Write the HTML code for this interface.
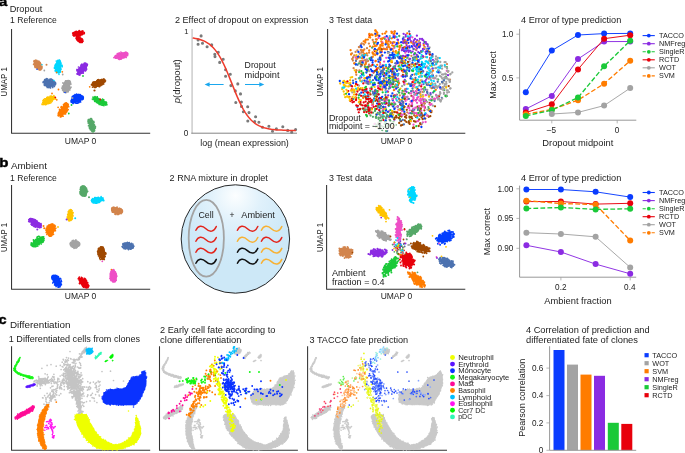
<!DOCTYPE html><html><head><meta charset="utf-8"><title>fig</title><style>html,body{margin:0;padding:0;background:#fff}svg{display:block;will-change:transform}</style></head><body><svg width="685" height="453" viewBox="0 0 685 453" font-family='"Liberation Sans", sans-serif' fill="#222">
<rect width="685" height="453" fill="#fff"/>
<text x="-0.9" y="6.2" font-size="12.4" font-weight="bold" fill="#000" stroke="#000" stroke-width="0.4" transform="scale(1.2 1)">a</text>
<text x="9.7" y="11.5" font-size="8.8" textLength="32.6" lengthAdjust="spacingAndGlyphs">Dropout</text>
<text x="10.1" y="22.9" font-size="8.8" textLength="46.8" lengthAdjust="spacingAndGlyphs">1 Reference</text>
<path d="M11.55 29.0V133.2H150.2" stroke="#333" stroke-width="1.05" fill="none" stroke-linejoin="round"/>
<text x="7.3" y="81.8" font-size="8.7" text-anchor="middle" textLength="29.2" lengthAdjust="spacingAndGlyphs" transform="rotate(-90 7.3 81.8)">UMAP 1</text>
<text x="80.6" y="143.7" font-size="8.7" text-anchor="middle" textLength="31.5" lengthAdjust="spacingAndGlyphs">UMAP 0</text>
<ellipse cx="78.5" cy="33.5" rx="4.9" ry="2.3" transform="rotate(-8 78.5 33.5)" fill="#e8000b"/>
<g fill="#e8000b"><circle cx="74.3" cy="33.6" r="1.8"/><circle cx="76.1" cy="33.9" r="1.8"/><circle cx="78.0" cy="33.6" r="1.8"/><circle cx="80.3" cy="32.6" r="1.7"/><circle cx="82.5" cy="33.4" r="1.5"/></g>
<path d="M79.8 35.9h0M83.4 32.0h0M73.8 36.0h0M84.3 33.5h0M77.7 35.6h0M82.1 34.5h0M80.0 31.4h0M73.6 32.9h0M75.1 35.8h0M82.3 33.7h0M80.4 35.8h0M74.5 35.1h0M74.1 32.9h0M77.1 36.3h0M76.8 31.7h0M73.7 33.1h0M82.2 31.1h0M77.4 36.5h0M82.3 34.6h0M78.4 31.5h0M74.6 34.2h0M75.4 31.5h0M73.0 33.0h0M76.7 36.2h0M73.9 32.7h0M72.9 35.0h0M83.1 32.0h0M76.2 32.2h0M76.5 31.3h0M84.3 32.6h0M77.8 35.9h0M76.4 32.2h0M74.4 34.6h0M81.7 34.4h0M78.7 31.5h0M78.9 35.8h0M81.1 31.7h0M73.7 35.0h0M82.6 31.0h0M81.3 31.5h0M74.6 35.2h0M82.8 30.9h0M81.2 34.8h0M79.3 35.5h0M73.3 34.5h0M78.4 35.4h0M74.5 35.2h0M72.7 33.1h0M76.3 31.5h0M74.2 32.3h0M84.3 33.6h0M79.2 30.6h0M79.6 31.1h0M75.3 35.1h0M75.6 32.5h0" stroke="#e8000b" stroke-width="1.7" stroke-linecap="round" fill="none"/>
<ellipse cx="79.5" cy="39.5" rx="3.2" ry="1.9" transform="rotate(40 79.5 39.5)" fill="#e8000b"/>
<g fill="#e8000b"><circle cx="77.5" cy="37.4" r="1.2"/><circle cx="78.7" cy="38.2" r="1.3"/><circle cx="79.6" cy="39.0" r="1.7"/><circle cx="80.0" cy="40.5" r="1.7"/><circle cx="81.5" cy="40.8" r="1.4"/></g>
<path d="M77.3 39.3h0M82.6 39.5h0M76.8 37.7h0M80.7 41.6h0M77.3 39.6h0M81.5 39.2h0M82.3 42.3h0M77.6 37.5h0M77.9 37.6h0M76.7 36.6h0M82.4 39.8h0M78.1 40.8h0M79.7 42.2h0M77.0 36.8h0M77.5 39.8h0M82.1 38.8h0M82.4 39.6h0M82.0 39.0h0M78.6 41.3h0M77.5 39.4h0M81.5 41.6h0M78.0 41.0h0M82.2 41.1h0M83.0 41.2h0M82.1 41.0h0M78.8 41.1h0M79.2 41.3h0M78.4 36.4h0M81.9 39.4h0M79.0 36.7h0M81.2 42.3h0M82.7 40.6h0M80.8 38.0h0M79.5 42.1h0M76.8 39.8h0M82.1 41.2h0M76.1 38.5h0M80.2 38.0h0M80.2 41.6h0M82.7 40.5h0M80.1 42.4h0M82.4 41.6h0M76.9 39.5h0M80.1 41.5h0M82.4 41.5h0M76.7 36.7h0M76.2 37.9h0M81.5 39.2h0M78.3 40.8h0M78.3 41.2h0M78.1 40.8h0M80.4 42.5h0M77.0 39.4h0M77.6 36.4h0M76.1 38.1h0" stroke="#e8000b" stroke-width="1.7" stroke-linecap="round" fill="none"/>
<ellipse cx="121.2" cy="55.7" rx="5.9" ry="2.9" transform="rotate(-12 121.2 55.7)" fill="#ee4fc6"/>
<g fill="#ee4fc6"><circle cx="116.5" cy="56.8" r="2.2"/><circle cx="118.2" cy="56.2" r="2.1"/><circle cx="120.7" cy="56.3" r="2.4"/><circle cx="123.6" cy="55.6" r="2.5"/><circle cx="125.7" cy="54.8" r="2.2"/></g>
<path d="M121.7 53.1h0M116.1 55.8h0M120.8 59.2h0M115.0 56.9h0M120.9 52.1h0M115.5 58.1h0M115.1 56.9h0M118.5 53.4h0M115.2 56.3h0M127.1 53.2h0M125.8 52.1h0M121.5 58.8h0M127.5 53.1h0M124.8 56.9h0M116.9 57.5h0M122.0 58.0h0M117.3 53.5h0M124.9 53.3h0M119.2 52.9h0M126.2 57.5h0M126.2 54.1h0M126.5 53.7h0M113.9 57.6h0M123.2 53.0h0M115.9 58.1h0M118.9 58.4h0M119.1 59.3h0M127.4 54.8h0M117.1 57.5h0M118.7 59.1h0M116.4 56.5h0M127.9 53.9h0M125.9 54.2h0M121.2 58.1h0M121.6 52.9h0M125.6 56.9h0M126.7 52.7h0M121.5 58.2h0M126.3 53.1h0M119.2 53.7h0M127.6 55.5h0M117.1 57.7h0M126.9 53.2h0M122.3 53.1h0M123.8 53.2h0M124.6 52.7h0M118.5 59.0h0M125.8 53.5h0M125.9 57.0h0M122.1 58.0h0M124.1 57.1h0M123.4 57.9h0M119.6 59.3h0M120.3 58.9h0M124.2 57.7h0" stroke="#ee4fc6" stroke-width="1.7" stroke-linecap="round" fill="none"/>
<ellipse cx="37.8" cy="65.0" rx="4.8" ry="2.7" transform="rotate(50 37.8 65.0)" fill="#d2844c"/>
<g fill="#d2844c"><circle cx="35.3" cy="61.4" r="1.6"/><circle cx="36.6" cy="63.7" r="2.1"/><circle cx="37.2" cy="65.4" r="2.2"/><circle cx="39.3" cy="66.7" r="2.3"/><circle cx="40.7" cy="68.1" r="2.0"/></g>
<path d="M38.8 61.1h0M33.6 64.4h0M39.1 62.0h0M34.2 63.0h0M39.7 68.5h0M40.0 69.7h0M35.9 66.4h0M39.7 69.9h0M41.9 66.4h0M35.3 65.9h0M34.9 65.8h0M37.7 68.6h0M34.8 66.8h0M41.4 68.5h0M35.3 67.4h0M34.8 65.3h0M40.8 68.6h0M34.3 61.5h0M36.7 67.9h0M40.6 68.4h0M39.3 69.0h0M39.7 68.2h0M35.0 65.4h0M36.2 60.7h0M40.2 63.0h0M39.5 61.9h0M34.2 63.4h0M40.6 68.0h0M39.6 62.4h0M40.7 69.8h0M41.9 66.9h0M39.9 62.5h0M38.2 68.9h0M34.2 60.5h0M41.4 64.5h0M35.9 60.0h0M38.6 61.5h0M36.4 66.8h0M38.3 68.7h0M39.2 69.8h0M35.5 60.5h0M37.1 60.7h0M35.3 62.2h0M41.2 64.3h0M34.6 61.1h0M37.9 62.1h0M39.5 63.1h0M39.5 68.8h0M39.3 63.0h0M40.2 62.5h0M34.7 61.5h0M34.0 61.2h0M40.5 63.5h0M37.6 61.9h0M37.9 68.3h0" stroke="#d2844c" stroke-width="1.7" stroke-linecap="round" fill="none"/>
<ellipse cx="58.3" cy="66.5" rx="5.3" ry="3.0" transform="rotate(95 58.3 66.5)" fill="#00d7ff"/>
<g fill="#00d7ff"><circle cx="59.0" cy="62.5" r="2.4"/><circle cx="59.3" cy="63.9" r="2.3"/><circle cx="57.9" cy="66.7" r="3.1"/><circle cx="58.1" cy="68.4" r="2.6"/><circle cx="58.6" cy="70.8" r="2.6"/></g>
<path d="M54.5 68.3h0M58.9 70.5h0M57.9 60.3h0M58.5 71.8h0M55.6 65.7h0M58.8 71.1h0M59.9 62.6h0M59.5 60.0h0M55.2 70.5h0M59.1 60.0h0M61.1 65.3h0M59.8 71.1h0M57.6 70.6h0M58.6 61.1h0M55.9 64.8h0M56.1 63.5h0M60.1 68.9h0M62.0 66.8h0M55.3 71.1h0M62.1 65.3h0M55.5 65.0h0M56.3 61.0h0M60.3 62.3h0M57.4 62.0h0M57.2 70.7h0M60.5 69.2h0M59.0 71.1h0M55.2 65.7h0M55.4 68.2h0M58.8 72.8h0M61.2 69.0h0M59.8 72.3h0M59.9 60.8h0M56.7 72.2h0M57.7 60.5h0M60.8 63.6h0M56.6 72.7h0M55.7 70.1h0M56.2 63.5h0M62.2 66.4h0M54.9 65.8h0M55.4 64.5h0M57.0 62.7h0M55.8 68.8h0M59.7 71.2h0M54.5 67.4h0M57.9 71.9h0M56.0 69.3h0M56.3 70.7h0M56.4 70.4h0M55.1 65.9h0M60.2 71.4h0M57.1 61.8h0M59.2 61.4h0M56.4 64.0h0" stroke="#00d7ff" stroke-width="1.7" stroke-linecap="round" fill="none"/>
<ellipse cx="82.0" cy="69.0" rx="6.2" ry="3.0" transform="rotate(-48 82.0 69.0)" fill="#8b2be2"/>
<g fill="#8b2be2"><circle cx="79.0" cy="73.6" r="1.9"/><circle cx="80.5" cy="71.0" r="2.9"/><circle cx="81.4" cy="69.0" r="2.6"/><circle cx="83.5" cy="67.1" r="3.0"/><circle cx="86.2" cy="65.3" r="1.8"/></g>
<path d="M87.2 64.3h0M84.0 63.9h0M78.2 71.3h0M79.8 75.1h0M81.9 64.2h0M85.4 64.5h0M86.1 67.0h0M77.0 73.8h0M85.5 63.2h0M77.0 70.3h0M78.4 74.3h0M87.4 64.3h0M85.4 70.9h0M77.9 70.1h0M86.2 67.4h0M76.9 70.7h0M85.8 67.2h0M77.2 73.6h0M80.5 73.4h0M78.3 71.0h0M82.8 72.5h0M85.8 63.4h0M83.6 64.0h0M84.4 70.5h0M86.0 63.3h0M82.5 71.8h0M77.3 74.2h0M79.6 73.7h0M77.0 69.6h0M84.3 70.1h0M81.7 73.2h0M78.6 69.0h0M80.9 65.2h0M78.2 73.1h0M85.5 64.3h0M81.7 65.5h0M85.5 70.4h0M83.3 73.1h0M78.4 73.2h0M84.9 70.2h0M76.9 69.7h0M86.3 67.8h0M86.0 70.2h0M85.6 67.9h0M86.7 65.5h0M84.4 63.0h0M78.5 67.0h0M84.7 64.2h0M86.7 69.1h0M80.1 67.4h0M78.0 69.6h0M80.7 73.5h0M85.2 68.6h0M83.4 71.8h0M84.9 64.7h0" stroke="#8b2be2" stroke-width="1.7" stroke-linecap="round" fill="none"/>
<ellipse cx="49.3" cy="83.3" rx="5.0" ry="3.6" transform="rotate(15 49.3 83.3)" fill="#4c72b0"/>
<g fill="#4c72b0"><circle cx="46.0" cy="81.7" r="2.6"/><circle cx="47.5" cy="83.5" r="3.1"/><circle cx="48.9" cy="83.1" r="3.2"/><circle cx="51.9" cy="83.3" r="2.8"/><circle cx="53.9" cy="83.5" r="2.5"/></g>
<path d="M52.5 80.1h0M52.9 85.0h0M54.4 86.5h0M48.0 87.3h0M53.6 82.3h0M47.3 87.5h0M46.6 80.2h0M49.2 79.8h0M47.9 85.9h0M50.7 79.0h0M46.1 78.9h0M53.5 85.0h0M43.1 82.4h0M54.1 83.5h0M48.3 86.8h0M43.2 81.9h0M50.6 87.7h0M50.0 79.0h0M51.1 79.7h0M46.3 85.7h0M44.8 85.5h0M52.7 85.8h0M50.2 80.1h0M52.6 85.4h0M45.2 81.0h0M55.3 84.3h0M53.8 84.2h0M52.4 85.7h0M43.8 81.9h0M44.9 83.2h0M44.2 84.0h0M47.7 79.0h0M53.3 80.9h0M52.7 87.4h0M46.9 86.6h0M44.6 85.2h0M49.9 86.7h0M48.6 86.4h0M53.9 81.8h0M46.3 85.8h0M54.4 84.5h0M48.9 87.6h0M46.8 78.7h0M52.7 86.5h0M52.8 80.1h0M53.1 82.7h0M47.4 85.9h0M50.5 88.0h0M44.7 79.7h0M44.4 85.3h0M44.8 83.2h0M51.5 79.2h0M52.8 86.8h0M46.7 80.3h0M45.9 84.8h0" stroke="#4c72b0" stroke-width="1.7" stroke-linecap="round" fill="none"/>
<ellipse cx="66.3" cy="86.5" rx="5.0" ry="3.7" transform="rotate(110 66.3 86.5)" fill="#a3a3a3"/>
<g fill="#a3a3a3"><circle cx="68.3" cy="82.6" r="2.9"/><circle cx="67.6" cy="85.0" r="2.6"/><circle cx="66.0" cy="86.2" r="3.1"/><circle cx="66.3" cy="88.5" r="3.6"/><circle cx="65.8" cy="90.7" r="2.4"/></g>
<path d="M65.4 81.7h0M69.5 84.8h0M61.8 88.0h0M65.9 82.1h0M62.9 82.9h0M63.5 83.3h0M64.6 82.5h0M68.3 91.7h0M64.9 82.9h0M69.7 87.1h0M64.0 92.2h0M66.2 80.8h0M65.6 80.8h0M67.0 82.2h0M64.1 91.4h0M71.0 84.0h0M62.6 90.1h0M64.8 82.1h0M62.7 88.2h0M69.0 80.9h0M62.6 89.4h0M69.8 90.0h0M62.9 86.8h0M65.8 92.7h0M67.4 82.5h0M66.4 91.2h0M67.0 91.6h0M68.4 89.4h0M69.1 88.6h0M65.6 80.9h0M68.3 89.5h0M62.5 86.2h0M68.4 82.0h0M62.9 88.8h0M71.0 87.2h0M63.5 91.0h0M69.1 87.7h0M68.1 89.6h0M70.0 83.2h0M69.8 84.3h0M66.1 81.4h0M66.2 81.1h0M66.8 81.6h0M63.9 91.4h0M67.6 82.1h0M70.3 88.5h0M66.9 82.2h0M67.2 82.4h0M62.5 88.8h0M62.9 89.8h0M67.9 82.7h0M69.5 84.7h0M70.7 87.4h0M67.9 82.7h0M68.1 81.9h0" stroke="#a3a3a3" stroke-width="1.7" stroke-linecap="round" fill="none"/>
<ellipse cx="98.6" cy="82.8" rx="6.2" ry="3.0" transform="rotate(-25 98.6 82.8)" fill="#9f4800"/>
<g fill="#9f4800"><circle cx="94.2" cy="84.1" r="2.7"/><circle cx="97.1" cy="84.0" r="3.0"/><circle cx="98.6" cy="83.8" r="2.8"/><circle cx="101.8" cy="82.2" r="2.2"/><circle cx="103.9" cy="81.2" r="1.9"/></g>
<path d="M95.9 87.2h0M103.7 83.9h0M99.1 86.6h0M103.3 83.4h0M102.5 79.5h0M99.5 85.9h0M97.6 85.7h0M101.7 84.1h0M103.9 78.8h0M101.8 79.5h0M98.6 80.0h0M92.2 85.1h0M95.4 87.4h0M92.4 84.5h0M101.4 79.6h0M104.8 79.8h0M94.3 87.3h0M99.6 86.6h0M93.2 83.8h0M97.8 79.8h0M102.8 84.3h0M105.5 80.8h0M99.9 85.9h0M104.5 79.7h0M94.8 81.8h0M103.2 80.7h0M103.4 83.5h0M93.8 86.5h0M101.8 79.6h0M100.9 85.4h0M103.2 81.0h0M96.5 86.0h0M96.3 86.2h0M92.6 83.8h0M101.7 84.9h0M94.0 85.4h0M102.9 79.6h0M102.3 83.4h0M93.0 82.3h0M98.5 79.6h0M99.2 85.2h0M93.8 82.2h0M96.1 87.0h0M92.5 87.1h0M96.9 80.5h0M101.8 79.8h0M92.8 84.8h0M100.0 84.9h0M98.4 80.2h0M91.4 84.8h0M102.7 83.3h0M93.2 83.1h0M93.2 82.2h0M102.1 84.0h0M98.2 85.6h0" stroke="#9f4800" stroke-width="1.7" stroke-linecap="round" fill="none"/>
<ellipse cx="48.6" cy="100.3" rx="6.4" ry="2.6" transform="rotate(-28 48.6 100.3)" fill="#ffc400"/>
<g fill="#ffc400"><circle cx="44.7" cy="102.9" r="2.2"/><circle cx="46.0" cy="102.3" r="2.3"/><circle cx="48.7" cy="100.7" r="2.4"/><circle cx="50.3" cy="98.7" r="2.0"/><circle cx="52.5" cy="97.9" r="2.2"/></g>
<path d="M44.9 98.9h0M46.2 98.9h0M42.8 102.4h0M48.8 97.2h0M49.4 103.2h0M53.3 97.2h0M51.2 97.3h0M49.4 102.6h0M46.8 97.5h0M47.3 98.2h0M51.7 96.7h0M50.6 102.9h0M43.2 100.7h0M43.6 99.7h0M42.2 104.4h0M45.0 98.8h0M43.2 104.5h0M43.3 101.9h0M51.4 102.0h0M55.5 98.4h0M52.2 100.3h0M55.0 99.2h0M46.7 103.4h0M53.3 98.2h0M45.1 99.1h0M45.1 98.9h0M54.7 98.3h0M45.3 104.7h0M50.2 96.2h0M55.5 98.1h0M53.9 95.6h0M53.2 99.5h0M52.7 99.7h0M51.3 96.0h0M43.0 100.6h0M44.2 100.6h0M53.0 99.4h0M47.7 98.1h0M47.3 103.7h0M53.9 97.8h0M48.7 103.6h0M45.8 103.9h0M54.0 96.7h0M51.2 96.3h0M54.4 97.8h0M43.1 104.6h0M46.1 104.4h0M43.4 102.4h0M50.9 97.2h0M49.7 97.3h0M53.6 97.6h0M47.6 97.1h0M54.5 97.3h0M42.0 104.0h0M52.1 101.3h0" stroke="#ffc400" stroke-width="1.7" stroke-linecap="round" fill="none"/>
<ellipse cx="76.8" cy="98.8" rx="5.3" ry="3.6" transform="rotate(-20 76.8 98.8)" fill="#023eff"/>
<g fill="#023eff"><circle cx="72.8" cy="101.0" r="2.4"/><circle cx="75.1" cy="98.9" r="2.8"/><circle cx="77.0" cy="98.7" r="2.9"/><circle cx="78.7" cy="97.1" r="3.4"/><circle cx="81.3" cy="97.8" r="2.8"/></g>
<path d="M74.7 102.6h0M72.9 103.1h0M82.8 99.1h0M81.4 97.7h0M77.8 103.2h0M71.9 100.6h0M79.4 95.5h0M72.0 101.5h0M75.5 94.8h0M72.9 97.2h0M75.7 102.2h0M78.7 94.5h0M75.5 95.9h0M71.9 102.3h0M72.5 98.8h0M71.2 102.0h0M78.2 101.7h0M76.3 103.2h0M78.3 95.4h0M80.3 100.5h0M75.5 102.9h0M80.4 100.7h0M80.6 102.0h0M75.2 96.1h0M80.7 96.6h0M73.1 103.4h0M77.0 94.4h0M73.2 101.5h0M73.3 97.6h0M79.3 101.6h0M81.9 97.8h0M76.9 94.5h0M71.3 100.8h0M72.8 101.0h0M72.1 98.2h0M74.9 94.7h0M72.5 102.1h0M75.5 95.4h0M79.0 102.4h0M80.1 94.5h0M73.5 95.5h0M73.2 96.2h0M72.6 101.4h0M73.1 97.8h0M72.4 102.6h0M74.2 95.6h0M78.0 102.2h0M71.9 101.8h0M72.8 102.6h0M80.3 96.1h0M72.3 96.7h0M73.7 102.5h0M80.6 96.9h0M72.3 99.5h0M76.5 94.2h0" stroke="#023eff" stroke-width="1.7" stroke-linecap="round" fill="none"/>
<ellipse cx="99.6" cy="101.0" rx="6.5" ry="2.6" transform="rotate(25 99.6 101.0)" fill="#1ac938"/>
<g fill="#1ac938"><circle cx="95.1" cy="98.2" r="2.0"/><circle cx="97.1" cy="100.2" r="2.2"/><circle cx="99.6" cy="101.6" r="2.5"/><circle cx="101.6" cy="102.7" r="2.0"/><circle cx="104.7" cy="103.2" r="2.1"/></g>
<path d="M104.0 105.6h0M95.9 101.1h0M97.6 102.9h0M105.4 104.0h0M93.1 99.5h0M95.5 101.2h0M99.4 104.2h0M105.8 102.8h0M99.7 104.4h0M94.8 100.4h0M103.4 105.3h0M103.1 99.7h0M93.1 98.6h0M99.3 104.5h0M94.7 101.3h0M103.8 99.8h0M93.9 98.9h0M95.0 98.1h0M103.4 100.4h0M103.7 100.7h0M95.0 100.7h0M94.5 99.8h0M106.4 104.2h0M97.5 102.6h0M96.6 102.4h0M93.2 99.4h0M97.4 97.6h0M106.6 102.8h0M105.8 105.1h0M106.1 102.1h0M103.1 105.3h0M97.1 98.1h0M106.9 104.7h0M97.4 97.8h0M103.1 104.1h0M99.0 104.1h0M95.9 101.3h0M106.1 102.1h0M102.0 105.2h0M95.0 96.7h0M97.2 96.8h0M102.6 99.0h0M100.6 104.6h0M93.1 97.3h0M92.4 99.0h0M94.8 97.8h0M99.2 103.3h0M94.7 98.8h0M94.4 99.1h0M93.4 98.3h0M93.0 97.0h0M106.7 104.4h0M93.1 98.6h0M97.1 96.9h0M94.6 100.7h0" stroke="#1ac938" stroke-width="1.7" stroke-linecap="round" fill="none"/>
<ellipse cx="63.5" cy="110.2" rx="6.5" ry="3.2" transform="rotate(-58 63.5 110.2)" fill="#ff7c00"/>
<g fill="#ff7c00"><circle cx="60.3" cy="113.7" r="2.6"/><circle cx="61.4" cy="111.8" r="2.8"/><circle cx="64.3" cy="110.4" r="2.8"/><circle cx="65.3" cy="107.4" r="2.6"/><circle cx="65.9" cy="104.7" r="2.5"/></g>
<path d="M59.3 112.8h0M63.7 105.4h0M60.4 116.2h0M61.5 108.0h0M61.4 116.0h0M58.5 115.8h0M65.5 113.9h0M62.1 116.0h0M65.8 112.7h0M66.8 103.8h0M61.8 107.2h0M64.5 113.8h0M58.7 114.5h0M61.9 107.9h0M59.5 109.3h0M60.2 114.2h0M64.7 112.9h0M68.2 109.6h0M58.6 113.8h0M61.3 106.5h0M58.7 113.6h0M58.5 113.2h0M58.5 114.3h0M67.4 110.6h0M60.4 117.0h0M67.4 107.2h0M68.2 104.3h0M65.3 103.9h0M63.1 116.2h0M61.5 107.1h0M65.9 112.1h0M61.8 115.6h0M61.3 116.6h0M65.2 105.5h0M60.0 113.7h0M68.7 106.7h0M58.1 115.4h0M61.6 114.8h0M62.6 116.0h0M66.2 102.9h0M60.5 115.9h0M68.4 106.4h0M66.5 110.5h0M66.4 106.0h0M60.2 110.8h0M65.9 105.4h0M63.8 105.9h0M67.8 104.1h0M66.8 111.8h0M66.6 109.7h0M61.0 107.3h0M63.5 104.7h0M68.3 105.9h0M59.9 110.0h0M65.4 104.9h0" stroke="#ff7c00" stroke-width="1.7" stroke-linecap="round" fill="none"/>
<ellipse cx="91.6" cy="125.0" rx="5.6" ry="2.7" transform="rotate(72 91.6 125.0)" fill="#55a868"/>
<g fill="#55a868"><circle cx="90.0" cy="121.3" r="1.7"/><circle cx="90.5" cy="122.3" r="2.5"/><circle cx="91.7" cy="124.4" r="2.8"/><circle cx="91.6" cy="127.0" r="2.4"/><circle cx="93.1" cy="128.8" r="2.2"/></g>
<path d="M88.7 119.8h0M90.4 129.7h0M88.1 121.8h0M92.3 120.7h0M88.0 120.9h0M94.6 130.6h0M91.1 120.1h0M92.4 131.7h0M94.0 122.2h0M88.2 122.9h0M94.1 131.2h0M91.8 120.4h0M88.3 119.6h0M88.1 121.4h0M91.8 119.1h0M94.5 126.0h0M93.2 130.0h0M88.6 120.3h0M95.4 126.7h0M92.8 131.5h0M95.4 126.5h0M91.2 120.2h0M95.3 128.0h0M93.7 121.4h0M89.0 123.0h0M90.7 118.7h0M89.3 127.8h0M94.0 129.1h0M91.9 119.7h0M89.6 120.5h0M88.5 125.8h0M94.7 125.6h0M91.7 130.9h0M94.2 124.9h0M91.3 118.7h0M94.8 128.6h0M89.3 119.4h0M90.0 127.5h0M89.7 128.4h0M88.2 122.0h0M88.5 120.9h0M90.7 128.1h0M93.3 130.2h0M91.3 130.2h0M94.2 125.4h0M91.7 120.3h0M90.5 120.7h0M93.1 131.9h0M94.8 128.0h0M91.1 120.2h0M94.5 125.1h0M94.5 130.6h0M95.5 126.8h0M89.4 125.6h0M89.8 127.2h0" stroke="#55a868" stroke-width="1.7" stroke-linecap="round" fill="none"/>
<path d="M46.5 64.7h0" stroke="#d2844c" stroke-width="2.0" stroke-linecap="round" fill="none"/>
<path d="M44.3 70.5h0M62.7 74.5h0M72.5 98.0h0" stroke="#a3a3a3" stroke-width="1.8" stroke-linecap="round" fill="none"/>
<path d="M62.3 71.8h0M56.6 72.3h0M58.5 89.5h0M52.0 93.5h0M56.8 99.8h0M58.1 107.3h0M89.7 86.8h0" stroke="#ff7c00" stroke-width="1.8" stroke-linecap="round" fill="none"/>
<path d="M42.0 64.8h0M54.0 80.5h0M59.0 74.5h0" stroke="#00d7ff" stroke-width="1.6" stroke-linecap="round" fill="none"/>
<path d="M83.0 76.0h0M71.5 105.0h0M68.8 113.5h0" stroke="#1ac938" stroke-width="1.8" stroke-linecap="round" fill="none"/>
<path d="M55.3 97.3h0M100.2 99.5h0" stroke="#e8000b" stroke-width="1.8" stroke-linecap="round" fill="none"/>
<path d="M94.5 90.5h0" stroke="#9f4800" stroke-width="2.2" stroke-linecap="round" fill="none"/>
<path d="M37.0 69.3h0M65.0 92.5h0" stroke="#023eff" stroke-width="1.6" stroke-linecap="round" fill="none"/>
<text x="174.9" y="22.8" font-size="8.8" textLength="133.5" lengthAdjust="spacingAndGlyphs">2 Effect of dropout on expression</text>
<path d="M192.1 29.0V133.6" stroke="#d2d2d2" stroke-width="1.7" fill="none"/><path d="M191.3 133.2H297" stroke="#858585" stroke-width="1" fill="none"/>
<text x="188.6" y="33.9" font-size="7.6" text-anchor="end">1</text>
<text x="188.4" y="135.8" font-size="8.2" text-anchor="end">0</text>
<text x="180.0" y="81.2" font-size="8.8" text-anchor="middle" textLength="44" lengthAdjust="spacingAndGlyphs" transform="rotate(-90 180.0 81.2)"><tspan font-style="italic">p</tspan>(dropout)</text>
<text x="244.6" y="146.4" font-size="8.8" text-anchor="middle" textLength="88.5" lengthAdjust="spacingAndGlyphs">log (mean expression)</text>
<path d="M201.1 35.9h0M198.1 39.9h0M198.1 44.2h0M202.5 43.2h0M207.1 46.8h0M211.7 44.9h0M218.3 52.2h0M214.8 54.2h0M215.0 56.6h0M223.2 59.3h0M219.7 62.4h0M225.6 69.7h0M230.3 74.3h0M225.6 76.3h0M237.8 83.9h0M230.9 85.6h0M235.3 90.9h0M240.5 93.9h0M235.8 102.5h0M241.4 102.0h0M241.5 106.4h0M247.7 106.8h0M243.4 111.7h0M249.0 112.6h0M255.6 116.8h0M247.8 121.0h0M254.7 121.6h0M258.9 122.3h0M262.5 127.3h0M268.9 126.3h0M272.5 131.3h0M276.4 128.9h0M282.8 126.7h0M287.7 130.4h0M291.7 132.2h0M295.6 129.6h0" stroke="#7a7a7a" stroke-width="3.1" stroke-linecap="round" fill="none"/>
<path d="M193.3 38.1 L195.3 38.4 L197.3 38.8 L199.3 39.3 L201.3 40.0 L203.3 40.7 L205.3 41.7 L207.3 42.8 L209.3 44.2 L211.3 45.9 L213.3 47.8 L215.3 50.1 L217.3 52.8 L219.3 55.9 L221.3 59.4 L223.3 63.3 L225.3 67.6 L227.3 72.2 L229.3 77.1 L231.3 82.1 L233.3 87.1 L235.3 92.1 L237.3 96.9 L239.3 101.4 L241.3 105.5 L243.3 109.3 L245.3 112.6 L247.3 115.5 L249.3 118.1 L251.3 120.2 L253.3 122.0 L255.3 123.6 L257.3 124.9 L259.3 125.9 L261.3 126.8 L263.3 127.5 L265.3 128.1 L267.3 128.6 L269.3 128.9 L271.3 129.3 L273.3 129.5 L275.3 129.7 L277.3 129.9 L279.3 130.0 L281.3 130.1 L283.3 130.2 L285.3 130.3 L287.3 130.4 L289.3 130.4 L291.3 130.4 L293.3 130.5 L295.3 130.5" stroke="#ef3b2c" stroke-width="1.5" fill="none" stroke-linecap="round"/>
<text x="244.6" y="68.2" font-size="8.8" textLength="31" lengthAdjust="spacingAndGlyphs">Dropout</text>
<text x="244.6" y="78.0" font-size="8.8" textLength="35" lengthAdjust="spacingAndGlyphs">midpoint</text>
<path d="M209 84.5H223.6M245 84.5H260" stroke="#1aa7ee" stroke-width="1.2" fill="none"/>
<path d="M204.6 84.5l5 -2.2v4.4zM264.3 84.5l-5 -2.2v4.4z" fill="#1aa7ee"/>
<text x="328.9" y="22.8" font-size="8.8" textLength="43.4" lengthAdjust="spacingAndGlyphs">3 Test data</text>
<path d="M327.6 29.0V133.2H465.3" stroke="#333" stroke-width="1.05" fill="none" stroke-linejoin="round"/>
<text x="323.0" y="81.8" font-size="8.7" text-anchor="middle" textLength="29.2" lengthAdjust="spacingAndGlyphs" transform="rotate(-90 323.0 81.8)">UMAP 1</text>
<text x="396.4" y="143.7" font-size="8.7" text-anchor="middle" textLength="31.5" lengthAdjust="spacingAndGlyphs">UMAP 0</text>
<path d="M414.0 44.3h0M405.3 51.0h0M426.3 43.7h0M408.8 50.4h0M403.3 40.1h0M422.1 38.8h0M414.7 46.0h0M415.2 53.3h0M398.0 40.0h0M430.5 93.2h0M413.7 49.2h0M380.0 84.0h0M413.8 40.3h0M387.0 47.6h0M404.6 39.9h0M423.6 43.7h0M425.6 51.9h0M394.4 119.7h0M408.5 39.7h0M410.9 41.2h0M406.1 51.3h0M418.3 52.2h0M388.2 95.4h0M414.0 54.5h0M404.8 79.8h0M385.4 86.8h0M403.0 56.6h0M406.3 88.8h0M415.0 39.0h0M448.0 75.2h0M410.5 36.8h0M397.5 39.7h0M404.3 47.2h0M378.4 105.8h0M401.9 50.3h0M424.4 41.8h0M402.4 47.9h0M424.5 48.9h0M417.0 48.2h0M380.6 115.7h0M425.4 67.6h0M426.2 79.6h0M395.9 44.6h0M419.8 46.3h0M427.8 49.6h0" stroke="#8b2be2" stroke-width="2.3" stroke-linecap="round" fill="none"/>
<path d="M425.9 100.4h0M402.4 97.9h0M413.8 59.6h0M385.4 73.7h0M393.3 78.3h0M420.5 72.9h0M392.7 98.9h0M403.6 60.9h0M397.0 81.2h0M382.0 70.8h0M399.9 119.0h0M373.0 83.5h0M420.5 109.3h0M414.8 53.5h0M384.2 99.0h0M404.0 81.9h0M389.6 86.5h0M419.8 82.9h0M413.8 43.3h0M405.8 41.8h0M362.7 108.7h0M376.9 96.6h0M399.1 92.7h0M383.7 127.5h0M397.3 46.4h0M393.0 84.0h0M413.0 71.0h0M392.4 86.9h0M402.9 98.7h0M425.0 42.2h0M444.1 89.9h0M397.9 106.5h0M401.7 60.6h0M401.7 65.1h0M367.6 106.1h0M392.1 55.0h0M446.9 96.1h0M389.2 66.7h0M403.5 63.2h0M411.2 52.6h0M384.3 85.8h0M404.7 56.9h0M366.9 116.3h0M361.4 71.2h0M403.9 82.0h0M377.4 91.9h0M402.5 90.8h0M366.1 98.0h0" stroke="#1ac938" stroke-width="2.3" stroke-linecap="round" fill="none"/>
<path d="M393.5 57.3h0M434.6 101.0h0M433.1 92.6h0M403.6 37.5h0M390.0 59.9h0M397.9 87.3h0M428.3 84.8h0M399.0 69.7h0M412.9 57.9h0M441.8 97.8h0M394.1 75.5h0M419.4 71.1h0M398.2 91.3h0M389.7 84.6h0M397.6 106.7h0M390.4 81.1h0M379.9 77.9h0M380.7 51.6h0M427.3 48.7h0M385.4 95.1h0M413.5 48.8h0M412.1 106.1h0M409.2 31.5h0M398.4 57.6h0M364.1 56.0h0M380.5 57.1h0M416.8 68.1h0M412.5 88.4h0M401.1 105.3h0M387.5 82.0h0M390.1 87.8h0M371.5 57.4h0M393.6 74.4h0M394.5 103.1h0M356.0 61.0h0M434.5 87.8h0M422.0 62.9h0M416.1 64.0h0M357.3 106.9h0M363.2 96.1h0M395.0 58.0h0M377.5 100.9h0M368.6 83.8h0M401.0 56.5h0M376.9 70.0h0M387.9 116.5h0M427.7 44.5h0M388.9 76.5h0M415.5 78.0h0M362.9 62.9h0M402.2 104.7h0M378.8 94.5h0M437.7 81.8h0M386.0 78.0h0M397.8 56.5h0M414.2 84.9h0M375.2 93.9h0M382.6 103.8h0M417.9 109.9h0M408.1 64.6h0" stroke="#4c72b0" stroke-width="2.3" stroke-linecap="round" fill="none"/>
<path d="M383.2 72.3h0M353.9 101.8h0M368.4 96.2h0M375.1 91.1h0M362.8 90.4h0M369.8 82.5h0M415.4 64.0h0M365.7 90.0h0M405.9 42.8h0M370.1 108.4h0M348.3 91.1h0M375.3 91.0h0M403.3 103.1h0M357.6 85.0h0M357.9 105.8h0M396.3 79.5h0M426.7 50.8h0M361.1 95.8h0M376.0 106.2h0M430.2 58.1h0M439.1 96.1h0M418.8 66.5h0M366.2 88.9h0M349.5 96.8h0M378.1 101.4h0M404.2 82.4h0M383.4 107.7h0M352.1 98.7h0M351.8 89.4h0M413.5 100.3h0M395.5 77.7h0M423.3 56.8h0M367.8 67.1h0M402.7 62.7h0M380.3 122.8h0M351.3 85.9h0M421.1 124.3h0M366.6 92.1h0M365.8 97.4h0M370.7 101.0h0M356.1 97.9h0M369.2 113.4h0M415.4 83.1h0M350.4 101.1h0M365.9 105.4h0M355.9 100.1h0M366.5 89.0h0M379.4 100.9h0M356.1 100.0h0M394.2 95.5h0M371.9 108.3h0" stroke="#e8000b" stroke-width="2.3" stroke-linecap="round" fill="none"/>
<path d="M401.9 62.5h0M378.5 94.3h0M368.4 66.6h0M358.8 112.4h0M389.1 116.8h0M383.4 120.1h0M408.2 38.5h0M364.9 110.3h0M371.0 109.0h0M416.0 67.1h0M369.0 102.0h0M355.6 97.6h0M386.4 98.1h0M392.3 71.4h0M402.4 109.6h0M381.2 98.0h0M378.2 88.2h0M378.7 98.7h0M394.6 37.6h0M419.2 64.8h0M359.7 109.5h0M409.7 34.1h0M378.7 101.2h0M368.1 98.6h0M389.7 116.4h0M363.7 102.4h0M367.5 96.0h0M356.0 84.0h0M362.3 105.3h0M365.7 106.2h0M369.5 35.1h0M369.8 93.3h0M374.9 51.2h0M352.0 100.3h0M366.6 112.0h0M352.1 86.4h0M363.3 92.6h0M403.5 81.6h0M379.9 104.2h0M376.7 94.1h0M360.3 102.0h0M378.5 100.9h0M401.8 70.5h0M400.9 62.3h0M357.4 91.5h0M365.7 105.6h0M373.8 106.8h0M372.6 104.9h0M405.5 56.6h0M360.6 104.4h0" stroke="#e8000b" stroke-width="2.3" stroke-linecap="round" fill="none"/>
<path d="M409.3 46.1h0M366.6 91.1h0M402.0 42.1h0M406.3 70.2h0M410.8 84.4h0M407.1 50.5h0M406.5 55.4h0M430.2 110.2h0M406.5 45.1h0M392.7 43.0h0M395.2 66.1h0M421.6 51.6h0M409.1 38.0h0M423.8 101.9h0M412.3 47.0h0M406.6 48.8h0M391.9 58.5h0M418.6 68.9h0M384.3 84.3h0M394.5 31.6h0M415.6 42.6h0M388.7 40.2h0M385.2 104.1h0M419.0 60.1h0M409.1 59.0h0M407.4 47.0h0M419.4 47.4h0M416.4 50.1h0M403.6 56.2h0M403.0 56.0h0M415.1 59.4h0M398.8 53.8h0M361.3 77.3h0M393.6 34.9h0M402.3 49.7h0M417.9 43.6h0M411.8 106.2h0M413.3 43.4h0M413.3 41.9h0M365.0 55.0h0M419.2 43.4h0M424.6 46.9h0M395.7 55.3h0M410.0 39.1h0" stroke="#8b2be2" stroke-width="2.3" stroke-linecap="round" fill="none"/>
<path d="M403.4 106.0h0M388.5 111.6h0M382.2 81.5h0M420.0 110.4h0M383.4 82.7h0M410.2 85.2h0M448.7 86.1h0M418.8 108.2h0M407.5 48.0h0M448.0 71.5h0M409.5 116.7h0M413.5 112.4h0M422.8 115.8h0M404.6 106.8h0M406.3 115.5h0M411.5 95.9h0M400.1 104.6h0M421.6 117.4h0M424.2 115.6h0M375.0 70.9h0M403.3 48.1h0M412.1 111.1h0M409.0 122.3h0M403.9 107.5h0M400.6 120.9h0M388.8 72.4h0M400.8 109.5h0M416.0 116.9h0M411.4 105.9h0M364.5 89.8h0M408.4 106.2h0M366.2 82.4h0M394.2 119.2h0M409.7 123.9h0M421.3 71.9h0M395.2 80.8h0M424.6 103.6h0M401.1 121.2h0M414.3 115.3h0M430.9 112.0h0M375.2 100.8h0M429.6 102.8h0M417.5 106.6h0M420.2 123.7h0M389.4 124.6h0M422.7 119.2h0M417.5 89.0h0" stroke="#9f4800" stroke-width="2.3" stroke-linecap="round" fill="none"/>
<path d="M424.3 103.2h0M356.2 70.4h0M356.3 74.8h0M369.6 82.3h0M414.1 64.5h0M447.0 64.1h0M355.6 51.9h0M407.6 69.9h0M372.7 40.0h0M370.3 59.4h0M363.3 57.3h0M363.1 52.3h0M359.7 78.3h0M366.5 59.7h0M363.3 57.7h0M361.2 44.1h0M399.6 62.7h0M403.8 91.4h0M352.0 53.3h0M361.5 52.7h0M358.7 56.6h0M415.9 49.7h0M399.8 95.4h0M389.5 104.8h0M369.1 52.7h0M389.6 82.4h0M351.5 53.6h0M359.2 47.2h0M396.0 63.5h0M369.0 64.6h0M367.3 55.3h0M395.5 84.5h0M360.8 49.9h0M361.8 43.5h0M415.7 94.1h0M396.1 87.2h0M387.5 47.3h0M382.5 88.3h0M386.0 88.5h0" stroke="#d2844c" stroke-width="2.3" stroke-linecap="round" fill="none"/>
<path d="M356.4 70.5h0M366.5 61.3h0M375.9 39.4h0M359.4 70.5h0M365.6 64.3h0M367.0 48.2h0M371.4 57.6h0M361.4 73.3h0M361.8 65.4h0M389.1 82.9h0M352.5 59.0h0M366.4 61.8h0M357.3 58.5h0M363.6 44.1h0M415.3 116.2h0M428.7 78.6h0M357.3 57.1h0M368.0 61.0h0M385.6 100.8h0M417.3 89.8h0M361.6 51.8h0M364.0 44.6h0M359.8 61.3h0M361.7 55.4h0M360.3 46.3h0M397.9 84.9h0M360.7 63.9h0M364.7 111.6h0M367.6 68.3h0M359.6 53.7h0M376.5 53.4h0M414.5 74.5h0M368.9 43.6h0M371.1 66.0h0M361.1 60.8h0M354.5 63.4h0M407.2 112.3h0M363.1 60.6h0" stroke="#d2844c" stroke-width="2.3" stroke-linecap="round" fill="none"/>
<path d="M384.4 73.6h0M417.1 116.6h0M361.7 64.7h0M409.0 121.2h0M402.4 124.9h0M412.2 85.4h0M420.3 123.5h0M390.3 65.8h0M394.7 117.7h0M398.9 118.0h0M411.6 116.9h0M404.8 120.4h0M425.3 118.6h0M384.9 112.8h0M417.6 44.9h0M370.5 94.4h0M429.1 96.4h0M396.7 117.4h0M431.3 112.2h0M424.4 110.3h0M397.5 85.2h0M406.4 121.9h0M420.1 66.6h0M418.7 126.0h0M421.3 114.1h0M392.5 111.5h0M412.1 118.6h0M428.8 116.8h0M389.3 38.4h0M384.4 73.1h0M410.8 117.2h0M409.7 117.7h0M365.3 96.5h0M396.7 117.6h0M399.2 123.0h0M398.7 114.3h0M427.7 115.7h0M419.9 115.7h0M396.2 115.9h0M373.6 72.5h0M402.4 106.2h0M413.6 127.5h0M393.7 96.3h0M399.6 114.1h0M417.2 93.9h0M378.5 123.2h0M360.3 104.2h0" stroke="#9f4800" stroke-width="2.3" stroke-linecap="round" fill="none"/>
<path d="M430.7 60.7h0M412.3 78.7h0M428.8 68.2h0M414.9 60.5h0M417.1 73.8h0M369.9 79.3h0M439.8 58.1h0M394.2 56.6h0M434.0 61.7h0M358.8 78.3h0M420.6 76.0h0M416.9 59.5h0M370.3 109.4h0M424.3 66.1h0M421.6 54.9h0M426.2 75.7h0M367.6 98.2h0M433.8 81.2h0M427.9 62.1h0M374.0 65.4h0M372.3 57.0h0M427.9 67.2h0M380.0 79.6h0M402.7 103.8h0M386.6 131.2h0M444.2 79.6h0M410.5 35.7h0M415.7 59.5h0M419.0 76.9h0M428.8 75.0h0M382.7 114.8h0M425.6 61.4h0M416.7 58.4h0M417.5 68.2h0M427.0 57.1h0M430.9 57.6h0M396.6 36.9h0M386.1 73.0h0M421.8 61.9h0M437.9 61.2h0M431.1 75.9h0M436.0 62.8h0M416.4 74.5h0M416.0 73.7h0M419.2 67.1h0M423.6 67.2h0M407.3 63.6h0M416.7 80.4h0M432.3 57.1h0M389.8 38.2h0M422.3 57.9h0M356.8 64.3h0" stroke="#00d7ff" stroke-width="2.3" stroke-linecap="round" fill="none"/>
<path d="M419.1 106.1h0M388.9 111.4h0M418.8 115.0h0M370.0 88.6h0M434.1 78.4h0M401.4 103.4h0M440.2 88.5h0M375.3 77.4h0M405.3 97.3h0M379.2 100.4h0M433.1 86.5h0M420.4 98.7h0M418.2 121.0h0M405.3 52.7h0M417.0 102.8h0M435.0 99.0h0M417.0 114.0h0M409.7 93.4h0M418.2 96.9h0M420.4 91.7h0M394.7 89.6h0M416.5 121.6h0M427.5 116.1h0M398.7 82.1h0M422.7 98.3h0M384.1 61.6h0M412.5 96.4h0M383.1 86.6h0M417.3 99.2h0M425.6 122.0h0M395.9 98.7h0M384.3 100.6h0M409.8 110.3h0M407.4 96.8h0M412.1 102.6h0M398.2 109.7h0M402.1 111.1h0M419.3 108.4h0M401.6 76.1h0M436.1 94.9h0M421.8 100.1h0M391.8 104.8h0M422.4 106.6h0M420.9 113.4h0M389.5 119.6h0M419.3 100.6h0M405.5 100.9h0M374.1 84.2h0" stroke="#ee4fc6" stroke-width="2.3" stroke-linecap="round" fill="none"/>
<path d="M369.6 58.5h0M365.9 86.8h0M381.4 83.1h0M398.2 80.2h0M367.2 67.2h0M394.7 73.0h0M385.8 92.3h0M382.7 92.3h0M380.5 112.3h0M438.2 79.6h0M375.3 109.0h0M368.1 105.4h0M385.7 97.5h0M375.0 96.2h0M402.1 93.4h0M375.9 126.5h0M390.8 82.6h0M376.7 71.6h0M396.6 69.7h0M372.9 103.1h0M401.3 45.4h0M380.5 105.8h0M411.9 70.5h0M363.3 73.0h0M431.8 63.6h0M374.5 83.0h0M383.3 111.1h0M412.7 90.7h0M410.3 120.0h0M422.4 64.2h0M386.0 109.4h0M365.2 87.7h0M398.1 82.6h0M370.3 90.8h0M419.0 69.8h0M346.0 93.8h0M413.2 70.4h0M388.7 100.5h0M378.6 78.9h0M358.9 95.3h0M373.1 85.6h0M418.2 82.6h0M393.9 79.9h0M382.8 74.4h0M390.6 69.7h0M423.9 91.3h0M383.1 83.3h0" stroke="#1ac938" stroke-width="2.3" stroke-linecap="round" fill="none"/>
<path d="M404.9 89.4h0M360.3 61.9h0M393.7 77.4h0M403.6 76.5h0M378.6 67.9h0M356.4 59.2h0M411.4 55.8h0M353.0 57.3h0M391.6 103.3h0M382.5 71.3h0M357.4 50.4h0M354.2 55.5h0M355.2 63.6h0M363.2 98.0h0M423.6 103.2h0M389.2 116.0h0M373.6 53.6h0M356.0 71.3h0M393.4 42.1h0M416.2 56.8h0M378.2 91.1h0M365.8 62.2h0M356.4 56.3h0M399.6 69.0h0M361.9 50.2h0M411.7 66.6h0M365.4 55.3h0M374.2 50.0h0M353.6 68.2h0M364.3 49.4h0M352.9 60.6h0M450.0 79.6h0M365.1 60.2h0M358.9 47.1h0M363.4 54.6h0M352.2 59.1h0M355.6 79.1h0M369.5 93.3h0" stroke="#d2844c" stroke-width="2.3" stroke-linecap="round" fill="none"/>
<path d="M433.7 99.6h0M379.9 122.4h0M393.9 105.1h0M408.7 55.2h0M388.3 44.9h0M380.2 128.5h0M381.9 116.6h0M376.3 75.4h0M404.3 84.7h0M388.2 125.8h0M385.8 117.7h0M446.0 76.6h0M425.9 82.8h0M396.9 94.7h0M381.3 99.1h0M420.2 92.3h0M375.8 117.1h0M389.3 116.2h0M406.5 72.4h0M375.0 111.0h0M377.8 105.9h0M380.2 117.8h0M376.1 116.9h0M437.4 61.9h0M381.4 126.0h0M382.7 110.9h0M379.4 101.7h0M392.5 122.9h0M417.6 55.6h0M386.3 78.5h0M367.4 109.5h0M383.9 116.3h0M423.7 99.8h0M399.7 109.3h0M385.7 113.2h0M390.0 120.2h0M381.7 103.1h0M403.4 109.8h0M372.8 101.9h0M375.3 124.0h0M399.2 36.0h0M354.4 92.0h0M390.3 121.0h0M380.9 108.3h0" stroke="#55a868" stroke-width="2.3" stroke-linecap="round" fill="none"/>
<path d="M404.4 83.7h0M416.2 107.6h0M424.8 99.4h0M427.1 91.3h0M360.4 76.3h0M405.4 75.1h0M365.5 82.4h0M413.0 91.5h0M381.9 52.0h0M412.4 37.3h0M387.4 100.0h0M408.9 113.3h0M372.7 72.1h0M402.6 114.7h0M416.8 92.3h0M430.4 104.9h0M410.6 101.5h0M394.4 47.8h0M376.5 77.2h0M377.8 86.3h0M420.7 100.9h0M421.0 103.0h0M446.8 70.8h0M363.2 61.6h0M372.4 105.5h0M417.2 98.0h0M412.9 99.9h0M379.5 110.7h0M411.2 93.4h0M380.2 64.1h0M407.3 97.0h0M421.3 110.8h0M395.1 107.7h0M410.8 121.4h0M413.8 85.6h0M410.6 101.3h0M403.0 95.8h0M413.5 97.2h0M414.5 84.1h0M386.3 39.8h0M375.3 61.3h0M422.3 103.8h0M421.7 84.7h0M393.3 68.9h0M426.1 113.8h0M415.3 107.7h0M404.6 96.4h0M425.7 95.1h0M415.0 113.2h0" stroke="#ee4fc6" stroke-width="2.3" stroke-linecap="round" fill="none"/>
<path d="M356.0 72.6h0M387.4 97.4h0M382.5 33.8h0M375.9 42.1h0M419.1 41.2h0M394.5 33.5h0M387.1 49.4h0M365.8 39.7h0M379.3 47.7h0M375.8 98.6h0M394.5 42.3h0M383.5 37.9h0M380.1 51.3h0M385.7 85.3h0M376.5 45.7h0M391.7 32.9h0M428.0 51.0h0M420.0 44.3h0M399.7 68.9h0M371.7 34.3h0M431.6 110.9h0M407.7 66.5h0M416.1 57.3h0M401.6 61.1h0M370.1 83.4h0M389.6 55.4h0M379.9 62.3h0M380.4 58.7h0M367.9 39.6h0M399.3 46.4h0M372.8 53.3h0M398.5 43.3h0M378.2 35.6h0M373.6 42.1h0M386.0 42.8h0M381.9 43.2h0M363.7 41.3h0M389.4 47.4h0M391.9 62.2h0M431.7 88.2h0M391.4 31.6h0M376.8 39.5h0M380.3 45.2h0M382.1 39.0h0M391.8 38.3h0M375.7 36.1h0M376.5 52.3h0M374.9 46.2h0M365.3 42.5h0M377.2 54.3h0M387.1 43.4h0M403.2 71.9h0M380.5 47.0h0M442.8 87.3h0M399.7 47.8h0M394.8 31.5h0M373.0 46.6h0M392.2 45.3h0M394.0 33.8h0M390.5 49.6h0M375.6 30.7h0" stroke="#ff7c00" stroke-width="2.3" stroke-linecap="round" fill="none"/>
<path d="M359.6 102.7h0M404.4 42.6h0M389.1 104.6h0M423.1 88.9h0M405.7 71.9h0M378.4 128.0h0M369.9 112.3h0M377.8 112.8h0M389.1 102.5h0M367.0 115.6h0M406.8 66.7h0M418.2 71.8h0M418.2 108.4h0M381.3 120.6h0M405.7 81.2h0M428.9 108.8h0M370.5 115.5h0M393.8 66.7h0M401.7 108.2h0M386.1 120.9h0M385.1 123.7h0M386.9 115.9h0M383.2 127.0h0M403.2 105.9h0M359.0 63.4h0M390.7 125.0h0M402.5 66.2h0M384.8 99.6h0M378.9 122.8h0M373.0 112.7h0M376.2 114.7h0M394.7 80.9h0M359.4 78.1h0M373.4 125.8h0M424.7 75.6h0M367.7 69.6h0M379.2 129.0h0M413.4 113.4h0M398.7 52.0h0M379.9 120.9h0M388.3 69.2h0M421.4 76.4h0M390.6 113.4h0M353.4 99.0h0" stroke="#55a868" stroke-width="2.3" stroke-linecap="round" fill="none"/>
<path d="M446.2 81.9h0M438.0 99.6h0M443.5 74.4h0M445.3 73.7h0M430.4 69.6h0M450.1 88.5h0M433.8 77.3h0M442.1 74.4h0M444.9 84.2h0M439.9 84.1h0M369.3 71.2h0M429.6 47.5h0M388.5 83.6h0M426.6 84.9h0M397.2 101.1h0M411.3 63.9h0M440.6 65.7h0M437.5 98.5h0M446.7 95.4h0M440.3 62.0h0M372.7 85.0h0M428.2 53.4h0M442.1 68.7h0M429.3 99.8h0M423.9 105.6h0M440.4 93.2h0M444.4 78.3h0M430.8 79.9h0M439.8 94.5h0M427.3 89.8h0M352.3 92.4h0M388.4 72.1h0M444.2 77.9h0M443.5 80.0h0M385.6 90.4h0M439.9 87.0h0M359.0 85.7h0M436.0 56.5h0M435.3 68.2h0M447.2 92.7h0M448.3 79.5h0M446.3 78.4h0M379.7 69.3h0M360.2 80.5h0M432.9 105.7h0M432.6 99.3h0M375.0 94.3h0M446.7 90.4h0M437.4 79.5h0M437.9 57.9h0M438.4 71.1h0M443.9 93.9h0M446.2 96.5h0M417.7 86.8h0M432.4 55.0h0M436.6 63.7h0M427.1 71.8h0M449.8 81.5h0M447.1 68.6h0M401.7 92.7h0M452.3 72.4h0M445.6 62.2h0" stroke="#a3a3a3" stroke-width="2.3" stroke-linecap="round" fill="none"/>
<path d="M342.2 89.2h0M376.3 114.4h0M355.3 97.5h0M378.4 72.1h0M420.6 80.4h0M399.5 109.8h0M400.4 88.6h0M355.1 86.1h0M343.3 81.5h0M418.5 73.8h0M424.3 87.4h0M353.6 89.4h0M344.5 86.8h0M407.3 84.1h0M346.8 83.2h0M346.1 81.8h0M393.3 58.2h0M396.4 53.0h0M360.3 80.8h0M421.7 57.0h0M427.9 74.1h0M428.9 96.3h0M350.1 80.2h0M344.4 94.5h0M401.3 99.8h0M360.7 88.2h0M347.3 92.2h0M367.5 78.5h0M347.5 96.5h0M415.3 87.6h0M377.6 127.6h0M354.2 92.3h0M349.0 97.5h0" stroke="#ffc400" stroke-width="2.3" stroke-linecap="round" fill="none"/>
<path d="M428.1 68.6h0M403.3 66.1h0M424.3 81.7h0M414.9 67.2h0M439.7 72.3h0M432.9 68.3h0M435.0 90.7h0M362.5 55.5h0M360.5 57.5h0M386.4 91.8h0M371.0 75.1h0M405.8 49.3h0M361.7 81.6h0M416.2 73.9h0M364.7 94.4h0M417.2 69.4h0M430.7 100.0h0M392.8 115.0h0M386.1 123.2h0M394.6 46.5h0M393.4 82.2h0M428.2 73.9h0M441.3 66.0h0M380.4 99.3h0M419.1 70.8h0M362.2 63.1h0M416.8 95.0h0M418.8 67.2h0M413.2 69.0h0M425.4 113.2h0M367.2 81.8h0M427.8 76.7h0M429.4 70.7h0M396.0 55.6h0M407.7 88.8h0M397.3 97.2h0M422.4 81.7h0M422.1 69.7h0M435.4 85.2h0M388.9 106.1h0M418.9 62.2h0M390.5 57.4h0M419.0 68.4h0M421.0 57.2h0M412.0 78.9h0M396.6 100.1h0M436.0 64.3h0M431.2 71.7h0M437.9 70.3h0M437.0 71.8h0M432.8 76.3h0M410.1 86.0h0" stroke="#00d7ff" stroke-width="2.3" stroke-linecap="round" fill="none"/>
<path d="M364.6 53.9h0M369.3 34.0h0M414.9 83.1h0M377.4 50.0h0M369.2 37.2h0M418.4 113.3h0M416.4 116.0h0M377.3 32.9h0M422.8 91.9h0M388.1 91.8h0M423.8 45.2h0M362.1 58.3h0M372.6 103.5h0M435.8 89.8h0M417.9 62.6h0M380.3 48.9h0M386.6 41.7h0M404.6 98.3h0M385.1 33.4h0M407.2 33.3h0M399.2 65.5h0M399.6 46.7h0M404.6 40.4h0M393.9 90.2h0M375.0 33.7h0M373.6 54.5h0M378.9 35.6h0M380.8 38.8h0M385.3 81.7h0M369.2 50.5h0M376.3 45.3h0M392.3 32.4h0M375.3 30.5h0M418.5 44.9h0M398.1 42.4h0M405.0 47.2h0M370.2 37.5h0M381.1 45.1h0M382.2 89.8h0M403.5 58.0h0M364.7 64.8h0M385.9 43.6h0M413.5 79.6h0M382.7 45.7h0M413.5 44.5h0M385.3 75.4h0M390.4 41.8h0M359.0 57.5h0M395.9 51.1h0M381.8 54.9h0M383.6 78.8h0M367.3 76.9h0M395.2 112.0h0M381.3 41.4h0M386.0 40.9h0M395.1 36.6h0M378.7 48.9h0M390.8 48.8h0M411.3 42.6h0M370.7 35.0h0M381.9 42.3h0M399.1 49.8h0" stroke="#ff7c00" stroke-width="2.3" stroke-linecap="round" fill="none"/>
<path d="M406.8 97.2h0M443.7 89.4h0M430.4 78.6h0M440.0 100.5h0M409.6 61.4h0M421.5 65.1h0M447.7 71.0h0M441.0 100.2h0M445.7 95.5h0M432.6 56.4h0M384.6 65.4h0M442.2 78.4h0M442.0 65.7h0M434.4 61.1h0M395.3 107.8h0M438.0 71.6h0M444.3 88.9h0M432.0 71.9h0M402.1 86.2h0M444.4 86.2h0M410.2 66.6h0M380.4 85.3h0M434.0 99.6h0M436.2 95.7h0M435.2 83.6h0M440.4 72.3h0M436.2 67.9h0M428.4 94.8h0M448.5 71.1h0M443.2 90.0h0M427.2 101.9h0M423.5 92.0h0M414.2 94.8h0M436.4 76.0h0M431.5 76.5h0M435.1 86.7h0M433.1 78.0h0M438.9 70.3h0M450.2 74.4h0M369.7 83.4h0M440.0 92.1h0M430.0 54.5h0M389.5 52.6h0M446.4 83.8h0M419.0 69.8h0M422.8 94.9h0M397.3 80.1h0M444.6 62.2h0M377.7 73.7h0M437.2 59.9h0M446.2 86.3h0M435.7 59.0h0M438.8 98.7h0M427.0 83.6h0M383.1 83.3h0M444.8 77.4h0M435.1 61.9h0M383.1 72.8h0M449.0 92.1h0M427.0 66.4h0M446.0 74.3h0" stroke="#a3a3a3" stroke-width="2.3" stroke-linecap="round" fill="none"/>
<path d="M401.0 125.5h0M420.9 108.5h0M425.0 107.5h0M392.5 84.2h0M421.6 113.2h0M402.9 74.9h0M413.0 128.0h0M421.7 64.8h0M409.1 67.8h0M413.9 121.1h0M405.0 116.9h0M376.7 99.9h0M404.6 114.0h0M400.5 113.5h0M406.2 117.8h0M408.6 122.7h0M406.8 109.8h0M367.3 70.6h0M421.6 105.2h0M404.8 99.0h0M401.4 58.7h0M392.6 76.9h0M404.8 93.9h0M414.1 127.8h0M415.3 121.7h0M435.0 106.3h0M394.4 112.2h0M381.9 49.2h0M429.5 51.8h0M422.2 115.1h0M427.0 73.7h0M359.7 89.5h0M419.2 119.4h0M388.5 105.3h0M401.5 116.6h0M391.0 104.3h0M403.6 69.6h0M378.5 83.2h0M430.3 116.2h0M421.5 105.4h0M403.8 42.3h0M429.4 110.5h0M392.8 127.2h0M396.8 112.3h0M404.5 113.3h0M399.8 115.9h0M408.0 62.0h0" stroke="#9f4800" stroke-width="2.3" stroke-linecap="round" fill="none"/>
<path d="M380.5 73.6h0M392.0 55.1h0M385.9 110.6h0M428.4 73.2h0M392.8 100.3h0M426.2 53.8h0M428.9 48.6h0M370.9 60.2h0M393.5 56.4h0M421.4 127.0h0M405.1 65.5h0M339.8 81.0h0M408.4 42.8h0M403.0 76.7h0M381.6 83.8h0M422.3 81.5h0M432.5 54.2h0M362.1 74.6h0M405.4 76.5h0M378.4 80.6h0M432.8 75.3h0M403.2 66.0h0M380.4 81.8h0M389.5 58.0h0M412.1 74.8h0M388.1 61.5h0M376.7 114.6h0M375.4 33.8h0M394.1 54.6h0M382.3 55.6h0M381.3 71.7h0M407.3 67.8h0M371.6 57.8h0M382.3 66.5h0M387.9 52.2h0M404.1 51.0h0M343.3 82.6h0M394.4 74.4h0M427.3 84.5h0M400.6 103.6h0M377.4 43.9h0M384.1 49.1h0M379.4 107.6h0M374.7 93.2h0M395.1 68.5h0M353.2 83.1h0M390.8 71.0h0M377.0 74.3h0M384.2 82.0h0M409.2 71.0h0M360.8 45.6h0M361.3 92.6h0M379.4 35.9h0M409.7 47.6h0M377.0 72.3h0M380.7 76.3h0M402.9 38.9h0M377.1 103.6h0M377.2 53.5h0M366.8 81.3h0M402.7 106.1h0" stroke="#023eff" stroke-width="2.3" stroke-linecap="round" fill="none"/>
<path d="M402.8 119.9h0M387.2 130.8h0M414.3 109.7h0M404.3 70.7h0M393.3 82.0h0M420.7 96.2h0M381.1 71.5h0M373.1 93.2h0M411.4 84.2h0M403.9 124.4h0M425.4 89.5h0M388.8 88.7h0M368.1 95.2h0M359.7 94.1h0M427.4 93.0h0M397.8 62.1h0M405.4 90.8h0M367.7 107.4h0M373.6 94.7h0M412.6 110.2h0M372.8 91.6h0M383.8 69.7h0M426.9 77.9h0M389.2 103.3h0M408.8 83.6h0M386.4 102.6h0M419.4 85.4h0M391.4 83.8h0M395.0 75.8h0M377.6 125.6h0M416.9 63.9h0M414.1 92.6h0M444.0 80.6h0M405.5 72.3h0M393.8 72.7h0M379.6 77.5h0M388.4 52.1h0M420.2 115.3h0M369.5 66.3h0M391.7 114.8h0M392.0 72.8h0M381.0 105.8h0M382.5 70.5h0M372.0 75.3h0M386.9 116.3h0M415.9 100.2h0M386.9 85.0h0M360.8 66.4h0M393.8 68.3h0M374.1 98.5h0M388.4 71.6h0M386.1 66.3h0M403.6 95.6h0M385.6 88.5h0M412.7 60.3h0M409.8 68.8h0M432.1 55.6h0M430.5 111.1h0M380.1 58.7h0M397.8 75.5h0" stroke="#4c72b0" stroke-width="2.3" stroke-linecap="round" fill="none"/>
<path d="M415.8 100.7h0M378.6 37.9h0M398.2 79.0h0M378.4 86.1h0M384.9 37.2h0M425.5 101.4h0M421.4 89.4h0M386.2 57.8h0M384.0 48.9h0M431.0 99.5h0M434.3 98.7h0M395.9 95.1h0M412.1 104.2h0M431.5 104.1h0M392.6 99.2h0M382.7 87.0h0M404.0 60.8h0M415.7 91.2h0M407.7 107.6h0M416.6 113.1h0M420.0 93.5h0M401.6 115.0h0M382.5 42.5h0M384.2 75.1h0M409.2 108.0h0M413.2 81.3h0M413.5 124.7h0M413.4 86.5h0M383.2 109.3h0M374.6 123.9h0M425.9 95.2h0M424.7 108.1h0M424.2 106.4h0M355.6 57.6h0M409.4 104.4h0M415.6 94.7h0M418.6 113.9h0M397.6 106.3h0M413.2 108.7h0M387.7 37.7h0M429.5 104.3h0M390.7 86.0h0M413.4 112.7h0M407.2 99.4h0M422.9 122.3h0M394.0 102.5h0M413.6 98.5h0M437.0 97.3h0" stroke="#ee4fc6" stroke-width="2.3" stroke-linecap="round" fill="none"/>
<path d="M377.2 64.8h0M383.5 48.6h0M351.1 54.5h0M432.2 84.3h0M382.8 65.3h0M385.6 49.2h0M429.9 60.4h0M388.5 44.4h0M384.4 99.6h0M399.6 99.8h0M428.0 83.8h0M354.2 63.3h0M393.2 51.3h0M380.4 56.1h0M386.3 31.7h0M365.4 40.7h0M414.1 82.3h0M386.2 67.9h0M406.6 41.6h0M390.8 42.9h0M418.1 46.5h0M395.5 52.1h0M350.6 50.2h0M365.0 67.3h0M376.5 31.8h0M388.1 81.3h0M365.8 63.3h0M366.7 53.4h0M386.6 81.3h0M383.0 68.0h0M412.3 64.1h0M392.6 48.9h0M365.4 78.1h0M432.0 83.8h0M377.1 68.2h0M372.6 52.5h0M363.3 50.7h0M392.3 74.6h0M398.9 53.3h0M363.2 97.4h0M405.3 63.2h0M372.7 56.8h0M415.1 80.0h0M370.0 46.3h0M388.3 41.5h0M416.4 41.7h0M381.7 51.1h0M399.1 83.4h0M382.0 38.6h0M382.8 43.7h0M375.2 55.1h0M372.6 35.1h0M393.8 45.8h0M400.1 45.9h0M433.1 70.7h0M406.7 43.4h0M375.8 61.0h0M377.0 35.0h0M374.1 44.0h0M393.6 46.3h0M388.6 46.5h0" stroke="#ff7c00" stroke-width="2.3" stroke-linecap="round" fill="none"/>
<path d="M408.6 52.1h0M426.5 43.8h0M415.9 46.8h0M405.8 42.5h0M408.0 55.3h0M422.9 56.2h0M419.9 38.9h0M403.5 48.8h0M432.5 68.6h0M416.7 54.9h0M403.2 43.0h0M405.7 35.0h0M391.5 48.9h0M423.0 48.9h0M427.8 46.1h0M394.7 36.4h0M417.1 40.1h0M425.8 42.1h0M396.0 74.5h0M422.3 39.8h0M410.3 50.8h0M403.6 33.8h0M420.0 42.8h0M423.3 40.3h0M416.9 35.7h0M420.1 45.6h0M412.6 51.6h0M396.8 63.4h0M368.2 81.7h0M422.7 50.5h0M421.0 51.2h0M404.0 50.4h0M423.2 71.5h0M429.8 76.9h0M414.1 45.0h0M405.8 36.6h0M406.5 91.8h0M387.6 91.3h0M385.4 107.2h0M398.4 53.1h0M384.8 101.6h0M410.1 58.8h0M403.5 39.5h0M425.2 81.2h0M432.9 59.8h0" stroke="#8b2be2" stroke-width="2.3" stroke-linecap="round" fill="none"/>
<path d="M424.8 87.4h0M393.4 87.3h0M411.7 113.4h0M416.3 126.2h0M408.6 92.8h0M398.5 66.3h0M414.1 65.6h0M446.9 67.2h0M390.4 110.1h0M416.0 80.3h0M433.9 91.4h0M403.2 109.3h0M407.3 57.9h0M371.5 87.4h0M388.9 82.9h0M384.4 102.8h0M390.0 78.5h0M368.4 111.5h0M359.1 72.1h0M386.6 70.8h0M406.7 73.9h0M377.1 90.8h0M445.5 96.0h0M375.8 109.3h0M406.7 73.6h0M384.6 123.9h0M384.1 81.4h0M358.6 97.8h0M368.2 103.0h0M425.3 76.5h0M398.7 114.8h0M431.6 100.4h0M394.2 97.1h0M376.6 76.8h0M380.4 86.5h0M388.7 77.3h0M366.1 114.9h0M383.4 106.9h0M363.2 74.7h0M390.2 114.3h0M418.4 113.1h0M399.4 89.8h0M392.3 103.8h0M389.2 100.7h0M397.9 52.8h0M403.9 94.3h0M401.3 69.0h0M388.1 68.2h0" stroke="#1ac938" stroke-width="2.3" stroke-linecap="round" fill="none"/>
<path d="M345.2 97.2h0M356.3 94.7h0M391.7 61.0h0M352.6 96.9h0M354.0 94.6h0M356.8 89.8h0M346.4 89.8h0M354.8 70.3h0M429.7 109.9h0M360.8 100.2h0M379.8 52.5h0M390.5 61.5h0M420.6 94.5h0M343.8 84.9h0M423.2 96.4h0M410.9 121.2h0M350.3 82.9h0M352.2 77.1h0M392.1 111.1h0M342.6 88.1h0M384.8 108.8h0M359.3 99.6h0M340.2 83.5h0M351.6 90.3h0M364.3 78.3h0M393.1 125.8h0M350.7 77.6h0M362.0 62.5h0M415.2 66.1h0M371.9 109.5h0M345.8 86.2h0M431.6 66.0h0M344.7 85.2h0" stroke="#ffc400" stroke-width="2.3" stroke-linecap="round" fill="none"/>
<path d="M438.8 98.2h0M421.8 80.3h0M420.9 75.3h0M420.8 76.5h0M429.9 72.9h0M438.3 86.6h0M439.3 66.7h0M442.7 83.4h0M394.6 108.1h0M364.9 107.8h0M384.6 78.1h0M434.4 61.8h0M444.9 66.6h0M431.8 83.0h0M427.8 83.4h0M433.0 63.7h0M362.7 80.7h0M432.6 83.8h0M443.2 82.1h0M449.6 80.2h0M419.1 41.6h0M432.3 74.5h0M387.9 53.0h0M444.0 92.7h0M422.0 123.7h0M411.1 75.7h0M430.4 87.3h0M442.2 98.7h0M434.4 65.1h0M438.9 86.1h0M365.5 82.2h0M427.1 50.2h0M389.8 36.2h0M440.7 101.6h0M425.8 56.9h0M449.7 81.9h0M437.5 95.8h0M398.9 102.1h0M445.4 77.8h0M427.4 109.6h0M420.6 58.1h0M450.6 88.3h0M437.2 87.8h0M381.2 115.4h0M377.1 124.9h0M408.3 58.5h0M399.8 57.0h0M446.7 78.0h0M428.7 63.7h0M367.2 59.7h0M447.8 90.3h0M441.2 89.1h0M439.8 75.8h0M436.5 86.2h0M429.2 60.3h0M442.6 87.6h0M435.5 78.2h0M446.8 67.7h0M392.5 106.1h0M441.3 76.9h0M372.4 103.2h0M450.6 73.8h0" stroke="#a3a3a3" stroke-width="2.3" stroke-linecap="round" fill="none"/>
<path d="M391.6 76.8h0M379.8 66.3h0M364.9 91.1h0M442.0 82.0h0M401.8 100.8h0M375.2 76.6h0M375.4 89.9h0M398.4 73.8h0M384.1 68.7h0M415.5 57.2h0M410.9 76.5h0M393.7 71.5h0M386.4 74.8h0M432.9 87.8h0M388.5 82.0h0M375.6 92.1h0M395.2 95.9h0M353.0 80.7h0M367.4 83.5h0M380.0 111.8h0M380.2 59.1h0M401.8 61.3h0M376.1 79.2h0M386.4 98.5h0M395.2 63.3h0M411.1 91.2h0M357.6 64.8h0M400.4 120.4h0M366.0 91.2h0M403.1 102.0h0M421.2 114.9h0M350.2 84.9h0M383.9 85.8h0M427.1 92.0h0M378.2 59.4h0M382.0 99.9h0M391.3 95.6h0M398.9 98.7h0M410.4 113.1h0M429.7 52.6h0M406.9 76.0h0M418.1 81.7h0M378.5 128.6h0M408.9 98.9h0M423.6 84.1h0M416.8 45.0h0M399.9 102.4h0M430.6 94.6h0M371.0 81.6h0M373.0 80.2h0M378.9 74.9h0M422.9 71.1h0M430.8 61.3h0M363.3 56.6h0M402.3 104.7h0M389.0 66.8h0M382.9 72.4h0M393.5 67.3h0M418.6 92.9h0M370.2 77.0h0" stroke="#4c72b0" stroke-width="2.3" stroke-linecap="round" fill="none"/>
<path d="M356.1 88.7h0M416.0 69.5h0M422.8 66.8h0M417.3 117.7h0M365.4 54.9h0M432.4 84.7h0M422.0 67.9h0M422.3 64.9h0M360.6 76.2h0M431.1 85.6h0M429.0 82.3h0M440.1 68.0h0M404.6 62.3h0M423.8 82.5h0M407.9 36.4h0M417.0 71.3h0M397.8 54.9h0M428.3 63.0h0M407.5 69.5h0M416.5 87.2h0M432.7 65.2h0M427.3 72.9h0M344.1 87.5h0M401.7 107.5h0M427.0 57.3h0M422.5 51.3h0M444.8 65.1h0M420.9 68.2h0M386.0 65.0h0M418.7 68.6h0M396.9 84.9h0M438.2 67.5h0M371.2 82.0h0M431.5 80.6h0M420.6 58.8h0M388.5 75.6h0M417.9 79.7h0M426.6 61.5h0M430.9 58.1h0M430.1 65.6h0M431.4 76.4h0M423.3 63.7h0M397.4 74.5h0M429.1 73.1h0M415.1 82.3h0M425.0 64.0h0M363.7 75.6h0M342.6 87.6h0M422.1 76.4h0M400.3 67.4h0M430.9 58.8h0M374.0 100.1h0M422.1 73.3h0" stroke="#00d7ff" stroke-width="2.3" stroke-linecap="round" fill="none"/>
<path d="M379.7 97.8h0M380.9 52.3h0M411.0 85.9h0M379.6 77.3h0M366.4 72.5h0M379.8 57.7h0M364.6 80.6h0M421.4 64.7h0M396.9 43.1h0M381.0 67.2h0M378.0 42.8h0M384.2 80.6h0M427.3 51.5h0M397.0 33.7h0M391.0 115.8h0M364.0 57.5h0M370.8 69.3h0M419.7 53.1h0M376.5 80.2h0M381.1 81.9h0M410.5 78.4h0M374.9 84.6h0M389.6 76.0h0M362.3 62.3h0M358.1 56.7h0M387.8 111.8h0M404.3 111.7h0M375.0 77.9h0M371.8 71.0h0M386.7 73.6h0M402.4 109.2h0M377.5 53.6h0M379.6 82.8h0M380.5 73.8h0M386.9 84.8h0M401.0 42.3h0M380.4 59.9h0M397.0 71.1h0M402.5 97.4h0M418.2 61.6h0M407.6 40.2h0M394.2 74.1h0M400.1 58.0h0M389.2 60.8h0M417.0 67.0h0M392.5 53.0h0M366.9 77.9h0M430.1 85.4h0M418.8 90.0h0M349.0 94.2h0M375.8 66.6h0M393.3 58.0h0M368.7 77.2h0M380.6 83.5h0M385.6 44.4h0M393.4 37.2h0M426.1 74.7h0M430.3 111.2h0M356.2 82.0h0M397.1 43.7h0M424.4 118.4h0" stroke="#023eff" stroke-width="2.3" stroke-linecap="round" fill="none"/>
<path d="M376.8 96.5h0M369.5 110.5h0M429.9 54.6h0M368.4 98.8h0M364.1 112.1h0M360.3 102.2h0M364.4 105.6h0M372.5 64.8h0M371.9 100.1h0M363.3 83.4h0M358.4 89.4h0M356.3 105.5h0M397.4 112.6h0M392.4 68.9h0M385.9 97.5h0M369.9 75.0h0M421.2 86.4h0M368.5 107.3h0M363.4 108.7h0M366.4 99.2h0M383.3 113.0h0M368.5 109.4h0M369.4 109.4h0M365.6 101.6h0M376.7 108.9h0M379.2 110.1h0M367.7 103.5h0M370.2 98.6h0M412.4 82.2h0M378.6 104.2h0M362.3 89.8h0M386.6 103.4h0M357.9 109.4h0M368.4 99.6h0M368.6 111.1h0M356.4 94.4h0M368.0 92.4h0M352.5 102.3h0M409.3 64.9h0M347.5 81.4h0M371.4 112.5h0M404.3 62.0h0M371.6 89.0h0M391.7 113.5h0M376.5 69.6h0M379.2 88.7h0M380.9 98.2h0M360.2 108.8h0M380.3 89.4h0M371.1 102.1h0M367.6 93.0h0" stroke="#e8000b" stroke-width="2.3" stroke-linecap="round" fill="none"/>
<path d="M395.6 124.9h0M414.2 57.3h0M376.5 94.4h0M394.7 86.4h0M367.0 71.3h0M364.9 66.6h0M385.6 126.2h0M379.8 124.3h0M365.6 109.7h0M382.8 118.2h0M379.8 128.2h0M374.5 43.1h0M386.2 118.3h0M372.1 47.7h0M392.7 117.4h0M364.3 110.4h0M378.5 117.7h0M391.4 113.7h0M392.5 80.0h0M386.1 130.8h0M382.2 130.0h0M432.2 96.9h0M419.3 69.1h0M387.2 114.8h0M379.2 114.2h0M393.6 121.8h0M372.9 116.8h0M394.5 67.0h0M378.6 118.9h0M419.9 111.7h0M406.1 73.3h0M387.2 127.0h0M400.7 56.0h0M384.9 122.0h0M384.7 38.8h0M421.4 51.8h0M377.2 125.2h0M403.7 62.1h0M376.1 117.9h0M428.4 107.1h0M378.1 107.2h0M387.8 124.9h0M383.6 127.2h0M395.3 104.2h0" stroke="#55a868" stroke-width="2.3" stroke-linecap="round" fill="none"/>
<path d="M382.2 96.8h0M383.8 76.1h0M418.1 56.8h0M407.9 55.5h0M388.6 57.7h0M396.9 61.1h0M385.0 86.6h0M412.5 62.7h0M406.2 48.2h0M417.0 44.5h0M391.0 49.7h0M358.4 51.9h0M388.9 79.8h0M386.6 82.1h0M393.2 106.6h0M390.1 55.1h0M424.7 114.6h0M389.4 64.7h0M378.5 61.7h0M372.8 71.1h0M399.5 58.4h0M383.0 65.7h0M372.6 60.5h0M406.1 104.0h0M391.3 96.3h0M372.6 62.7h0M417.4 60.1h0M384.9 52.6h0M438.4 72.4h0M383.3 106.8h0M404.6 71.1h0M394.4 109.0h0M392.4 93.3h0M361.6 47.2h0M375.1 78.6h0M395.3 78.2h0M440.3 87.4h0M386.1 83.9h0M432.7 63.4h0M405.5 60.2h0M420.8 69.4h0M390.1 116.3h0M384.3 87.2h0M376.6 50.5h0M355.8 64.5h0M411.8 101.0h0M419.0 47.1h0M381.8 83.5h0M402.4 58.6h0M367.2 78.7h0M374.9 48.9h0M366.9 70.2h0M396.3 88.6h0M386.7 36.2h0M411.7 46.2h0M399.8 57.1h0M365.7 69.1h0M391.9 116.5h0M373.2 84.9h0M385.6 120.3h0M397.8 63.1h0" stroke="#023eff" stroke-width="2.3" stroke-linecap="round" fill="none"/>
<path d="M375.9 50.8h0M403.9 58.1h0M391.3 77.6h0M395.2 79.8h0M396.6 52.4h0M358.9 102.2h0M348.9 86.3h0M404.4 61.2h0M384.9 83.4h0M430.8 84.1h0M350.0 99.4h0M416.6 59.1h0M343.7 91.5h0M358.1 89.2h0M380.7 85.1h0M362.6 88.1h0M348.2 86.4h0M393.2 114.7h0M369.8 80.4h0M354.6 90.1h0M420.6 96.8h0M424.5 47.6h0M446.2 87.5h0M346.9 96.6h0M345.1 82.7h0M356.4 55.2h0M348.9 83.4h0M351.2 90.7h0M349.8 100.4h0M374.6 87.1h0M344.1 80.9h0M358.1 87.9h0M353.2 90.4h0" stroke="#ffc400" stroke-width="2.3" stroke-linecap="round" fill="none"/>
<rect x="328" y="113.6" width="34" height="8" fill="#fff" opacity="0.8"/><rect x="328" y="121.4" width="68" height="8.8" fill="#fff" opacity="0.8"/>
<text x="328.9" y="120.5" font-size="8.8" textLength="31.8" lengthAdjust="spacingAndGlyphs">Dropout</text>
<text x="328.9" y="128.7" font-size="8.8" textLength="65.7" lengthAdjust="spacingAndGlyphs">midpoint = –1.00</text>
<text x="521.0" y="22.8" font-size="8.8" textLength="100.3" lengthAdjust="spacingAndGlyphs">4 Error of type prediction</text>
<path d="M519.6 28.9V120.2H636.3" stroke="#999" stroke-width="1" fill="none"/>
<path d="M525.8 92.2 L551.8 50.6 L578.0 35.0 L604.1 33.6 L630.2 33.4" stroke="#0a3cff" stroke-width="0.95" fill="none"/>
<circle cx="525.8" cy="92.2" r="3" fill="#0a3cff"/>
<circle cx="551.8" cy="50.6" r="3" fill="#0a3cff"/>
<circle cx="578.0" cy="35.0" r="3" fill="#0a3cff"/>
<circle cx="604.1" cy="33.6" r="3" fill="#0a3cff"/>
<circle cx="630.2" cy="33.4" r="3" fill="#0a3cff"/>
<path d="M525.8 109.0 L551.8 95.9 L578.0 59.0 L604.1 41.6 L630.2 41.5" stroke="#8b2be2" stroke-width="0.95" fill="none"/>
<circle cx="525.8" cy="109.0" r="3" fill="#8b2be2"/>
<circle cx="551.8" cy="95.9" r="3" fill="#8b2be2"/>
<circle cx="578.0" cy="59.0" r="3" fill="#8b2be2"/>
<circle cx="604.1" cy="41.6" r="3" fill="#8b2be2"/>
<circle cx="630.2" cy="41.5" r="3" fill="#8b2be2"/>
<path d="M525.8 112.6 L551.8 104.3 L578.0 69.4 L604.1 38.7 L630.2 35.2" stroke="#e8000b" stroke-width="0.95" fill="none"/>
<circle cx="525.8" cy="112.6" r="3" fill="#e8000b"/>
<circle cx="551.8" cy="104.3" r="3" fill="#e8000b"/>
<circle cx="578.0" cy="69.4" r="3" fill="#e8000b"/>
<circle cx="604.1" cy="38.7" r="3" fill="#e8000b"/>
<circle cx="630.2" cy="35.2" r="3" fill="#e8000b"/>
<path d="M525.8 114.3 L551.8 109.5 L578.0 100.2 L604.1 83.7 L630.2 60.7" stroke="#ff7c00" stroke-width="1.35" fill="none" stroke-dasharray="4.8 2.2"/>
<circle cx="525.8" cy="114.3" r="3" fill="#ff7c00"/>
<circle cx="551.8" cy="109.5" r="3" fill="#ff7c00"/>
<circle cx="578.0" cy="100.2" r="3" fill="#ff7c00"/>
<circle cx="604.1" cy="83.7" r="3" fill="#ff7c00"/>
<circle cx="630.2" cy="60.7" r="3" fill="#ff7c00"/>
<path d="M525.8 116.0 L551.8 110.1 L578.0 97.6 L604.1 66.3 L630.2 40.7" stroke="#1ac938" stroke-width="1.35" fill="none" stroke-dasharray="4.8 2.2"/>
<circle cx="525.8" cy="116.0" r="3" fill="#1ac938"/>
<circle cx="551.8" cy="110.1" r="3" fill="#1ac938"/>
<circle cx="578.0" cy="97.6" r="3" fill="#1ac938"/>
<circle cx="604.1" cy="66.3" r="3" fill="#1ac938"/>
<circle cx="630.2" cy="40.7" r="3" fill="#1ac938"/>
<path d="M551.8 114.0 L578.0 112.4 L604.1 105.6 L630.2 88.1" stroke="#a3a3a3" stroke-width="0.95" fill="none"/>
<circle cx="551.8" cy="114.0" r="3" fill="#a3a3a3"/>
<circle cx="578.0" cy="112.4" r="3" fill="#a3a3a3"/>
<circle cx="604.1" cy="105.6" r="3" fill="#a3a3a3"/>
<circle cx="630.2" cy="88.1" r="3" fill="#a3a3a3"/>
<path d="M516.4 34.2h3.2M516.4 77.9h3.2M551.8 120.2v3.2M617.2 120.2v3.2" stroke="#999" stroke-width="0.7"/>
<text x="513.4" y="36.8" font-size="8.2" text-anchor="end">1.0</text>
<text x="513.4" y="80.6" font-size="8.2" text-anchor="end">0.5</text>
<text x="551.4" y="132.5" font-size="8.2" text-anchor="middle">–5</text>
<text x="617.0" y="132.5" font-size="8.2" text-anchor="middle">0</text>
<text x="495.6" y="75.0" font-size="8.8" text-anchor="middle" textLength="47.4" lengthAdjust="spacingAndGlyphs" transform="rotate(-90 495.6 75.0)">Max correct</text>
<text x="577.8" y="146.4" font-size="8.8" text-anchor="middle" textLength="71" lengthAdjust="spacingAndGlyphs">Dropout midpoint</text>
<path d="M642.6 35.6h12.2" stroke="#0a3cff" stroke-width="1.1"/>
<circle cx="648.8000000000001" cy="35.6" r="1.9" fill="#0a3cff"/>
<text x="659.1" y="38.1" font-size="7.25">TACCO</text>
<path d="M642.6 43.7h12.2" stroke="#8b2be2" stroke-width="1.1"/>
<circle cx="648.8000000000001" cy="43.7" r="1.9" fill="#8b2be2"/>
<text x="659.1" y="46.2" font-size="7.25">NMFreg</text>
<path d="M642.6 51.8h3.2M651.6 51.8h3.2" stroke="#1ac938" stroke-width="1.1"/>
<circle cx="648.8000000000001" cy="51.8" r="1.9" fill="#1ac938"/>
<text x="659.1" y="54.3" font-size="7.25">SingleR</text>
<path d="M642.6 59.8h12.2" stroke="#e8000b" stroke-width="1.1"/>
<circle cx="648.8000000000001" cy="59.8" r="1.9" fill="#e8000b"/>
<text x="659.1" y="62.3" font-size="7.25">RCTD</text>
<path d="M642.6 67.8h12.2" stroke="#a3a3a3" stroke-width="1.1"/>
<circle cx="648.8000000000001" cy="67.8" r="1.9" fill="#a3a3a3"/>
<text x="659.1" y="70.3" font-size="7.25">WOT</text>
<path d="M642.6 75.9h3.2M651.6 75.9h3.2" stroke="#ff7c00" stroke-width="1.1"/>
<circle cx="648.8000000000001" cy="75.9" r="1.9" fill="#ff7c00"/>
<text x="659.1" y="78.4" font-size="7.25">SVM</text>
<text x="-0.6" y="166.6" font-size="12.8" font-weight="bold" fill="#000" stroke="#000" stroke-width="0.4" transform="scale(1.18 1)">b</text>
<text x="10.9" y="169.4" font-size="8.8" textLength="36.0" lengthAdjust="spacingAndGlyphs">Ambient</text>
<text x="10.1" y="180.7" font-size="8.8" textLength="46.8" lengthAdjust="spacingAndGlyphs">1 Reference</text>
<path d="M11.55 184.9V289.2H150.2" stroke="#333" stroke-width="1.05" fill="none" stroke-linejoin="round"/>
<text x="7.3" y="237.5" font-size="8.7" text-anchor="middle" textLength="29.2" lengthAdjust="spacingAndGlyphs" transform="rotate(-90 7.3 237.5)">UMAP 1</text>
<text x="80.6" y="299.4" font-size="8.7" text-anchor="middle" textLength="31.5" lengthAdjust="spacingAndGlyphs">UMAP 0</text>
<ellipse cx="83.7" cy="191.2" rx="4.1" ry="3.3" transform="rotate(90 83.7 191.2)" fill="#55a868"/>
<g fill="#55a868"><circle cx="83.0" cy="188.2" r="3.0"/><circle cx="83.4" cy="189.6" r="2.7"/><circle cx="83.5" cy="191.4" r="2.6"/><circle cx="82.8" cy="192.8" r="3.3"/><circle cx="84.4" cy="194.5" r="2.5"/></g>
<path d="M84.3 187.9h0M85.3 187.4h0M80.3 193.7h0M81.5 188.7h0M80.7 190.2h0M87.7 191.3h0M82.5 195.8h0M83.6 195.4h0M86.5 193.1h0M86.8 189.9h0M82.8 186.1h0M86.8 189.4h0M81.2 187.1h0M83.7 186.7h0M86.3 191.7h0M82.5 194.6h0M80.6 187.7h0M80.3 193.2h0M82.3 195.1h0M80.2 189.6h0M86.4 188.1h0M86.9 192.2h0M86.4 192.5h0M83.8 187.1h0M84.9 194.4h0M80.5 189.2h0M81.4 194.7h0M82.7 194.5h0M84.2 187.6h0M81.1 190.1h0M82.3 194.6h0M84.8 195.7h0M80.0 191.8h0M85.6 195.1h0M80.5 188.3h0M86.8 192.1h0M82.8 194.8h0M81.4 187.5h0M86.7 191.4h0M81.0 189.0h0M85.7 187.6h0M81.7 195.4h0M86.6 189.1h0M80.6 188.8h0M83.5 186.3h0M84.4 186.3h0M84.9 186.7h0M81.3 188.3h0M80.8 192.7h0M85.1 187.7h0" stroke="#55a868" stroke-width="1.7" stroke-linecap="round" fill="none"/>
<ellipse cx="97.8" cy="200.0" rx="5.4" ry="2.6" transform="rotate(-8 97.8 200.0)" fill="#00d7ff"/>
<g fill="#00d7ff"><circle cx="93.0" cy="200.4" r="2.2"/><circle cx="95.7" cy="199.9" r="2.6"/><circle cx="97.6" cy="199.3" r="2.1"/><circle cx="99.9" cy="199.5" r="1.9"/><circle cx="101.8" cy="199.5" r="1.8"/></g>
<path d="M103.1 198.1h0M98.4 197.3h0M103.8 200.4h0M92.8 198.7h0M94.7 197.7h0M92.1 201.7h0M103.5 200.7h0M101.1 196.7h0M101.9 200.2h0M102.1 197.8h0M93.1 199.8h0M101.5 198.5h0M93.1 202.6h0M96.3 203.0h0M94.3 201.8h0M99.9 201.8h0M100.7 198.1h0M102.7 200.1h0M93.7 202.9h0M102.7 200.3h0M99.0 202.4h0M92.8 198.9h0M95.6 202.7h0M93.1 199.8h0M98.0 202.2h0M101.1 197.3h0M95.9 203.2h0M93.1 201.7h0M97.2 197.5h0M102.8 199.6h0M92.1 199.6h0M95.0 203.0h0M98.1 202.6h0M103.7 200.3h0M93.0 202.7h0M93.0 202.1h0M93.9 201.5h0M102.1 198.8h0M91.6 200.5h0M102.5 200.2h0M101.8 198.6h0M101.7 198.6h0M95.5 197.5h0M92.5 201.8h0M92.7 199.1h0M99.4 202.3h0M96.1 202.7h0M93.4 199.5h0M96.3 202.4h0M96.9 203.1h0" stroke="#00d7ff" stroke-width="1.7" stroke-linecap="round" fill="none"/>
<ellipse cx="117.0" cy="210.8" rx="4.4" ry="3.0" transform="rotate(15 117.0 210.8)" fill="#d2844c"/>
<g fill="#d2844c"><circle cx="113.4" cy="209.0" r="2.5"/><circle cx="115.1" cy="210.1" r="2.4"/><circle cx="117.3" cy="210.4" r="2.4"/><circle cx="118.3" cy="211.1" r="3.1"/><circle cx="120.5" cy="211.3" r="2.7"/></g>
<path d="M111.8 210.2h0M121.1 213.6h0M119.2 208.2h0M111.8 208.7h0M114.6 212.3h0M115.0 212.5h0M118.7 213.8h0M121.6 211.5h0M112.1 211.7h0M114.7 208.6h0M120.2 213.1h0M114.0 212.5h0M117.3 208.2h0M116.2 208.1h0M114.1 212.0h0M114.9 214.1h0M122.3 210.6h0M113.5 211.8h0M121.2 211.6h0M112.4 208.0h0M117.0 207.9h0M112.7 209.1h0M117.7 214.5h0M119.2 213.3h0M115.8 213.0h0M116.9 213.5h0M111.8 209.5h0M122.2 210.8h0M113.9 207.3h0M115.9 214.4h0M121.3 213.1h0M118.0 214.5h0M120.6 210.6h0M120.3 210.0h0M119.5 213.4h0M121.6 209.8h0M112.4 211.5h0M112.9 211.8h0M120.7 208.6h0M118.6 214.3h0M112.7 212.2h0M119.2 213.8h0M117.1 207.0h0M121.5 210.8h0M116.6 207.3h0M115.4 208.2h0M120.2 209.8h0M115.5 208.0h0M120.3 213.3h0M121.5 209.5h0" stroke="#d2844c" stroke-width="1.7" stroke-linecap="round" fill="none"/>
<ellipse cx="70.3" cy="215.5" rx="4.7" ry="2.4" transform="rotate(95 70.3 215.5)" fill="#ffc400"/>
<g fill="#ffc400"><circle cx="70.7" cy="211.5" r="1.6"/><circle cx="70.7" cy="213.6" r="2.3"/><circle cx="70.2" cy="215.4" r="2.6"/><circle cx="70.1" cy="217.1" r="2.4"/><circle cx="70.0" cy="219.3" r="1.8"/></g>
<path d="M68.5 220.1h0M70.5 209.5h0M71.4 218.8h0M68.8 213.0h0M70.7 219.8h0M71.7 211.9h0M69.1 221.0h0M72.4 218.3h0M67.3 216.9h0M70.6 220.4h0M71.3 218.6h0M69.1 210.4h0M72.0 218.6h0M67.8 215.0h0M68.7 211.5h0M72.2 213.3h0M72.1 219.3h0M71.4 210.0h0M70.5 219.2h0M67.7 214.4h0M71.3 209.9h0M71.6 212.3h0M72.0 217.3h0M72.5 214.4h0M70.7 219.6h0M70.2 219.4h0M69.1 220.2h0M69.0 210.8h0M73.1 215.8h0M70.2 210.1h0M70.0 211.9h0M69.1 211.2h0M68.5 212.7h0M68.7 218.2h0M67.8 219.3h0M68.3 211.7h0M71.8 212.1h0M68.9 211.2h0M67.9 214.1h0M68.8 219.5h0M72.1 210.5h0M71.5 218.5h0M72.9 212.9h0M69.0 219.7h0M67.3 217.9h0M69.5 212.2h0M71.0 220.2h0M69.8 210.1h0M70.1 210.4h0M73.1 212.7h0" stroke="#ffc400" stroke-width="1.7" stroke-linecap="round" fill="none"/>
<ellipse cx="35.2" cy="223.0" rx="5.9" ry="2.8" transform="rotate(28 35.2 223.0)" fill="#8b2be2"/>
<g fill="#8b2be2"><circle cx="31.0" cy="220.2" r="2.4"/><circle cx="33.6" cy="221.4" r="2.9"/><circle cx="35.7" cy="223.3" r="2.4"/><circle cx="36.8" cy="224.4" r="2.6"/><circle cx="38.9" cy="225.0" r="2.6"/></g>
<path d="M38.9 222.8h0M36.6 226.0h0M32.1 224.3h0M33.6 226.1h0M31.4 218.8h0M30.3 219.9h0M30.9 218.9h0M30.4 219.1h0M34.2 226.6h0M32.2 219.3h0M34.9 220.1h0M36.6 226.4h0M35.7 220.7h0M34.3 226.3h0M40.7 227.4h0M32.8 225.4h0M33.0 224.3h0M38.4 227.2h0M40.8 225.9h0M33.1 219.7h0M34.7 220.3h0M41.0 223.7h0M28.8 219.5h0M30.7 219.3h0M41.2 227.1h0M31.3 218.8h0M39.5 227.7h0M38.5 226.7h0M35.6 227.1h0M29.7 220.9h0M37.2 221.1h0M31.6 223.5h0M32.7 219.2h0M28.7 221.3h0M41.2 225.2h0M32.9 219.9h0M30.4 218.6h0M35.2 225.6h0M33.2 219.4h0M37.0 226.8h0M29.5 219.1h0M36.9 226.3h0M29.3 221.8h0M31.6 223.9h0M38.9 225.7h0M31.1 224.2h0M30.9 220.8h0M31.9 225.2h0M35.8 220.3h0M32.1 219.1h0" stroke="#8b2be2" stroke-width="1.7" stroke-linecap="round" fill="none"/>
<ellipse cx="50.8" cy="230.0" rx="5.0" ry="3.9" transform="rotate(110 50.8 230.0)" fill="#ff7c00"/>
<g fill="#ff7c00"><circle cx="51.6" cy="226.3" r="2.8"/><circle cx="50.4" cy="227.6" r="3.2"/><circle cx="50.4" cy="230.0" r="3.3"/><circle cx="50.0" cy="231.4" r="3.5"/><circle cx="50.3" cy="234.2" r="2.6"/></g>
<path d="M50.5 234.3h0M55.8 228.2h0M49.4 234.0h0M54.3 226.4h0M54.5 228.2h0M46.2 232.4h0M55.3 230.7h0M54.5 225.1h0M52.7 233.6h0M52.0 234.4h0M49.3 225.2h0M47.7 228.9h0M51.6 234.4h0M47.3 233.0h0M52.1 233.9h0M48.8 226.7h0M48.8 234.2h0M47.3 227.8h0M47.1 227.1h0M46.4 228.2h0M49.5 225.5h0M47.3 226.2h0M46.1 229.1h0M50.7 236.1h0M46.9 234.3h0M47.0 231.0h0M46.6 228.5h0M52.9 224.0h0M46.0 230.3h0M51.4 226.1h0M53.7 227.6h0M49.1 226.3h0M47.3 230.1h0M53.5 234.3h0M47.4 229.7h0M54.0 230.7h0M52.4 224.0h0M49.0 226.2h0M51.4 224.3h0M49.7 236.1h0M55.3 226.1h0M48.7 225.0h0M55.0 230.1h0M54.4 227.4h0M55.4 230.7h0M55.1 228.9h0M54.8 229.5h0M53.0 232.7h0M46.9 234.5h0M50.3 226.3h0" stroke="#ff7c00" stroke-width="1.7" stroke-linecap="round" fill="none"/>
<ellipse cx="37.7" cy="241.5" rx="6.1" ry="3.4" transform="rotate(-32 37.7 241.5)" fill="#1ac938"/>
<g fill="#1ac938"><circle cx="33.7" cy="245.2" r="2.3"/><circle cx="36.1" cy="242.6" r="2.8"/><circle cx="37.5" cy="241.5" r="3.0"/><circle cx="40.7" cy="240.5" r="3.1"/><circle cx="41.5" cy="238.8" r="2.4"/></g>
<path d="M36.5 246.1h0M37.6 244.6h0M43.3 240.3h0M43.7 236.9h0M42.9 236.9h0M44.1 238.5h0M35.2 246.1h0M42.7 240.0h0M43.1 241.9h0M41.5 237.7h0M31.3 242.9h0M35.1 245.9h0M34.2 245.5h0M35.2 246.7h0M43.2 241.2h0M33.4 239.9h0M38.4 236.4h0M43.5 240.2h0M39.1 244.6h0M32.4 245.7h0M35.9 246.6h0M39.1 236.6h0M37.0 237.4h0M43.9 240.2h0M37.3 236.9h0M42.9 239.5h0M33.7 240.6h0M32.8 244.3h0M34.3 245.7h0M43.9 240.4h0M33.3 245.6h0M37.8 246.1h0M41.4 238.1h0M33.0 243.6h0M34.7 245.8h0M42.8 238.2h0M34.5 245.8h0M42.0 237.1h0M43.4 238.0h0M33.3 243.0h0M38.9 236.5h0M31.9 245.6h0M39.7 236.7h0M31.1 245.1h0M41.4 238.3h0M34.2 245.0h0M31.1 244.2h0M42.1 239.4h0M41.2 244.0h0M32.0 243.6h0" stroke="#1ac938" stroke-width="1.7" stroke-linecap="round" fill="none"/>
<ellipse cx="74.8" cy="244.0" rx="3.6" ry="3.4" transform="rotate(0 74.8 244.0)" fill="#a3a3a3"/>
<g fill="#a3a3a3"><circle cx="72.1" cy="243.9" r="2.6"/><circle cx="73.2" cy="244.1" r="2.4"/><circle cx="75.1" cy="244.6" r="3.7"/><circle cx="76.4" cy="244.1" r="2.8"/><circle cx="77.6" cy="244.1" r="2.9"/></g>
<path d="M74.3 241.3h0M70.5 243.7h0M77.3 246.7h0M71.6 242.5h0M76.7 247.4h0M73.4 241.0h0M72.0 245.3h0M78.4 242.9h0M77.9 246.0h0M73.6 240.4h0M76.6 241.5h0M77.8 246.2h0M70.9 242.8h0M75.9 239.9h0M79.1 244.6h0M77.4 241.3h0M71.5 244.6h0M72.9 247.2h0M74.0 248.3h0M71.5 242.9h0M71.5 242.4h0M76.6 247.2h0M76.3 241.6h0M76.0 247.8h0M71.4 246.4h0M78.6 244.9h0M71.9 246.6h0M77.6 245.7h0M74.7 247.4h0M72.8 241.6h0M74.4 246.8h0M77.1 246.5h0M70.8 243.5h0M75.1 248.0h0M70.5 243.3h0M75.9 247.0h0M74.3 246.8h0M72.1 245.1h0M75.2 247.3h0M75.8 247.5h0M72.0 245.9h0M78.2 244.1h0M76.3 247.9h0M74.0 241.3h0M75.3 240.9h0M72.5 246.9h0M78.5 244.1h0M72.3 240.5h0M78.1 242.0h0M73.9 241.4h0" stroke="#a3a3a3" stroke-width="1.7" stroke-linecap="round" fill="none"/>
<ellipse cx="128.0" cy="246.0" rx="4.9" ry="3.0" transform="rotate(8 128.0 246.0)" fill="#4c72b0"/>
<g fill="#4c72b0"><circle cx="124.0" cy="244.7" r="1.9"/><circle cx="125.8" cy="245.3" r="2.1"/><circle cx="128.2" cy="245.2" r="2.9"/><circle cx="130.3" cy="246.1" r="2.6"/><circle cx="131.6" cy="246.8" r="2.5"/></g>
<path d="M133.2 247.5h0M124.5 243.6h0M133.8 246.2h0M133.0 244.3h0M122.7 247.4h0M132.1 246.3h0M124.4 247.3h0M130.8 248.5h0M131.9 246.6h0M131.6 243.4h0M128.6 243.5h0M132.0 245.7h0M123.9 245.0h0M126.9 243.5h0M130.9 248.4h0M124.3 247.4h0M126.2 248.5h0M124.8 243.4h0M128.5 249.6h0M125.9 242.9h0M129.6 243.9h0M123.1 243.7h0M125.2 248.1h0M133.6 246.1h0M123.4 244.0h0M125.7 243.6h0M128.0 249.0h0M124.3 243.3h0M130.3 248.5h0M125.6 248.3h0M132.9 244.1h0M127.9 243.2h0M128.4 248.7h0M130.1 249.1h0M130.9 249.2h0M123.8 243.9h0M132.4 245.9h0M132.2 246.5h0M129.4 242.6h0M125.6 249.0h0M122.1 246.5h0M123.8 244.4h0M123.9 248.4h0M125.3 243.1h0M124.4 248.7h0M127.6 242.7h0M124.6 243.4h0M125.3 248.1h0M122.7 246.7h0M127.4 242.4h0" stroke="#4c72b0" stroke-width="1.7" stroke-linecap="round" fill="none"/>
<ellipse cx="101.8" cy="253.3" rx="5.6" ry="3.2" transform="rotate(82 101.8 253.3)" fill="#9f4800"/>
<g fill="#9f4800"><circle cx="101.9" cy="248.2" r="2.3"/><circle cx="101.7" cy="251.1" r="3.1"/><circle cx="101.4" cy="252.8" r="2.5"/><circle cx="102.1" cy="255.2" r="3.0"/><circle cx="102.7" cy="258.1" r="2.2"/></g>
<path d="M102.8 249.3h0M100.4 259.5h0M97.6 251.4h0M98.2 250.0h0M105.2 253.2h0M103.7 257.7h0M99.0 254.9h0M105.2 256.6h0M100.4 249.2h0M104.9 256.0h0M97.9 252.7h0M98.9 251.7h0M106.0 253.8h0M99.6 257.3h0M101.1 247.1h0M101.2 247.4h0M98.8 252.2h0M104.6 252.2h0M98.6 256.0h0M98.0 253.8h0M100.9 246.8h0M104.3 259.5h0M100.1 248.8h0M100.3 248.7h0M99.6 257.4h0M99.3 251.2h0M103.2 258.4h0M103.5 248.3h0M99.2 248.0h0M99.1 255.1h0M105.7 252.9h0M99.2 255.1h0M100.1 248.5h0M98.6 252.9h0M103.5 257.6h0M98.4 248.7h0M104.4 252.0h0M99.3 249.8h0M103.3 259.1h0M102.7 247.7h0M98.0 250.8h0M102.7 247.5h0M99.8 258.5h0M100.5 247.1h0M98.0 254.4h0M104.1 250.0h0M105.1 254.3h0M104.2 256.8h0M102.8 248.5h0M103.7 249.2h0" stroke="#9f4800" stroke-width="1.7" stroke-linecap="round" fill="none"/>
<ellipse cx="113.2" cy="276.0" rx="5.1" ry="2.9" transform="rotate(85 113.2 276.0)" fill="#ee4fc6"/>
<g fill="#ee4fc6"><circle cx="113.0" cy="271.3" r="2.1"/><circle cx="113.7" cy="273.4" r="2.8"/><circle cx="114.0" cy="276.1" r="3.0"/><circle cx="114.0" cy="278.2" r="2.8"/><circle cx="114.2" cy="280.4" r="2.3"/></g>
<path d="M116.8 276.3h0M110.2 274.0h0M114.4 280.8h0M116.1 275.0h0M113.5 270.6h0M109.9 278.5h0M111.6 278.9h0M114.6 272.4h0M116.2 280.2h0M115.7 277.2h0M110.3 275.4h0M116.6 275.5h0M110.9 272.1h0M112.2 271.7h0M112.9 281.0h0M110.5 274.4h0M114.9 279.1h0M115.5 275.3h0M111.4 272.1h0M111.0 271.5h0M113.1 270.1h0M110.3 276.2h0M116.2 273.9h0M110.5 278.7h0M112.7 281.7h0M116.2 277.3h0M114.9 272.4h0M111.3 279.6h0M110.4 274.0h0M113.8 280.2h0M111.3 280.7h0M113.2 280.6h0M116.3 274.6h0M112.5 279.8h0M113.7 269.7h0M112.8 270.2h0M116.3 277.1h0M110.7 279.9h0M116.0 274.8h0M110.9 276.9h0M110.8 279.5h0M115.7 275.2h0M110.3 277.4h0M110.5 273.1h0M113.6 281.7h0M110.3 273.7h0M111.3 270.1h0M110.2 276.9h0M116.1 276.2h0M115.9 280.2h0" stroke="#ee4fc6" stroke-width="1.7" stroke-linecap="round" fill="none"/>
<ellipse cx="56.8" cy="281.0" rx="5.3" ry="3.5" transform="rotate(65 56.8 281.0)" fill="#023eff"/>
<g fill="#023eff"><circle cx="53.9" cy="277.3" r="2.9"/><circle cx="56.2" cy="279.4" r="3.1"/><circle cx="57.4" cy="280.8" r="2.8"/><circle cx="57.4" cy="283.0" r="3.1"/><circle cx="59.1" cy="284.8" r="2.2"/></g>
<path d="M61.5 281.5h0M58.7 285.9h0M58.1 285.6h0M59.3 278.4h0M59.3 284.6h0M61.1 283.8h0M57.7 277.1h0M55.5 275.4h0M60.1 278.4h0M55.1 276.9h0M56.2 285.0h0M53.2 278.5h0M59.8 286.9h0M57.1 276.9h0M55.6 276.0h0M54.7 276.7h0M60.9 279.1h0M58.4 287.2h0M58.7 285.1h0M61.4 284.7h0M55.5 285.2h0M60.3 284.2h0M58.0 287.1h0M58.4 276.5h0M52.9 278.6h0M52.4 279.1h0M60.1 285.4h0M57.6 277.4h0M53.6 281.8h0M59.6 285.1h0M56.9 285.5h0M60.7 282.6h0M52.8 283.0h0M54.6 284.9h0M54.5 276.0h0M53.3 277.9h0M54.4 277.2h0M56.1 286.4h0M55.4 284.5h0M60.8 281.8h0M53.1 278.5h0M53.1 282.3h0M61.2 280.5h0M53.5 282.1h0M53.2 280.6h0M53.7 280.7h0M56.9 275.7h0M57.9 285.2h0M60.4 285.7h0M58.8 278.2h0" stroke="#023eff" stroke-width="1.7" stroke-linecap="round" fill="none"/>
<ellipse cx="83.5" cy="282.5" rx="5.4" ry="3.0" transform="rotate(48 83.5 282.5)" fill="#e8000b"/>
<g fill="#e8000b"><circle cx="80.8" cy="279.7" r="2.0"/><circle cx="82.1" cy="280.7" r="2.1"/><circle cx="83.0" cy="282.2" r="3.0"/><circle cx="85.0" cy="284.3" r="2.4"/><circle cx="86.2" cy="286.3" r="1.8"/></g>
<path d="M87.7 282.6h0M86.7 286.2h0M86.7 286.9h0M88.2 285.0h0M87.4 285.3h0M85.7 286.7h0M88.3 285.1h0M85.0 286.4h0M88.1 287.4h0M78.3 278.7h0M79.7 283.7h0M85.3 287.6h0M85.6 286.7h0M83.4 287.1h0M87.7 284.4h0M79.1 277.6h0M85.5 279.2h0M82.6 286.1h0M83.6 287.2h0M88.5 286.3h0M86.6 280.9h0M86.0 286.3h0M87.3 284.1h0M88.9 285.8h0M79.4 277.1h0M88.6 285.7h0M79.2 279.9h0M82.9 285.9h0M79.9 282.2h0M88.1 284.8h0M85.5 279.4h0M81.4 277.3h0M88.4 285.8h0M85.5 280.3h0M79.2 277.4h0M86.4 281.8h0M86.1 280.0h0M84.0 279.4h0M82.6 278.0h0M79.3 278.5h0M87.8 284.2h0M84.6 278.3h0M79.4 283.3h0M82.0 285.0h0M80.2 283.0h0M84.4 279.0h0M87.6 285.1h0M83.9 286.0h0M86.8 287.9h0M79.4 280.6h0" stroke="#e8000b" stroke-width="1.7" stroke-linecap="round" fill="none"/>
<path d="M89.0 197.3h0" stroke="#55a868" stroke-width="2.0" stroke-linecap="round" fill="none"/>
<path d="M75.2 218.2h0" stroke="#00d7ff" stroke-width="2.0" stroke-linecap="round" fill="none"/>
<path d="M66.6 219.6h0M37.3 229.5h0" stroke="#8b2be2" stroke-width="2.0" stroke-linecap="round" fill="none"/>
<path d="M43.5 226.0h0M44.2 228.3h0" stroke="#ff7c00" stroke-width="2.0" stroke-linecap="round" fill="none"/>
<path d="M58.0 227.0h0" stroke="#ffc400" stroke-width="1.8" stroke-linecap="round" fill="none"/>
<path d="M102.3 261.3h0" stroke="#ee4fc6" stroke-width="1.8" stroke-linecap="round" fill="none"/>
<path d="M111.5 269.5h0" stroke="#ff7c00" stroke-width="1.6" stroke-linecap="round" fill="none"/>
<text x="169.6" y="180.7" font-size="8.8" textLength="98.3" lengthAdjust="spacingAndGlyphs">2 RNA mixture in droplet</text>
<defs><radialGradient id="dg" cx="0.5" cy="0.13" r="0.62" fx="0.5" fy="0.1"><stop offset="0" stop-color="#fcfeff"/><stop offset="0.38" stop-color="#e0f1fb"/><stop offset="0.8" stop-color="#cfe9f8"/><stop offset="1" stop-color="#cde8f7"/></radialGradient></defs>
<circle cx="235.4" cy="239.0" r="54.2" fill="url(#dg)" stroke="#111" stroke-width="0.9"/>
<ellipse cx="206.3" cy="238.2" rx="17.6" ry="38.4" fill="none" stroke="#a3a3a3" stroke-width="1.8"/>
<text x="198.4" y="218.4" font-size="8.8" textLength="15.2" lengthAdjust="spacingAndGlyphs">Cell</text>
<text x="229.4" y="218.2" font-size="8.5">+</text>
<text x="241.3" y="218.4" font-size="8.8" textLength="33.6" lengthAdjust="spacingAndGlyphs">Ambient</text>
<path d="M195.9 230.3c2.2 -4.6 6 -5.4 10 -1.6s8 3.4 10.4 -2.2" stroke="#e3241b" stroke-width="1.5" fill="none" stroke-linecap="round"/>
<path d="M195.9 241.3c2.2 -4.6 6 -5.4 10 -1.6s8 3.4 10.4 -2.2" stroke="#e3241b" stroke-width="1.5" fill="none" stroke-linecap="round"/>
<path d="M195.9 252.20000000000002c2.2 -4.6 6 -5.4 10 -1.6s8 3.4 10.4 -2.2" stroke="#e3241b" stroke-width="1.5" fill="none" stroke-linecap="round"/>
<path d="M195.9 263.2c2.2 -4.6 6 -5.4 10 -1.6s8 3.4 10.4 -2.2" stroke="#111" stroke-width="1.5" fill="none" stroke-linecap="round"/>
<path d="M237.4 230.3c2.2 -4.6 6 -5.4 10 -1.6s8 3.4 10.4 -2.2" stroke="#e3241b" stroke-width="1.5" fill="none" stroke-linecap="round"/>
<path d="M237.4 241.3c2.2 -4.6 6 -5.4 10 -1.6s8 3.4 10.4 -2.2" stroke="#f8b133" stroke-width="1.5" fill="none" stroke-linecap="round"/>
<path d="M237.4 252.20000000000002c2.2 -4.6 6 -5.4 10 -1.6s8 3.4 10.4 -2.2" stroke="#111" stroke-width="1.5" fill="none" stroke-linecap="round"/>
<path d="M237.4 263.2c2.2 -4.6 6 -5.4 10 -1.6s8 3.4 10.4 -2.2" stroke="#111" stroke-width="1.5" fill="none" stroke-linecap="round"/>
<path d="M261.4 230.3c2.2 -4.6 6 -5.4 10 -1.6s8 3.4 10.4 -2.2" stroke="#f8b133" stroke-width="1.5" fill="none" stroke-linecap="round"/>
<path d="M261.4 241.3c2.2 -4.6 6 -5.4 10 -1.6s8 3.4 10.4 -2.2" stroke="#e3241b" stroke-width="1.5" fill="none" stroke-linecap="round"/>
<path d="M261.4 252.20000000000002c2.2 -4.6 6 -5.4 10 -1.6s8 3.4 10.4 -2.2" stroke="#f8b133" stroke-width="1.5" fill="none" stroke-linecap="round"/>
<path d="M261.4 263.2c2.2 -4.6 6 -5.4 10 -1.6s8 3.4 10.4 -2.2" stroke="#f8b133" stroke-width="1.5" fill="none" stroke-linecap="round"/>
<text x="328.9" y="180.7" font-size="8.8" textLength="43.4" lengthAdjust="spacingAndGlyphs">3 Test data</text>
<path d="M326.6 184.9V289.2H465.3" stroke="#333" stroke-width="1.05" fill="none" stroke-linejoin="round"/>
<text x="323.0" y="237.5" font-size="8.7" text-anchor="middle" textLength="29.2" lengthAdjust="spacingAndGlyphs" transform="rotate(-90 323.0 237.5)">UMAP 1</text>
<text x="396.4" y="299.4" font-size="8.7" text-anchor="middle" textLength="31.5" lengthAdjust="spacingAndGlyphs">UMAP 0</text>
<ellipse cx="412.3" cy="194.5" rx="3.3" ry="5.9" transform="rotate(-5 412.3 194.5)" fill="#00d7ff"/>
<path d="M412.3 195.0h0M410.9 197.1h0M409.4 189.3h0M411.2 192.0h0M412.1 188.9h0M408.5 193.3h0M408.7 194.3h0M413.5 203.0h0M414.9 196.8h0M410.8 189.5h0M408.1 191.8h0M413.7 188.2h0M408.9 194.3h0M412.9 189.2h0M412.9 189.5h0M413.1 194.1h0M414.3 187.7h0M409.6 192.5h0M410.1 195.2h0M415.2 195.8h0M409.6 195.5h0M411.4 200.3h0M410.6 192.9h0M412.5 192.5h0M411.0 192.8h0M414.8 197.5h0M411.2 191.5h0M411.4 198.0h0M414.6 192.8h0M414.0 196.3h0M410.7 188.9h0M410.5 193.4h0M411.3 195.6h0M413.5 193.5h0M411.5 200.4h0M411.9 198.5h0M412.3 188.1h0M407.9 194.7h0M415.2 194.2h0M411.0 201.9h0M410.9 191.9h0M414.9 190.1h0M413.7 193.8h0M410.9 190.9h0M413.2 196.4h0M412.6 191.9h0M410.9 189.3h0M408.1 190.9h0M409.1 197.1h0M411.2 196.8h0M412.4 199.4h0M411.8 202.2h0M413.4 199.4h0M412.0 194.2h0M414.0 193.3h0M415.3 198.8h0M410.7 192.5h0M411.3 193.1h0M412.0 192.2h0M413.3 197.9h0M412.4 197.3h0M409.4 197.0h0M413.5 191.9h0M410.4 201.2h0M409.1 197.0h0M414.1 191.8h0M410.4 199.9h0M414.6 196.4h0M410.5 192.1h0M411.7 195.6h0M410.2 194.1h0M412.6 189.1h0M415.2 197.7h0M410.5 187.9h0M416.7 195.5h0M411.9 193.5h0M414.7 194.0h0M411.6 191.5h0M412.6 199.6h0M411.0 197.0h0M408.7 191.6h0M409.7 200.4h0M414.3 190.3h0M411.1 198.4h0M408.5 189.5h0M412.4 194.5h0M411.6 193.1h0M409.6 194.7h0M411.8 196.0h0M410.6 191.8h0M413.6 192.6h0M412.4 193.2h0M409.4 188.7h0M410.7 189.9h0M412.5 198.5h0M416.5 196.3h0M411.9 186.9h0M410.0 199.5h0M411.2 198.9h0M411.0 193.8h0M411.5 194.9h0M415.2 196.3h0M410.6 193.4h0M414.8 199.9h0M414.0 198.2h0M413.1 194.3h0M410.4 195.0h0M414.7 192.9h0M413.6 197.8h0M413.2 187.1h0" stroke="#00d7ff" stroke-width="2.0" stroke-linecap="round" fill="none"/>
<ellipse cx="382.5" cy="212.5" rx="6.3" ry="2.5" transform="rotate(48 382.5 212.5)" fill="#ffc400"/>
<path d="M383.6 216.3h0M386.6 215.4h0M385.6 214.9h0M381.4 212.5h0M380.9 208.0h0M380.6 212.4h0M380.9 210.6h0M386.1 213.2h0M381.7 210.7h0M385.1 217.6h0M380.5 211.4h0M380.3 215.2h0M386.7 216.0h0M380.6 215.1h0M380.2 210.1h0M382.8 211.4h0M377.9 207.7h0M382.6 209.9h0M382.5 215.3h0M380.9 209.3h0M381.9 213.3h0M384.6 212.6h0M384.5 214.4h0M386.0 219.1h0M387.3 217.4h0M381.2 215.1h0M380.7 211.8h0M382.4 213.0h0M383.9 212.5h0M384.8 212.2h0M380.8 208.8h0M378.4 212.5h0M381.7 213.0h0M381.9 208.1h0M379.0 210.1h0M385.2 218.2h0M383.3 212.8h0M383.4 214.2h0M382.5 211.2h0M382.5 215.2h0M380.7 206.8h0M376.8 208.6h0M379.2 210.8h0M385.5 213.1h0M378.8 208.3h0M378.2 211.9h0M384.8 215.6h0M384.7 212.8h0M382.6 215.0h0M380.8 210.3h0M384.6 214.3h0M383.8 213.7h0M382.6 212.5h0M383.5 209.5h0M383.2 215.9h0M380.0 208.3h0M381.8 213.3h0M380.0 208.7h0M384.8 215.5h0M385.6 214.8h0M380.4 210.1h0M379.4 208.2h0M382.6 210.3h0M383.4 210.1h0M381.1 208.9h0M381.9 211.7h0M380.9 209.9h0M388.4 218.3h0M383.7 214.3h0M381.0 211.7h0M380.7 208.8h0M383.3 212.4h0M378.6 209.8h0M380.8 211.4h0M378.0 210.6h0M376.5 207.7h0M378.8 205.8h0M379.8 212.6h0M382.9 210.4h0M385.5 213.4h0M381.7 211.5h0M379.4 208.2h0M380.9 210.2h0M385.5 215.0h0M382.9 210.3h0M378.4 207.6h0M380.1 209.6h0M384.2 214.5h0M383.5 213.2h0M385.7 218.3h0M382.0 214.6h0M384.7 213.9h0M380.7 213.2h0M383.8 210.7h0M385.8 218.1h0M382.8 212.3h0M377.0 210.5h0M388.6 218.5h0M383.7 214.2h0M382.4 216.0h0M376.4 209.2h0M379.5 206.9h0M380.4 206.3h0M378.0 209.1h0M383.2 213.0h0M384.6 213.1h0M379.7 210.8h0M381.6 208.8h0M380.4 213.7h0M382.2 212.3h0" stroke="#ffc400" stroke-width="2.0" stroke-linecap="round" fill="none"/>
<ellipse cx="414.5" cy="230.2" rx="7.0" ry="2.6" transform="rotate(-38 414.5 230.2)" fill="#55a868"/>
<path d="M412.5 230.5h0M410.4 233.3h0M417.0 231.8h0M410.3 231.8h0M412.2 228.1h0M421.5 226.5h0M414.7 230.2h0M420.6 224.4h0M411.6 231.8h0M418.0 230.7h0M410.4 233.2h0M421.0 227.7h0M414.1 231.9h0M409.3 230.7h0M420.6 225.9h0M410.7 235.5h0M419.5 228.4h0M413.6 228.9h0M413.9 226.8h0M415.6 231.4h0M413.9 231.3h0M416.0 228.4h0M420.5 228.0h0M418.3 226.6h0M421.2 228.7h0M413.0 230.9h0M418.0 224.6h0M414.0 233.4h0M410.5 232.5h0M411.8 228.3h0M419.3 227.4h0M410.5 232.1h0M411.2 230.2h0M417.1 227.3h0M409.6 229.7h0M408.0 231.8h0M417.0 228.3h0M416.6 230.2h0M413.1 232.5h0M416.8 228.6h0M413.8 232.6h0M411.4 229.5h0M416.3 230.9h0M412.9 230.2h0M415.2 234.0h0M413.1 231.7h0M421.0 225.8h0M416.3 230.0h0M412.6 231.8h0M417.5 226.0h0M418.1 226.1h0M412.7 233.8h0M415.9 229.5h0M418.6 228.1h0M410.8 231.1h0M407.2 234.6h0M418.2 229.9h0M415.3 232.1h0M416.1 230.1h0M417.4 227.8h0M415.4 230.4h0M409.9 233.1h0M412.6 230.7h0M413.7 229.4h0M416.6 231.9h0M417.7 230.0h0M419.5 225.0h0M413.1 230.5h0M408.3 234.4h0M420.5 225.3h0M410.9 235.9h0M410.7 231.7h0M415.9 225.8h0M418.8 224.3h0M410.8 234.8h0M411.8 235.0h0M420.5 227.7h0M411.9 231.4h0M415.1 232.7h0M411.1 229.8h0M410.5 229.9h0M413.7 233.5h0M418.2 227.4h0M415.1 226.2h0M412.6 227.5h0M419.5 226.8h0M413.5 230.5h0M418.0 230.2h0M418.6 229.6h0M411.7 233.1h0M410.0 231.8h0M412.4 234.0h0M412.2 227.2h0M417.8 224.7h0M412.7 229.8h0M415.2 226.9h0M409.7 236.3h0M414.1 233.6h0M408.4 232.0h0M410.7 230.5h0M409.6 233.8h0M417.8 229.0h0M420.1 227.3h0M412.6 228.8h0M409.7 234.0h0M419.8 226.2h0M407.5 233.3h0M415.3 231.4h0M417.5 231.3h0M411.0 232.8h0M413.2 232.7h0M419.3 224.7h0M418.8 225.2h0M417.5 228.2h0M412.3 231.1h0M415.4 229.9h0M407.4 236.1h0M414.1 229.3h0M414.8 227.4h0M418.4 225.0h0" stroke="#55a868" stroke-width="2.0" stroke-linecap="round" fill="none"/>
<ellipse cx="383.2" cy="236.0" rx="7.0" ry="2.7" transform="rotate(28 383.2 236.0)" fill="#a3a3a3"/>
<path d="M385.8 239.8h0M383.7 238.5h0M379.0 232.7h0M383.9 236.1h0M382.6 231.6h0M384.0 237.6h0M385.0 240.3h0M378.7 231.1h0M385.3 234.1h0M379.9 233.3h0M381.1 233.8h0M379.2 235.1h0M386.8 235.6h0M381.5 232.6h0M379.2 234.5h0M383.6 234.2h0M386.5 235.0h0M387.8 237.2h0M385.4 237.0h0M381.9 236.8h0M378.9 234.2h0M385.8 236.0h0M380.3 232.7h0M383.9 236.4h0M377.7 235.0h0M380.4 235.6h0M387.5 238.8h0M384.5 236.1h0M385.4 232.9h0M384.1 235.6h0M389.4 239.8h0M383.8 237.4h0M381.4 237.5h0M380.2 237.5h0M390.7 239.7h0M388.7 235.6h0M378.3 231.7h0M378.2 236.5h0M388.8 238.4h0M385.1 235.5h0M383.1 233.4h0M384.7 233.8h0M378.2 234.5h0M379.4 237.9h0M383.6 237.6h0M380.8 236.4h0M385.6 235.5h0M389.3 235.9h0M385.8 237.2h0M381.3 231.3h0M386.2 237.7h0M389.7 236.2h0M382.4 236.3h0M387.5 236.8h0M389.4 238.1h0M383.7 236.8h0M389.1 239.6h0M382.2 236.6h0M384.0 235.6h0M382.4 238.3h0M381.5 232.6h0M387.4 237.0h0M386.6 236.4h0M386.2 236.3h0M378.9 233.9h0M388.1 237.9h0M376.1 231.6h0M380.0 234.1h0M382.4 238.9h0M384.3 235.7h0M387.4 237.0h0M390.9 239.6h0M390.8 239.7h0M384.4 239.5h0M383.9 233.2h0M379.5 232.2h0M377.9 230.5h0M381.8 234.9h0M383.1 238.3h0M383.6 237.8h0M385.8 235.6h0M385.5 238.8h0M376.3 232.0h0M389.6 239.0h0M377.7 232.8h0M382.3 234.2h0M377.3 235.6h0M383.5 239.9h0M384.2 234.1h0M385.2 236.3h0M378.9 231.8h0M385.5 233.8h0M389.6 236.5h0M384.0 235.9h0M375.9 231.0h0M377.6 231.1h0M384.4 237.4h0M382.0 235.6h0M383.9 237.7h0M384.0 236.9h0M382.5 235.8h0M386.0 238.1h0M385.1 235.2h0M383.9 232.9h0M382.3 232.4h0M377.8 232.8h0M390.4 240.1h0M384.3 237.7h0M386.1 240.8h0M387.4 236.3h0M375.9 231.3h0M384.0 232.7h0M384.2 234.0h0M386.3 237.5h0M379.1 235.4h0M384.5 235.6h0M389.3 237.2h0M381.3 234.2h0M384.4 238.0h0M378.7 236.4h0" stroke="#a3a3a3" stroke-width="2.0" stroke-linecap="round" fill="none"/>
<ellipse cx="445.0" cy="237.6" rx="7.4" ry="4.1" transform="rotate(-28 445.0 237.6)" fill="#023eff"/>
<path d="M448.2 235.6h0M444.6 240.0h0M445.7 236.4h0M440.8 237.8h0M440.5 239.1h0M445.7 239.3h0M447.1 240.4h0M446.6 239.9h0M447.4 238.7h0M446.1 232.4h0M439.1 241.4h0M447.2 235.8h0M449.0 232.9h0M445.2 235.7h0M445.0 243.2h0M450.4 233.2h0M446.4 236.2h0M443.7 237.4h0M443.8 238.4h0M447.2 238.3h0M449.5 234.8h0M448.8 239.4h0M435.8 238.7h0M438.4 237.8h0M444.6 236.9h0M448.4 238.7h0M445.1 239.7h0M449.4 234.1h0M441.8 236.0h0M449.6 234.3h0M445.4 240.1h0M440.7 237.1h0M449.5 240.7h0M449.1 236.6h0M441.5 240.0h0M444.3 232.5h0M446.2 237.4h0M441.7 237.6h0M439.9 238.9h0M444.0 233.9h0M448.2 230.8h0M441.8 237.9h0M449.8 232.7h0M450.0 235.2h0M449.7 237.3h0M446.1 233.6h0M437.9 243.8h0M444.0 237.2h0M444.6 237.6h0M448.7 236.7h0M439.5 239.9h0M443.8 232.9h0M446.7 234.4h0M446.2 238.9h0M450.4 235.5h0M454.1 233.9h0M447.2 234.8h0M438.8 238.6h0M438.6 241.7h0M440.0 234.5h0M447.8 240.2h0M440.7 236.3h0M438.9 235.7h0M446.0 235.4h0M439.7 234.7h0M438.3 240.5h0M440.3 236.3h0M446.6 233.6h0M450.6 236.4h0M444.9 234.8h0M443.5 233.0h0M451.0 234.2h0M445.7 240.8h0M450.2 232.3h0M446.4 236.3h0M443.6 235.4h0M451.8 238.3h0M437.2 240.5h0M440.4 237.7h0M452.8 235.0h0M442.4 241.3h0M453.7 237.1h0M441.1 239.1h0M440.1 244.7h0M446.1 237.7h0M444.5 240.6h0M450.8 240.2h0M439.1 239.9h0M444.8 231.5h0M445.6 236.7h0M443.4 241.4h0M453.4 233.6h0M439.2 235.0h0M444.8 238.4h0M441.6 235.2h0M444.5 234.4h0M442.3 241.0h0M453.1 235.9h0M441.5 240.6h0M445.5 238.7h0M446.4 239.5h0M440.7 235.8h0M441.1 237.1h0M436.5 238.0h0M443.6 236.9h0M449.2 239.8h0M452.9 232.0h0M445.0 239.3h0M451.4 232.0h0M445.8 241.1h0M453.6 236.3h0M444.5 241.0h0M445.9 238.6h0M442.9 234.6h0M441.9 243.1h0M451.0 234.0h0M445.7 236.2h0M446.8 239.7h0M443.1 239.5h0M445.4 238.8h0M441.5 238.7h0M443.5 237.5h0M448.7 233.4h0M447.2 241.4h0M441.5 239.0h0M452.9 236.8h0M443.2 240.5h0M447.5 239.6h0M453.2 236.6h0M437.8 239.2h0M447.4 234.9h0M445.6 235.2h0M445.3 240.3h0M447.8 233.1h0M443.1 242.4h0M443.9 239.7h0M449.6 230.9h0M449.4 230.6h0M439.6 241.0h0M444.7 244.1h0M445.1 239.8h0M453.0 234.6h0M450.8 238.6h0M445.0 240.5h0M446.5 235.4h0M438.8 236.5h0M441.9 241.4h0M442.3 233.6h0M447.7 240.0h0M447.9 236.0h0" stroke="#023eff" stroke-width="2.0" stroke-linecap="round" fill="none"/>
<ellipse cx="420.0" cy="247.3" rx="8.2" ry="3.2" transform="rotate(22 420.0 247.3)" fill="#9f4800"/>
<path d="M426.1 251.6h0M417.3 243.9h0M426.5 248.3h0M421.8 249.5h0M422.1 248.4h0M423.5 246.9h0M416.3 247.7h0M420.4 246.9h0M420.2 246.1h0M415.9 249.8h0M422.1 249.3h0M416.8 243.3h0M418.8 249.4h0M416.3 244.7h0M419.1 252.1h0M418.0 250.0h0M419.4 243.4h0M416.9 241.6h0M421.7 249.7h0M427.1 249.2h0M418.7 243.9h0M419.9 243.8h0M417.2 246.7h0M421.1 249.9h0M427.5 247.4h0M425.8 251.9h0M422.6 250.1h0M418.2 243.1h0M419.5 248.0h0M420.3 243.1h0M419.5 246.4h0M419.8 247.7h0M426.0 247.4h0M424.0 248.6h0M423.9 245.2h0M427.2 251.3h0M416.0 248.2h0M418.9 245.7h0M424.5 251.7h0M424.0 245.4h0M424.4 245.9h0M420.6 247.0h0M413.7 248.5h0M418.4 246.9h0M415.4 244.7h0M424.4 253.0h0M429.6 248.4h0M414.6 246.0h0M413.4 246.2h0M423.6 248.6h0M423.1 247.3h0M421.3 250.6h0M421.7 250.8h0M420.1 246.1h0M425.1 250.4h0M421.8 246.5h0M415.1 245.9h0M422.2 248.2h0M419.1 244.9h0M415.2 244.8h0M417.6 248.3h0M429.8 251.2h0M427.6 248.6h0M419.5 248.1h0M412.1 247.8h0M413.1 248.4h0M424.9 250.1h0M413.9 246.8h0M413.8 243.9h0M428.6 249.6h0M427.2 251.2h0M427.1 247.6h0M416.1 242.8h0M418.1 242.2h0M416.9 247.3h0M416.1 245.6h0M420.5 247.4h0M423.6 249.6h0M419.0 246.9h0M420.3 247.4h0M423.4 248.0h0M422.4 248.0h0M416.7 246.3h0M414.2 246.4h0M421.4 248.3h0M422.3 247.9h0M428.8 251.2h0M413.6 247.1h0M421.2 250.3h0M424.9 250.4h0M414.6 249.1h0M418.5 246.8h0M419.3 247.2h0M418.4 246.8h0M429.5 248.2h0M423.7 249.4h0M423.9 249.1h0M417.3 251.4h0M415.7 248.4h0M420.3 248.9h0M422.1 248.3h0M414.1 244.6h0M416.1 244.6h0M420.7 247.9h0M411.6 246.2h0M423.3 244.8h0M427.2 247.8h0M419.5 247.3h0M413.3 245.8h0M424.5 251.7h0M418.6 247.8h0M417.4 245.8h0M420.9 251.9h0M417.2 246.5h0M416.7 249.4h0M421.6 247.6h0M422.2 247.1h0M422.4 252.7h0M420.5 249.2h0M418.9 251.1h0M417.8 248.2h0M412.5 247.2h0M418.8 245.3h0M419.3 251.3h0M420.9 248.9h0M420.0 248.8h0M426.2 247.1h0M413.2 243.5h0M421.3 250.2h0M428.5 248.7h0M424.5 248.7h0M418.3 242.6h0M414.1 248.0h0M410.9 243.5h0M419.3 245.2h0M414.2 244.7h0M419.0 245.3h0M414.6 246.7h0M413.9 242.8h0M424.3 247.1h0M415.9 247.4h0M418.9 248.8h0M416.1 244.6h0M417.9 248.6h0M417.4 245.7h0M424.6 249.0h0M413.5 246.3h0M417.8 245.8h0M426.5 253.2h0M426.4 249.5h0" stroke="#9f4800" stroke-width="2.0" stroke-linecap="round" fill="none"/>
<ellipse cx="346.0" cy="252.0" rx="5.9" ry="4.1" transform="rotate(5 346.0 252.0)" fill="#d2844c"/>
<path d="M349.3 257.2h0M342.5 249.0h0M348.4 249.4h0M351.2 253.6h0M341.1 250.5h0M352.4 251.6h0M347.7 255.2h0M343.6 250.0h0M348.0 247.7h0M349.5 252.1h0M347.5 246.9h0M346.8 256.2h0M350.6 252.5h0M347.2 253.0h0M342.6 253.3h0M346.3 249.7h0M343.4 247.2h0M343.7 250.5h0M346.5 249.9h0M348.1 251.4h0M346.8 251.8h0M343.3 252.7h0M342.4 253.4h0M342.5 251.1h0M349.3 254.9h0M344.9 248.1h0M348.5 257.8h0M340.2 254.9h0M343.9 252.0h0M349.3 254.3h0M350.4 252.0h0M341.1 250.6h0M351.5 250.3h0M349.9 256.9h0M349.8 249.7h0M345.0 251.8h0M340.7 254.1h0M343.0 248.6h0M349.2 252.7h0M345.7 249.7h0M346.5 254.0h0M349.7 249.6h0M348.5 250.0h0M348.1 249.0h0M347.7 256.1h0M344.6 257.9h0M348.4 254.7h0M345.9 249.6h0M347.5 254.3h0M340.4 249.0h0M347.2 250.8h0M340.9 251.7h0M351.2 252.4h0M345.5 247.9h0M343.5 249.1h0M348.4 253.9h0M344.0 247.8h0M344.4 249.3h0M343.7 248.9h0M349.0 253.9h0M351.8 253.1h0M343.5 249.5h0M341.6 253.3h0M339.6 251.2h0M346.9 248.9h0M344.6 251.6h0M351.8 253.9h0M351.9 250.5h0M341.3 248.8h0M348.2 252.3h0M351.2 251.6h0M339.5 253.5h0M344.2 252.8h0M349.3 252.1h0M347.2 249.9h0M346.4 251.6h0M351.2 249.6h0M342.2 252.4h0M349.8 250.7h0M344.9 247.0h0M340.2 254.5h0M350.8 256.8h0M349.5 250.3h0M344.4 249.8h0M340.1 253.6h0M348.2 251.2h0M340.4 253.3h0M339.4 248.5h0M346.1 255.9h0M343.6 248.5h0M340.9 255.6h0M341.1 251.8h0M345.1 252.1h0M346.4 249.6h0M340.7 252.5h0M349.7 256.4h0M348.1 250.0h0M348.9 252.2h0M347.0 254.4h0M349.0 254.1h0M342.0 254.6h0M344.0 254.6h0M347.6 248.6h0M347.6 251.2h0M346.5 256.7h0M348.0 256.4h0M352.5 250.0h0M347.2 252.9h0M345.6 252.5h0M350.5 253.4h0M344.2 251.7h0M343.5 248.4h0M345.0 252.9h0M347.8 255.5h0M346.8 255.9h0M343.7 249.6h0M349.9 255.5h0M346.7 257.4h0M342.9 256.0h0M346.8 249.9h0M345.5 256.7h0M339.5 250.6h0M341.9 250.4h0M349.3 253.1h0M344.2 249.4h0M345.0 252.6h0M343.1 250.0h0M349.7 255.4h0M343.7 251.6h0M348.1 251.1h0" stroke="#d2844c" stroke-width="2.0" stroke-linecap="round" fill="none"/>
<ellipse cx="378.2" cy="253.0" rx="7.0" ry="3.1" transform="rotate(-5 378.2 253.0)" fill="#8b2be2"/>
<path d="M386.2 250.2h0M380.6 252.5h0M379.7 251.7h0M375.0 249.4h0M378.0 254.5h0M374.0 253.7h0M380.7 251.4h0M381.6 254.4h0M375.2 253.9h0M372.8 253.8h0M371.7 250.9h0M380.4 254.4h0M385.7 250.7h0M374.5 254.4h0M383.3 254.7h0M381.6 250.2h0M383.2 252.5h0M380.4 251.8h0M376.0 255.2h0M377.4 248.8h0M380.6 255.3h0M381.5 255.3h0M381.2 253.4h0M378.4 249.9h0M381.9 255.7h0M370.6 254.6h0M378.9 251.1h0M382.2 253.0h0M379.5 249.8h0M378.6 252.5h0M375.7 254.2h0M370.7 252.8h0M376.8 254.2h0M373.1 250.0h0M379.1 254.3h0M384.8 254.2h0M377.1 252.3h0M376.7 251.2h0M375.5 251.9h0M375.0 254.5h0M370.9 251.2h0M377.5 255.4h0M384.7 253.6h0M369.8 254.5h0M378.2 255.2h0M383.1 252.1h0M374.2 255.8h0M379.2 254.7h0M379.7 255.3h0M377.5 255.3h0M375.7 252.2h0M372.1 253.0h0M377.2 255.9h0M377.8 249.7h0M380.0 249.7h0M380.2 252.0h0M380.1 249.6h0M378.4 252.3h0M378.1 253.7h0M375.9 253.0h0M378.3 256.6h0M377.0 251.4h0M375.9 251.0h0M378.9 249.4h0M379.4 251.3h0M373.8 253.6h0M377.1 252.7h0M373.9 249.2h0M381.5 253.5h0M376.4 253.4h0M375.4 250.7h0M381.5 253.6h0M379.5 255.0h0M381.6 252.8h0M377.3 252.3h0M382.7 250.2h0M377.4 255.7h0M381.3 254.9h0M378.7 251.9h0M379.5 251.2h0M378.0 253.4h0M380.2 254.1h0M378.7 250.9h0M386.7 250.5h0M373.2 251.4h0M371.1 250.6h0M384.9 249.5h0M376.6 254.2h0M381.7 252.5h0M377.2 253.6h0M372.8 253.0h0M386.8 252.2h0M373.4 254.2h0M370.9 252.0h0M382.1 256.8h0M374.3 252.9h0M382.1 255.8h0M385.3 252.9h0M381.4 250.4h0M383.1 252.5h0M376.3 253.9h0M382.6 254.1h0M373.7 249.2h0M374.9 256.1h0M368.4 253.9h0M377.8 254.7h0M377.7 253.2h0M379.3 255.7h0M376.6 255.0h0M381.5 256.6h0M374.4 254.5h0M377.2 252.1h0M386.4 252.7h0M375.1 250.7h0M385.9 252.3h0M374.6 252.7h0M381.0 255.2h0M376.0 250.6h0M385.5 253.6h0M376.7 252.9h0M386.0 252.8h0M380.9 255.2h0M381.2 252.2h0M381.8 251.8h0M382.6 256.3h0M375.1 250.4h0M373.4 256.2h0M379.7 254.7h0M381.5 252.2h0M373.8 253.1h0" stroke="#8b2be2" stroke-width="2.0" stroke-linecap="round" fill="none"/>
<ellipse cx="407.3" cy="260.2" rx="6.2" ry="4.7" transform="rotate(55 407.3 260.2)" fill="#e8000b"/>
<path d="M413.4 259.7h0M412.0 262.3h0M404.8 257.0h0M405.8 256.4h0M404.6 256.4h0M407.9 256.0h0M411.0 261.6h0M406.9 256.5h0M405.4 264.2h0M404.3 257.5h0M412.9 260.5h0M404.6 255.4h0M404.5 260.0h0M408.1 257.3h0M407.2 263.1h0M408.1 253.9h0M409.8 253.6h0M410.2 263.3h0M409.4 264.3h0M411.0 265.8h0M405.3 264.6h0M401.5 255.0h0M405.0 258.9h0M404.7 257.6h0M407.4 257.2h0M401.9 257.4h0M411.7 261.8h0M413.4 262.3h0M407.3 259.7h0M409.3 265.0h0M405.2 258.8h0M411.2 260.7h0M409.6 260.0h0M406.7 261.3h0M407.5 260.2h0M405.6 257.1h0M405.7 256.6h0M406.0 259.7h0M412.8 262.3h0M408.3 256.2h0M414.1 264.4h0M408.0 255.1h0M404.5 264.2h0M409.9 267.2h0M411.6 264.8h0M408.5 258.9h0M408.0 257.1h0M412.7 264.1h0M405.8 264.6h0M409.5 263.4h0M413.5 262.3h0M403.5 255.9h0M406.1 260.9h0M413.2 261.3h0M409.0 264.5h0M410.5 254.6h0M409.2 260.8h0M410.3 258.5h0M406.6 260.4h0M403.2 263.0h0M410.4 264.7h0M409.7 260.1h0M403.1 263.0h0M404.1 261.8h0M409.1 258.2h0M405.2 256.6h0M403.1 264.9h0M411.0 264.1h0M406.1 261.5h0M404.0 256.7h0M402.4 255.2h0M403.0 257.8h0M408.7 260.5h0M408.7 266.3h0M406.3 267.6h0M408.2 265.1h0M404.0 263.1h0M404.8 259.5h0M412.7 263.6h0M411.6 261.6h0M400.5 262.4h0M409.1 259.9h0M406.3 260.0h0M412.0 262.5h0M412.4 262.6h0M410.1 262.2h0M405.4 262.8h0M402.3 257.5h0M409.5 260.3h0M406.3 252.5h0M405.6 259.7h0M406.2 257.2h0M403.1 258.8h0M406.3 263.5h0M414.8 260.4h0M406.4 264.7h0M409.9 254.3h0M407.6 259.3h0M406.1 256.6h0M403.0 253.1h0M408.0 264.1h0M409.7 263.2h0M405.4 266.6h0M403.2 263.0h0M410.4 255.5h0M402.6 256.6h0M409.0 260.8h0M414.2 261.2h0M409.8 260.0h0M404.9 262.1h0M410.5 258.3h0M408.2 262.5h0M406.2 259.6h0M407.3 259.8h0M400.7 255.9h0M411.1 255.0h0M411.8 263.4h0M409.1 257.5h0M400.6 257.2h0M406.1 254.4h0M409.0 257.6h0M408.8 254.9h0M408.8 257.9h0M408.2 255.4h0M411.4 263.0h0M409.3 261.7h0M406.8 253.8h0M404.8 258.9h0M407.5 263.0h0M405.9 266.4h0M408.4 264.6h0M404.2 257.9h0M411.1 259.2h0M411.0 262.3h0M411.8 265.5h0M411.7 261.7h0M405.8 259.8h0M402.9 259.8h0M403.4 266.0h0M412.0 257.6h0M410.0 255.1h0M405.5 265.1h0M409.5 262.9h0M406.1 265.6h0M403.6 255.6h0M408.6 258.1h0M399.8 259.5h0M411.2 267.7h0M411.9 256.3h0M409.4 256.4h0M410.3 257.1h0M407.7 254.6h0M405.4 255.4h0M407.8 263.4h0M409.8 257.8h0M412.6 259.4h0M410.0 260.9h0M408.4 254.8h0M402.1 260.9h0M407.6 258.3h0M404.4 262.2h0M404.1 257.2h0M410.6 257.5h0M407.8 256.6h0M411.1 265.8h0M409.5 268.4h0M400.6 256.2h0M406.8 257.0h0M412.1 260.3h0M404.6 262.3h0" stroke="#e8000b" stroke-width="2.0" stroke-linecap="round" fill="none"/>
<ellipse cx="390.0" cy="266.8" rx="8.7" ry="3.3" transform="rotate(-52 390.0 266.8)" fill="#1ac938"/>
<path d="M385.8 270.8h0M391.5 265.4h0M393.2 261.5h0M391.7 266.2h0M388.9 263.8h0M384.9 270.7h0M383.2 269.3h0M389.8 265.2h0M395.0 262.4h0M393.6 260.3h0M385.6 271.9h0M389.4 261.6h0M389.8 268.8h0M395.4 262.0h0M394.3 264.9h0M394.9 265.0h0M389.6 266.1h0M393.4 265.8h0M384.4 271.3h0M383.9 267.4h0M398.0 258.5h0M391.6 260.0h0M387.5 268.7h0M395.6 257.0h0M392.3 266.2h0M390.7 264.5h0M388.1 263.9h0M395.6 260.7h0M388.2 273.7h0M393.9 264.7h0M387.1 272.0h0M395.3 262.6h0M383.5 269.2h0M394.6 257.4h0M390.1 265.0h0M383.6 276.7h0M394.5 262.8h0M388.7 266.7h0M393.2 264.2h0M393.2 262.2h0M393.6 261.5h0M392.0 261.5h0M390.1 265.7h0M396.3 257.7h0M385.9 267.9h0M389.4 264.2h0M384.1 269.1h0M394.9 260.1h0M396.5 265.7h0M382.6 273.5h0M397.3 262.1h0M394.9 261.4h0M386.0 272.7h0M392.0 261.5h0M389.1 268.1h0M388.2 270.2h0M393.7 267.5h0M390.9 266.7h0M388.0 268.2h0M383.9 274.8h0M387.4 269.9h0M386.5 272.5h0M387.4 265.7h0M384.0 276.0h0M394.7 267.5h0M389.3 269.1h0M394.0 258.4h0M395.7 265.7h0M395.8 257.9h0M384.3 268.0h0M387.8 270.7h0M394.5 265.5h0M386.5 271.9h0M390.5 269.3h0M394.7 267.4h0M385.7 266.8h0M393.4 259.9h0M388.4 270.8h0M383.1 269.8h0M390.3 264.4h0M397.1 258.5h0M385.2 266.8h0M390.5 265.9h0M389.0 271.2h0M387.3 272.2h0M390.4 266.2h0M384.6 266.3h0M386.7 272.3h0M388.3 272.6h0M392.6 268.2h0M386.0 267.8h0M392.3 264.9h0M391.7 259.3h0M393.5 266.3h0M383.7 272.2h0M389.4 268.0h0M384.5 270.1h0M390.5 269.1h0M386.2 263.9h0M391.4 272.4h0M393.8 266.2h0M386.8 270.7h0M395.0 258.2h0M391.2 268.1h0M394.1 263.3h0M393.0 265.8h0M385.3 275.1h0M389.6 269.8h0M394.1 263.1h0M389.2 269.2h0M385.9 276.2h0M389.8 264.2h0M390.4 270.6h0M392.0 266.2h0M388.0 272.0h0M395.5 265.1h0M392.4 262.6h0M392.1 263.5h0M394.2 261.4h0M388.9 264.3h0M391.4 264.9h0M390.8 260.7h0M392.3 262.5h0M398.4 260.7h0M392.6 264.8h0M392.2 266.9h0M392.7 260.4h0M389.1 270.3h0M395.6 263.6h0M390.5 268.3h0M388.4 274.9h0M385.0 265.5h0M391.1 270.5h0M393.7 265.5h0M394.9 267.4h0M383.8 275.1h0M391.5 264.0h0M393.8 261.5h0M390.2 263.4h0M382.5 272.9h0M390.6 268.0h0M384.4 271.1h0M383.5 276.1h0M388.1 269.6h0M391.7 264.3h0M384.0 272.1h0M395.0 264.3h0M386.1 263.9h0M396.9 263.3h0M388.6 267.3h0M395.3 266.5h0M385.9 270.5h0M388.4 271.2h0M393.5 262.0h0M385.7 271.0h0M387.2 267.2h0M391.7 267.4h0M385.3 266.5h0M395.6 259.6h0M390.8 266.9h0" stroke="#1ac938" stroke-width="2.0" stroke-linecap="round" fill="none"/>
<ellipse cx="446.0" cy="262.3" rx="6.6" ry="3.0" transform="rotate(20 446.0 262.3)" fill="#4c72b0"/>
<path d="M450.9 262.3h0M444.2 265.7h0M448.5 263.6h0M445.3 262.5h0M443.4 261.5h0M451.5 265.3h0M446.9 267.0h0M448.2 262.6h0M448.9 264.8h0M447.6 259.2h0M444.5 261.7h0M443.2 261.2h0M446.2 263.9h0M449.7 262.1h0M445.4 266.1h0M441.7 263.0h0M449.9 264.9h0M446.0 265.0h0M440.1 258.8h0M445.4 264.1h0M440.2 261.1h0M447.4 262.3h0M444.5 258.0h0M442.2 259.5h0M444.1 264.3h0M447.0 261.2h0M444.6 260.1h0M450.0 263.0h0M442.7 260.6h0M450.9 266.6h0M451.5 260.9h0M450.2 263.6h0M452.6 264.7h0M444.5 259.9h0M450.1 265.9h0M444.8 260.5h0M443.5 262.2h0M442.2 258.4h0M443.7 262.0h0M447.5 261.6h0M446.2 264.0h0M444.2 259.4h0M442.8 262.0h0M446.0 264.6h0M448.3 259.4h0M442.6 263.0h0M446.8 260.4h0M446.2 258.8h0M442.2 260.8h0M452.8 265.2h0M444.4 263.1h0M446.0 263.1h0M443.5 261.9h0M452.1 262.6h0M445.4 262.0h0M452.8 264.8h0M442.2 258.1h0M444.5 261.1h0M452.9 261.3h0M453.0 263.0h0M441.4 263.2h0M444.6 260.7h0M447.5 262.2h0M445.2 261.3h0M442.9 257.7h0M440.9 259.8h0M446.8 262.7h0M452.3 265.7h0M448.4 265.9h0M450.0 263.1h0M450.6 264.7h0M447.8 262.4h0M446.6 261.3h0M444.9 266.5h0M451.3 264.7h0M453.0 263.9h0M442.6 261.9h0M447.6 263.9h0M445.9 261.1h0M446.4 261.9h0M452.3 264.0h0M451.4 262.2h0M449.5 260.5h0M439.9 259.0h0M445.8 266.5h0M443.2 265.3h0M447.3 265.5h0M452.0 262.6h0M439.2 259.4h0M442.2 259.8h0M440.2 257.8h0M442.4 262.3h0M454.4 264.8h0M443.8 265.6h0M450.7 266.6h0M447.3 258.5h0M445.1 258.3h0M439.5 261.0h0M442.3 260.2h0M444.1 257.7h0M446.1 262.5h0M444.7 261.6h0M452.3 261.6h0M446.5 262.6h0M439.9 263.0h0M448.7 262.5h0M453.2 266.1h0M440.9 263.7h0M446.9 259.0h0M444.9 261.5h0M442.5 258.0h0M443.5 259.4h0M451.7 267.4h0M448.8 265.2h0M448.4 262.6h0M447.5 264.5h0M445.6 261.9h0M443.1 258.7h0M439.0 259.3h0M450.7 267.1h0" stroke="#4c72b0" stroke-width="2.0" stroke-linecap="round" fill="none"/>
<ellipse cx="416.5" cy="279.5" rx="8.1" ry="3.1" transform="rotate(42 416.5 279.5)" fill="#ff7c00"/>
<path d="M416.7 275.5h0M414.2 283.6h0M418.1 284.2h0M415.2 276.4h0M416.8 278.9h0M415.3 276.4h0M415.2 276.9h0M425.0 285.6h0M417.6 277.0h0M411.3 275.8h0M420.1 277.2h0M416.4 279.2h0M415.8 282.6h0M416.7 284.7h0M410.8 276.7h0M413.8 274.7h0M418.9 282.4h0M421.6 280.2h0M409.4 276.9h0M416.8 283.1h0M420.8 284.0h0M421.3 283.0h0M416.5 277.1h0M420.9 281.7h0M421.2 278.0h0M413.8 281.7h0M416.2 278.8h0M420.8 285.1h0M418.2 280.9h0M414.1 280.6h0M410.2 275.9h0M415.1 278.1h0M417.5 279.8h0M421.2 282.0h0M416.3 283.5h0M424.0 286.1h0M415.2 278.0h0M417.1 279.3h0M422.0 287.2h0M418.2 284.5h0M415.3 278.4h0M412.9 274.1h0M412.8 272.8h0M409.9 274.4h0M410.7 274.3h0M412.8 274.7h0M413.8 279.6h0M413.9 274.4h0M412.8 276.9h0M414.7 284.0h0M415.4 278.9h0M421.3 284.2h0M420.4 283.7h0M413.2 276.0h0M418.5 280.9h0M418.3 280.9h0M422.1 285.1h0M419.9 280.3h0M417.8 279.1h0M420.9 279.7h0M412.8 279.8h0M423.3 282.2h0M419.4 280.4h0M409.7 272.7h0M414.9 272.7h0M414.5 275.0h0M418.2 283.2h0M413.1 280.3h0M415.2 279.5h0M417.8 279.2h0M415.6 279.5h0M412.4 272.3h0M412.7 272.7h0M420.1 281.4h0M420.1 280.9h0M412.7 275.4h0M414.0 280.2h0M414.9 279.4h0M415.9 277.3h0M412.4 276.8h0M418.9 280.6h0M415.1 277.2h0M415.7 279.0h0M414.2 278.6h0M422.5 284.7h0M416.1 278.8h0M424.5 286.8h0M423.0 282.4h0M413.3 278.9h0M421.9 286.5h0M421.2 281.5h0M422.2 281.8h0M423.9 283.6h0M417.8 283.7h0M414.0 275.6h0M424.8 285.1h0M418.4 276.2h0M414.1 277.9h0M415.4 275.5h0M414.4 276.6h0M412.7 273.0h0M414.9 279.9h0M412.2 278.8h0M415.9 278.2h0M419.8 279.3h0M419.7 281.9h0M419.3 279.1h0M424.3 282.2h0M420.9 284.1h0M418.0 281.6h0M418.9 281.9h0M423.0 280.8h0M415.6 280.0h0M418.9 278.7h0M420.4 276.8h0M416.6 282.4h0M416.6 283.5h0M420.9 280.8h0M416.5 282.7h0M417.0 282.5h0M408.6 273.8h0M412.0 276.8h0M414.4 273.3h0M417.8 278.9h0M417.0 282.0h0M416.5 279.3h0M414.6 275.3h0M415.2 275.4h0M415.4 274.1h0M418.9 283.3h0M413.1 280.6h0M413.8 278.3h0M420.1 286.8h0M417.4 279.4h0M414.8 276.7h0M408.3 273.8h0M419.3 277.8h0M419.8 280.4h0M419.9 284.5h0M420.4 284.2h0M407.9 272.3h0M418.1 283.1h0M420.0 285.3h0M416.5 276.0h0M423.5 284.1h0M415.9 280.2h0M414.5 277.4h0M418.5 283.9h0M419.9 279.0h0M419.9 282.7h0" stroke="#ff7c00" stroke-width="2.0" stroke-linecap="round" fill="none"/>
<ellipse cx="398.7" cy="228.6" rx="2.4" ry="8.7" transform="rotate(2 398.7 228.6)" fill="#ee4fc6"/>
<path d="M396.9 224.0h0M396.7 230.3h0M398.5 231.3h0M399.3 237.8h0M398.6 232.0h0M395.6 235.0h0M397.6 229.2h0M396.6 223.4h0M398.4 228.1h0M400.9 227.7h0M397.5 227.5h0M397.6 217.1h0M400.6 238.0h0M398.7 218.2h0M398.1 237.5h0M398.2 221.6h0M399.5 229.1h0M397.9 226.7h0M399.1 237.8h0M400.5 233.4h0M400.1 233.1h0M399.4 220.5h0M399.2 239.5h0M401.0 235.9h0M397.6 219.7h0M401.3 225.0h0M396.9 230.3h0M397.4 223.4h0M397.9 233.9h0M401.4 222.7h0M397.2 225.9h0M397.4 235.4h0M399.2 218.4h0M399.4 238.6h0M401.9 230.0h0M398.8 223.3h0M398.3 231.3h0M399.4 225.8h0M398.6 224.6h0M399.1 223.2h0M399.7 230.0h0M397.3 232.2h0M400.3 221.6h0M399.6 227.4h0M398.5 232.7h0M398.1 232.9h0M397.0 240.5h0M400.9 222.1h0M398.2 230.0h0M398.0 230.1h0M398.0 227.9h0M401.3 227.9h0M398.4 228.0h0M397.2 234.9h0M399.1 233.3h0M399.2 224.0h0M398.6 222.7h0M401.1 234.8h0M396.1 224.4h0M398.2 238.6h0M401.1 221.0h0M400.1 235.7h0M397.9 229.6h0M399.4 229.2h0M396.4 224.5h0M401.8 226.5h0M396.3 235.6h0M397.4 227.1h0M397.4 227.9h0M400.2 234.8h0M398.4 235.1h0M399.9 235.4h0M398.5 230.0h0M399.3 218.9h0M399.9 223.7h0M401.0 226.8h0M398.2 229.1h0M400.7 235.0h0M396.9 234.6h0M398.6 221.1h0M398.7 228.1h0M399.9 224.9h0M395.7 229.1h0M401.0 222.2h0M398.2 222.4h0M399.6 224.0h0M399.6 228.0h0M399.5 225.9h0M398.9 228.0h0M397.8 235.0h0M398.1 229.5h0M397.0 228.7h0M398.8 231.1h0M398.5 230.6h0M400.5 223.6h0M398.8 224.3h0M397.7 240.2h0M399.5 220.6h0M397.4 226.6h0M398.1 229.0h0M396.5 231.3h0M396.4 235.4h0M401.3 226.1h0M397.3 219.2h0M402.0 224.8h0M397.9 228.1h0M396.5 229.1h0M398.5 229.0h0M397.9 237.2h0M398.3 229.8h0M398.4 224.0h0M398.8 228.6h0M400.6 228.0h0M396.2 237.1h0M396.1 232.4h0M398.2 234.1h0M399.6 220.8h0M399.1 221.9h0M396.5 232.4h0M398.8 227.6h0" stroke="#ee4fc6" stroke-width="2.0" stroke-linecap="round" fill="none"/>
<path d="M395.9 247.8h0M404.0 250.3h0M402.4 250.9h0M400.1 247.7h0M404.3 243.3h0M399.5 247.5h0M397.4 248.3h0" stroke="#e8000b" stroke-width="1.8" stroke-linecap="round" fill="none"/>
<path d="M397.6 253.8h0M397.9 246.6h0M394.7 242.5h0M399.0 254.6h0M401.8 246.2h0M398.9 245.3h0M402.5 249.4h0" stroke="#1ac938" stroke-width="1.8" stroke-linecap="round" fill="none"/>
<path d="M401.2 254.7h0M398.5 243.2h0M394.3 242.4h0M396.0 245.5h0M400.5 250.0h0M397.6 247.3h0M399.7 254.4h0" stroke="#ff7c00" stroke-width="1.8" stroke-linecap="round" fill="none"/>
<path d="M403.5 239.5h0M405.3 254.2h0M397.3 251.6h0M399.8 243.7h0M401.3 245.7h0M398.2 249.6h0M398.4 253.7h0" stroke="#9f4800" stroke-width="1.8" stroke-linecap="round" fill="none"/>
<path d="M396.7 250.6h0M400.4 239.7h0M394.3 244.0h0M406.5 239.1h0M393.4 244.4h0M400.0 244.5h0M398.3 240.7h0" stroke="#ee4fc6" stroke-width="1.8" stroke-linecap="round" fill="none"/>
<path d="M403.2 252.9h0M408.2 245.0h0M401.9 250.2h0M395.7 248.6h0M399.9 244.4h0M399.5 249.5h0M409.6 244.8h0" stroke="#a3a3a3" stroke-width="1.8" stroke-linecap="round" fill="none"/>
<path d="M400.2 248.3h0M394.3 251.8h0M396.6 246.0h0M397.3 251.0h0M396.9 252.8h0M392.6 244.6h0M406.8 239.4h0" stroke="#55a868" stroke-width="1.8" stroke-linecap="round" fill="none"/>
<path d="M400.3 241.2h0M400.7 243.8h0M400.2 246.8h0M396.7 250.3h0M405.6 243.5h0M398.8 242.5h0M400.5 245.7h0" stroke="#8b2be2" stroke-width="1.8" stroke-linecap="round" fill="none"/>
<path d="M398.5 244.6h0M395.7 250.3h0M403.6 247.5h0M397.9 245.6h0M394.0 248.6h0M401.2 251.9h0M398.6 245.7h0" stroke="#ffc400" stroke-width="1.8" stroke-linecap="round" fill="none"/>
<path d="M397.5 238.0h0M395.9 240.1h0M401.1 244.9h0M397.4 243.9h0M403.2 250.8h0M401.3 250.5h0M395.7 245.0h0" stroke="#00d7ff" stroke-width="1.8" stroke-linecap="round" fill="none"/>
<path d="M402.8 247.5h0M394.5 246.5h0M399.8 245.8h0M400.0 243.2h0M403.8 244.0h0M401.1 252.7h0M404.7 246.4h0" stroke="#4c72b0" stroke-width="1.8" stroke-linecap="round" fill="none"/>
<path d="M432.5 235.8h0M441.5 256.3h0M446.0 246.8h0" stroke="#ffc400" stroke-width="1.8" stroke-linecap="round" fill="none"/>
<path d="M439.0 243.3h0M436.5 257.0h0" stroke="#ee4fc6" stroke-width="1.8" stroke-linecap="round" fill="none"/>
<path d="M390.5 236.5h0M404.5 229.0h0" stroke="#9f4800" stroke-width="1.8" stroke-linecap="round" fill="none"/>
<path d="M352.5 252.6h0M423.3 256.5h0M429.0 251.0h0" stroke="#9f4800" stroke-width="1.8" stroke-linecap="round" fill="none"/>
<path d="M389.5 209.8h0M386.0 221.6h0" stroke="#ffc400" stroke-width="1.8" stroke-linecap="round" fill="none"/>
<path d="M381.2 217.6h0M437.0 258.0h0M392.5 250.0h0" stroke="#8b2be2" stroke-width="1.8" stroke-linecap="round" fill="none"/>
<path d="M401.0 265.5h0M404.5 229.6h0" stroke="#e8000b" stroke-width="1.8" stroke-linecap="round" fill="none"/>
<path d="M417.5 272.3h0M407.0 231.5h0" stroke="#55a868" stroke-width="1.8" stroke-linecap="round" fill="none"/>
<path d="M409.5 189.5h0M410.0 197.5h0" stroke="#ffc400" stroke-width="1.6" stroke-linecap="round" fill="none"/>
<text x="332.0" y="276.0" font-size="8.8" textLength="33.6" lengthAdjust="spacingAndGlyphs">Ambient</text>
<text x="332.0" y="284.6" font-size="8.8" textLength="52.5" lengthAdjust="spacingAndGlyphs">fraction = 0.4</text>
<text x="521.0" y="180.8" font-size="8.8" textLength="100.3" lengthAdjust="spacingAndGlyphs">4 Error of type prediction</text>
<path d="M519.6 185.6V277.2H636.2" stroke="#999" stroke-width="1" fill="none"/>
<path d="M526.4 189.5 L560.9 189.5 L595.6 191.8 L630.2 197.1" stroke="#0a3cff" stroke-width="0.95" fill="none"/>
<circle cx="526.4" cy="189.5" r="3" fill="#0a3cff"/>
<circle cx="560.9" cy="189.5" r="3" fill="#0a3cff"/>
<circle cx="595.6" cy="191.8" r="3" fill="#0a3cff"/>
<circle cx="630.2" cy="197.1" r="3" fill="#0a3cff"/>
<path d="M526.4 245.3 L560.9 252.0 L595.6 264.1 L630.2 273.8" stroke="#8b2be2" stroke-width="0.95" fill="none"/>
<circle cx="526.4" cy="245.3" r="3" fill="#8b2be2"/>
<circle cx="560.9" cy="252.0" r="3" fill="#8b2be2"/>
<circle cx="595.6" cy="264.1" r="3" fill="#8b2be2"/>
<circle cx="630.2" cy="273.8" r="3" fill="#8b2be2"/>
<path d="M526.4 201.6 L560.9 201.5 L595.6 204.1 L630.2 203.3" stroke="#e8000b" stroke-width="0.95" fill="none"/>
<circle cx="526.4" cy="201.6" r="3" fill="#e8000b"/>
<circle cx="560.9" cy="201.5" r="3" fill="#e8000b"/>
<circle cx="595.6" cy="204.1" r="3" fill="#e8000b"/>
<circle cx="630.2" cy="203.3" r="3" fill="#e8000b"/>
<path d="M526.4 200.7 L560.9 203.5 L595.6 204.5 L630.2 240.4" stroke="#ff7c00" stroke-width="1.35" fill="none" stroke-dasharray="4.8 2.2"/>
<circle cx="526.4" cy="200.7" r="3" fill="#ff7c00"/>
<circle cx="560.9" cy="203.5" r="3" fill="#ff7c00"/>
<circle cx="595.6" cy="204.5" r="3" fill="#ff7c00"/>
<circle cx="630.2" cy="240.4" r="3" fill="#ff7c00"/>
<path d="M526.4 208.6 L560.9 207.5 L595.6 209.4 L630.2 208.8" stroke="#1ac938" stroke-width="1.35" fill="none" stroke-dasharray="4.8 2.2"/>
<circle cx="526.4" cy="208.6" r="3" fill="#1ac938"/>
<circle cx="560.9" cy="207.5" r="3" fill="#1ac938"/>
<circle cx="595.6" cy="209.4" r="3" fill="#1ac938"/>
<circle cx="630.2" cy="208.8" r="3" fill="#1ac938"/>
<path d="M526.4 232.7 L560.9 234.0 L595.6 236.8 L630.2 267.4" stroke="#a3a3a3" stroke-width="0.95" fill="none"/>
<circle cx="526.4" cy="232.7" r="3" fill="#a3a3a3"/>
<circle cx="560.9" cy="234.0" r="3" fill="#a3a3a3"/>
<circle cx="595.6" cy="236.8" r="3" fill="#a3a3a3"/>
<circle cx="630.2" cy="267.4" r="3" fill="#a3a3a3"/>
<path d="M516.4 188.8h3.2M516.4 218.4h3.2M516.4 248.3h3.2M560.9 277.2v3.2M630.2 277.2v3.2" stroke="#999" stroke-width="0.7"/>
<text x="513.4" y="191.5" font-size="8.2" text-anchor="end">1.00</text>
<text x="513.4" y="221.1" font-size="8.2" text-anchor="end">0.95</text>
<text x="513.4" y="251.0" font-size="8.2" text-anchor="end">0.90</text>
<text x="560.8" y="290.0" font-size="8.2" text-anchor="middle">0.2</text>
<text x="629.8" y="290.0" font-size="8.2" text-anchor="middle">0.4</text>
<text x="489.8" y="231.6" font-size="8.8" text-anchor="middle" textLength="47.4" lengthAdjust="spacingAndGlyphs" transform="rotate(-90 489.8 231.6)">Max correct</text>
<text x="578.0" y="303.5" font-size="8.8" text-anchor="middle" textLength="67.3" lengthAdjust="spacingAndGlyphs">Ambient fraction</text>
<path d="M642.6 192.5h12.2" stroke="#0a3cff" stroke-width="1.1"/>
<circle cx="648.8000000000001" cy="192.5" r="1.9" fill="#0a3cff"/>
<text x="659.1" y="195.0" font-size="7.25">TACCO</text>
<path d="M642.6 200.6h12.2" stroke="#8b2be2" stroke-width="1.1"/>
<circle cx="648.8000000000001" cy="200.6" r="1.9" fill="#8b2be2"/>
<text x="659.1" y="203.1" font-size="7.25">NMFreg</text>
<path d="M642.6 208.7h3.2M651.6 208.7h3.2" stroke="#1ac938" stroke-width="1.1"/>
<circle cx="648.8000000000001" cy="208.7" r="1.9" fill="#1ac938"/>
<text x="659.1" y="211.2" font-size="7.25">SingleR</text>
<path d="M642.6 216.7h12.2" stroke="#e8000b" stroke-width="1.1"/>
<circle cx="648.8000000000001" cy="216.7" r="1.9" fill="#e8000b"/>
<text x="659.1" y="219.2" font-size="7.25">RCTD</text>
<path d="M642.6 224.7h12.2" stroke="#a3a3a3" stroke-width="1.1"/>
<circle cx="648.8000000000001" cy="224.7" r="1.9" fill="#a3a3a3"/>
<text x="659.1" y="227.2" font-size="7.25">WOT</text>
<path d="M642.6 232.8h3.2M651.6 232.8h3.2" stroke="#ff7c00" stroke-width="1.1"/>
<circle cx="648.8000000000001" cy="232.8" r="1.9" fill="#ff7c00"/>
<text x="659.1" y="235.3" font-size="7.25">SVM</text>
<text x="-1.2" y="323.8" font-size="12.0" font-weight="bold" fill="#000" stroke="#000" stroke-width="0.4" transform="scale(1.22 1)">c</text>
<text x="9.9" y="327.6" font-size="8.8" textLength="60.6" lengthAdjust="spacingAndGlyphs">Differentiation</text>
<text x="8.8" y="342.2" font-size="8.8" textLength="131.3" lengthAdjust="spacingAndGlyphs">1 Differentiated cells from clones</text>
<text x="160.1" y="332.8" font-size="8.8" textLength="115.3" lengthAdjust="spacingAndGlyphs">2 Early cell fate according to</text>
<text x="160.1" y="342.5" font-size="8.8" textLength="81.4" lengthAdjust="spacingAndGlyphs">clone differentiation</text>
<text x="309.5" y="342.5" font-size="8.8" textLength="98.7" lengthAdjust="spacingAndGlyphs">3 TACCO fate prediction</text>
<path d="M11.55 346.2V450.3H150.2" stroke="#333" stroke-width="1.05" fill="none" stroke-linejoin="round"/>
<path d="M86.8 350.6h0M81.4 354.5h0M79.5 353.8h0M83.2 350.8h0M82.0 356.9h0M84.9 349.9h0M79.5 357.0h0M82.4 351.5h0M81.2 355.1h0M79.9 356.7h0M82.5 353.4h0M80.2 357.3h0M87.2 349.7h0M81.1 354.1h0M81.9 353.9h0M79.4 358.9h0M84.6 352.6h0M84.8 352.6h0M84.1 351.0h0M81.7 353.0h0M86.5 347.4h0M84.5 350.7h0M80.6 356.9h0M79.7 357.8h0M86.3 348.1h0M85.4 351.3h0M86.1 348.7h0M83.5 352.6h0M85.2 348.2h0M81.9 353.7h0M85.3 350.5h0M85.6 349.1h0M85.9 349.9h0M84.7 350.1h0M81.5 353.5h0M84.2 349.4h0M83.4 351.8h0M85.8 350.8h0M80.8 355.6h0M81.4 357.1h0M66.1 361.2h0M66.2 368.2h0M77.4 367.0h0M78.5 358.1h0M63.0 367.0h0M76.8 359.7h0M74.8 359.7h0M67.2 361.9h0M79.9 368.2h0M79.3 359.3h0M75.3 366.0h0M80.7 367.8h0M77.9 360.0h0M72.3 362.6h0M71.1 359.0h0M63.2 359.4h0M69.0 367.9h0M72.9 362.7h0M67.1 364.7h0M78.9 368.1h0M68.8 367.5h0M64.9 361.8h0M70.7 358.7h0M75.9 363.3h0M79.1 359.6h0M74.0 362.6h0M74.8 367.7h0M73.2 366.6h0M73.9 360.6h0M67.8 359.8h0M80.4 363.8h0M73.1 359.5h0M66.5 360.7h0M78.4 359.1h0M68.5 358.1h0M75.2 361.0h0M68.4 360.3h0M79.6 362.5h0M74.0 359.4h0M80.8 365.4h0M65.1 362.4h0M66.5 357.6h0M71.0 367.2h0M65.8 359.9h0M76.4 359.6h0M77.9 393.8h0M71.2 372.0h0M73.2 377.3h0M73.5 370.7h0M74.4 383.5h0M79.3 377.9h0M67.1 372.4h0M73.7 384.2h0M70.3 387.5h0M63.9 376.7h0M71.9 379.9h0M72.3 371.8h0M68.3 369.5h0M79.1 387.9h0M69.7 371.2h0M70.4 384.4h0M75.5 384.1h0M70.7 372.1h0M78.8 391.5h0M67.7 384.1h0M69.0 378.6h0M75.5 381.2h0M68.7 378.8h0M69.8 379.4h0M72.5 380.6h0M76.5 382.1h0M77.3 386.8h0M70.5 382.1h0M73.2 382.3h0M74.3 379.6h0M73.8 381.4h0M73.2 388.6h0M74.6 373.5h0M70.9 373.3h0M69.1 371.5h0M73.3 378.7h0M68.1 376.9h0M73.1 378.9h0M71.0 381.7h0M69.9 375.1h0M80.1 385.8h0M79.7 396.3h0M69.8 382.3h0M68.5 379.0h0M74.1 374.2h0M75.6 380.7h0M77.5 384.5h0M68.9 376.2h0M78.8 390.7h0M74.2 372.5h0M70.3 378.7h0M71.3 378.3h0M72.1 383.5h0M76.4 397.1h0M76.1 379.4h0M71.0 373.8h0M77.1 373.3h0M79.5 390.2h0M77.3 382.8h0M78.1 387.2h0M67.7 373.8h0M80.5 388.3h0M69.0 379.9h0M75.3 382.9h0M78.2 386.3h0M70.6 380.1h0M70.3 375.8h0M70.1 371.1h0M69.6 384.1h0M70.6 385.1h0M78.5 377.3h0M70.6 377.0h0M76.3 380.1h0M79.8 390.3h0M75.7 382.9h0M69.2 376.5h0M72.0 377.5h0M67.9 387.7h0M78.1 395.3h0M78.4 393.6h0M69.9 373.2h0M75.5 370.7h0M70.4 378.6h0M70.7 369.7h0M74.7 381.9h0M69.8 365.5h0M76.0 372.6h0M77.2 381.6h0M79.8 381.4h0M70.1 385.3h0M69.9 377.9h0M75.5 391.5h0M71.5 386.2h0M69.7 384.2h0M72.0 393.3h0M68.2 376.8h0M73.7 385.8h0M72.9 382.4h0M69.6 384.0h0M69.7 372.9h0M70.4 376.2h0M71.7 376.3h0M72.8 378.0h0M69.2 384.3h0M66.3 370.0h0M75.0 395.2h0M71.2 374.9h0M72.9 383.5h0M72.5 378.7h0M68.8 379.3h0M70.1 377.3h0M73.2 380.5h0M68.6 383.5h0M78.8 383.1h0M68.7 386.4h0M74.3 383.9h0M76.4 394.2h0M69.3 384.8h0M76.1 383.5h0M69.9 373.6h0M65.9 370.4h0M78.4 380.1h0M68.7 380.2h0M69.4 388.2h0M70.4 372.2h0M75.2 392.4h0M70.9 371.6h0M73.6 393.7h0M75.8 382.2h0M70.9 371.2h0M77.8 378.3h0M68.1 379.4h0M67.2 382.0h0M72.5 371.9h0M74.2 382.9h0M76.5 384.2h0M70.9 389.7h0M70.6 382.2h0M73.6 381.9h0M75.9 379.0h0M73.3 366.0h0M72.0 384.5h0M73.6 381.6h0M69.6 374.6h0M65.7 368.0h0M68.5 364.9h0M70.0 374.1h0M76.7 388.6h0M67.6 375.2h0M77.1 374.2h0M73.8 378.3h0M75.4 377.5h0M71.5 391.7h0M74.6 386.3h0M65.1 371.2h0M68.4 378.9h0M75.3 383.1h0M73.6 393.7h0M71.1 373.6h0M69.5 372.7h0M73.2 377.6h0M71.5 381.2h0M73.4 378.0h0M73.6 374.1h0M75.7 381.1h0M77.3 381.6h0M73.3 384.8h0M79.5 382.2h0M79.5 376.8h0M72.3 373.6h0M64.3 380.4h0M68.9 388.3h0M66.0 368.7h0M77.2 382.3h0M75.8 383.3h0M67.6 383.0h0M75.3 385.1h0M69.9 374.8h0M76.4 395.0h0M67.6 385.8h0M73.4 392.1h0M68.3 368.5h0M74.2 378.1h0M73.8 377.4h0M65.6 375.3h0M69.1 382.4h0M71.6 382.0h0M74.9 371.2h0M70.6 370.9h0M70.5 383.9h0M75.3 376.8h0M80.2 387.8h0M66.7 370.7h0M72.0 381.0h0M71.1 384.8h0M72.6 381.1h0M79.3 394.1h0M71.7 378.9h0M70.9 385.6h0M76.2 389.0h0M68.5 370.4h0M74.3 375.4h0M71.3 377.8h0M68.0 385.4h0M67.2 379.6h0M75.1 382.5h0M70.8 392.4h0M76.2 380.6h0M70.5 381.8h0M80.1 379.9h0M77.5 395.3h0M68.1 378.3h0M78.8 396.3h0M75.0 377.5h0M68.6 369.8h0M77.0 383.3h0M72.1 381.9h0M76.3 383.0h0M69.5 378.6h0M68.2 370.9h0M80.2 377.0h0M77.7 387.1h0M71.0 380.6h0M76.0 384.9h0M66.8 377.8h0M72.9 381.2h0M76.5 382.9h0M69.8 372.1h0M72.7 391.8h0M81.5 394.7h0M74.6 372.1h0M68.3 382.1h0M68.6 369.8h0M77.9 391.4h0M81.6 395.3h0M68.4 369.8h0M69.9 371.2h0M76.2 381.6h0M73.8 390.8h0M72.9 380.9h0M72.6 377.9h0M71.5 378.3h0M75.4 393.8h0M78.2 381.4h0M76.0 382.5h0M70.2 369.6h0M78.1 392.9h0M71.5 368.3h0M67.3 382.1h0M74.4 382.7h0M72.2 367.8h0M72.9 373.6h0M67.7 376.1h0M71.4 387.7h0M71.2 382.9h0M72.0 389.2h0M74.2 373.4h0M77.6 378.7h0M74.7 390.8h0M74.4 381.1h0M78.4 376.1h0M67.8 389.1h0M75.0 384.0h0M65.0 364.5h0M71.2 377.6h0M69.4 375.3h0M74.2 381.6h0M66.0 371.8h0M70.5 375.1h0M70.9 386.8h0M71.0 375.2h0M70.7 370.6h0M78.5 380.4h0M75.0 380.8h0M81.0 386.9h0M68.6 376.5h0M71.7 388.0h0M67.6 373.7h0M74.9 385.7h0M81.6 382.3h0M71.5 370.3h0M66.7 370.4h0M63.6 374.1h0M72.2 374.8h0M69.0 380.9h0M72.6 382.7h0M73.6 385.4h0M69.5 378.6h0M76.7 389.3h0M73.7 386.4h0M75.6 384.8h0M71.4 376.1h0M75.5 394.8h0M78.8 390.1h0M74.8 381.2h0M70.8 374.1h0M66.4 379.9h0M71.1 383.3h0M64.9 373.4h0M73.2 381.2h0M71.8 373.1h0M72.0 381.0h0M71.9 387.4h0M77.5 385.1h0M79.4 391.2h0M72.8 379.4h0M68.3 386.1h0M70.9 381.2h0M76.7 372.7h0M68.4 375.8h0M72.9 379.4h0M78.6 388.0h0M74.9 381.9h0M71.8 380.2h0M73.7 368.9h0M67.0 372.0h0M72.5 378.7h0M75.9 392.3h0M73.0 368.5h0M65.6 381.7h0M69.3 369.9h0M73.9 379.0h0M72.9 379.4h0M81.4 380.9h0M70.2 390.7h0M80.4 390.2h0M69.9 382.6h0M74.2 389.1h0M75.9 380.8h0M74.6 377.6h0M68.3 386.3h0M76.1 383.2h0M76.1 377.6h0M71.3 384.5h0M77.3 373.8h0M71.5 380.9h0M70.0 378.7h0M74.8 385.3h0M75.9 386.2h0M71.2 387.4h0M67.9 364.1h0M67.9 374.2h0M75.4 378.4h0M75.5 395.3h0M73.2 379.2h0M67.4 369.8h0M73.1 387.7h0M72.5 367.3h0M71.0 373.8h0M71.0 376.8h0M75.8 385.3h0M69.6 381.8h0M74.6 388.3h0M78.9 384.1h0M82.3 390.8h0M79.3 396.7h0M65.9 373.5h0M70.0 383.0h0M77.6 374.1h0M73.2 372.8h0M75.4 388.3h0M69.3 380.2h0M74.7 376.4h0M68.3 369.2h0M75.7 376.0h0M79.5 392.1h0M74.3 382.8h0M63.4 375.5h0M81.7 390.1h0M71.8 371.0h0M67.6 370.8h0M74.4 382.9h0M72.5 376.4h0M78.5 387.8h0M70.7 384.4h0M65.3 369.8h0M77.5 390.7h0M79.4 385.9h0M69.7 378.5h0M73.3 380.7h0M75.5 387.1h0M69.1 380.1h0M68.3 371.3h0M72.3 380.2h0M79.5 389.0h0M70.6 383.4h0M71.4 379.1h0M67.7 383.5h0M69.7 379.0h0M70.9 385.7h0M67.2 382.2h0M70.7 368.4h0M69.5 387.4h0M73.7 375.4h0M77.2 379.8h0M77.7 385.2h0M76.8 387.8h0M78.7 390.9h0M77.4 385.5h0M68.6 372.1h0M73.6 391.3h0M72.1 381.6h0M67.9 368.4h0M74.5 382.6h0M79.1 390.3h0M70.7 372.9h0M69.2 384.3h0M73.1 371.2h0M74.2 378.7h0M78.6 386.7h0M64.2 373.8h0M76.9 388.3h0M73.3 378.2h0M75.5 381.8h0M76.1 380.2h0M67.3 384.2h0M76.8 375.1h0M66.3 383.3h0M78.5 390.3h0M76.3 396.8h0M75.9 379.2h0M67.4 370.6h0M66.6 375.9h0M73.1 391.0h0M78.6 384.3h0M63.5 375.4h0M70.7 378.5h0M67.0 386.6h0M73.9 389.1h0M69.8 373.3h0M75.4 373.2h0M67.4 378.2h0M72.6 372.7h0M79.4 390.5h0M76.4 382.8h0M77.1 393.7h0M72.3 377.8h0M70.3 369.7h0M73.2 383.4h0M68.6 382.1h0M77.0 380.8h0M70.7 374.6h0M66.2 364.6h0M73.2 381.1h0M68.8 381.5h0M71.2 384.8h0M68.5 378.5h0M74.6 382.7h0M64.6 369.1h0M69.1 371.8h0M73.9 382.5h0M76.5 380.1h0M75.3 384.9h0M68.1 375.1h0M75.1 379.4h0M78.2 396.0h0M66.3 369.4h0M72.5 375.1h0M71.1 385.1h0M77.0 389.4h0M67.6 376.1h0M73.1 378.9h0M74.4 384.0h0M72.4 383.6h0M69.4 377.6h0M80.4 380.6h0M70.7 373.4h0M69.9 366.3h0M65.9 378.3h0M71.9 374.8h0M70.6 379.6h0M75.8 380.5h0M74.8 387.3h0M74.7 386.5h0M74.9 380.0h0M74.0 384.3h0M78.8 388.6h0M77.6 391.2h0M76.1 389.5h0M75.3 382.7h0M71.0 379.5h0M75.4 386.9h0M71.9 385.6h0M71.3 380.3h0M66.4 367.1h0M68.1 368.3h0M80.9 386.0h0M76.2 378.5h0M66.8 369.6h0M69.4 383.7h0M69.2 387.5h0M78.3 382.7h0M77.9 387.9h0M73.8 373.3h0M72.5 387.6h0M75.5 376.3h0M74.1 385.7h0M68.9 378.6h0M71.8 387.8h0M70.6 383.7h0M73.8 369.5h0M73.0 381.3h0M74.7 376.2h0M74.6 369.3h0M74.2 371.6h0M71.5 368.1h0M70.7 371.6h0M70.7 372.3h0M72.7 374.6h0M72.2 372.3h0M76.6 391.2h0M74.2 378.2h0M72.4 386.4h0M76.6 380.0h0M70.2 364.7h0M75.1 381.4h0M69.8 373.4h0M72.9 379.9h0M69.4 374.0h0M71.1 374.0h0M75.2 365.1h0M63.8 363.8h0M71.9 377.9h0M65.4 368.6h0M81.8 375.1h0M79.1 380.6h0M76.8 384.9h0M77.1 382.7h0M69.5 366.4h0M81.1 372.8h0M63.4 373.4h0M68.6 378.8h0M75.1 366.8h0M66.6 381.3h0M75.4 376.9h0M71.7 372.4h0M71.3 382.0h0M69.1 383.7h0M74.2 387.1h0M72.0 396.7h0M69.3 365.6h0M70.0 378.7h0M66.2 361.6h0M78.7 367.5h0M78.8 380.7h0M73.9 361.0h0M63.7 375.7h0M72.4 366.8h0M62.0 375.1h0M75.7 387.9h0M62.3 380.4h0M72.4 378.4h0M77.8 396.0h0M68.3 373.7h0M68.4 377.7h0M76.7 376.1h0M77.1 390.5h0M78.3 382.2h0M77.7 390.0h0M82.7 378.7h0M70.6 377.5h0M78.2 393.5h0M70.0 367.7h0M70.9 387.8h0M66.8 371.4h0M78.8 377.6h0M68.4 367.1h0M74.6 378.8h0M80.0 374.6h0M74.9 388.6h0M81.0 387.3h0M73.0 378.9h0M74.1 384.7h0M78.4 374.1h0M65.5 376.2h0M81.7 388.6h0M77.9 371.4h0M69.3 380.0h0M63.7 360.0h0M70.8 372.2h0M82.0 381.3h0M60.2 376.0h0M71.5 369.4h0M62.2 366.5h0M69.2 377.5h0M72.3 380.3h0M79.7 374.8h0M70.3 378.8h0M76.7 373.6h0M76.0 377.7h0M72.9 379.8h0M75.7 381.3h0M76.8 386.2h0M65.3 361.8h0M64.5 383.1h0M65.9 378.3h0M77.1 380.4h0M69.6 379.6h0M67.6 374.1h0M71.4 377.1h0M73.8 362.9h0M74.5 371.5h0M69.7 371.2h0M62.2 362.2h0M64.2 389.7h0M77.8 390.3h0M65.4 377.8h0M80.1 393.4h0M66.4 376.0h0M63.7 369.8h0M64.1 365.3h0M68.9 374.4h0M80.2 391.9h0M73.0 377.4h0M73.0 385.8h0M80.5 383.2h0M77.8 372.4h0M82.7 386.8h0M63.7 378.8h0M76.4 388.4h0M75.1 373.7h0M81.1 379.8h0M81.0 384.2h0M75.1 386.8h0M80.9 376.0h0M65.6 370.8h0M69.4 392.7h0M74.1 389.1h0M81.6 382.4h0M66.3 375.1h0M63.8 383.3h0M67.2 365.4h0M67.6 372.1h0M62.1 381.8h0M74.4 375.1h0M65.8 367.5h0M71.4 383.2h0M80.6 395.0h0M74.1 363.1h0M78.0 373.4h0M79.3 407.5h0M76.8 402.8h0M80.4 404.0h0M77.2 401.1h0M77.5 396.9h0M73.9 392.4h0M78.8 403.1h0M83.0 411.6h0M79.7 404.6h0M77.7 401.2h0M78.0 411.1h0M76.3 395.8h0M78.4 405.0h0M82.6 411.7h0M76.2 399.8h0M75.1 395.7h0M75.9 392.2h0M76.5 394.3h0M77.5 401.3h0M73.6 393.6h0M78.8 407.3h0M78.7 410.1h0M79.6 409.9h0M81.0 407.0h0M80.8 411.7h0M77.8 403.1h0M74.4 394.8h0M77.8 399.0h0M78.0 407.0h0M73.3 396.7h0M79.5 403.2h0M75.7 395.3h0M79.7 406.6h0M77.1 403.1h0M78.8 404.1h0M79.1 401.3h0M80.7 410.1h0M78.4 407.6h0M75.8 399.7h0M80.3 410.5h0M79.8 408.5h0M78.1 394.5h0M77.9 404.0h0M78.9 408.3h0M82.6 411.7h0M80.8 408.8h0M80.6 411.4h0M80.0 409.8h0M77.1 392.6h0M77.9 397.7h0M77.7 400.9h0M80.4 406.6h0M79.3 396.1h0M76.8 406.4h0M76.2 397.3h0M79.4 401.9h0M80.5 403.7h0M79.1 405.8h0M79.1 409.1h0M79.6 402.5h0M75.6 394.6h0M77.6 407.0h0M75.5 399.9h0M79.6 407.7h0M77.2 403.5h0M80.6 410.1h0M81.7 413.1h0M79.9 394.8h0M79.1 398.5h0M83.8 406.3h0M78.8 407.4h0M77.0 393.5h0M76.1 395.2h0M76.3 399.1h0M82.7 405.1h0M74.5 393.8h0M82.1 411.5h0M79.7 397.6h0M77.6 392.8h0M78.0 393.8h0M78.1 390.8h0M79.8 413.9h0M81.4 407.0h0M74.4 393.8h0M79.3 398.9h0M79.1 406.8h0M78.1 404.5h0M80.4 408.8h0M75.0 396.7h0M76.1 396.9h0M75.2 391.8h0M79.8 406.9h0M80.4 406.1h0M74.7 396.2h0M78.4 398.7h0M78.4 407.6h0M76.4 403.9h0M76.5 394.6h0M80.3 411.0h0M74.8 393.2h0M79.4 407.6h0M75.5 393.9h0M78.0 403.2h0M78.3 404.6h0M77.9 405.8h0M77.8 405.4h0M79.6 411.9h0M79.1 403.4h0M77.0 401.3h0M77.7 392.3h0M77.9 392.6h0M78.9 413.2h0M78.2 407.6h0M80.4 403.2h0M80.5 397.8h0M80.5 412.0h0M75.5 398.4h0M82.2 412.0h0M79.4 395.0h0M79.5 408.0h0M77.6 395.1h0M80.3 399.2h0M80.8 406.1h0M72.4 397.9h0M76.3 399.8h0M78.9 407.4h0M78.5 402.4h0M77.9 396.7h0M74.6 395.4h0M79.0 400.4h0M78.0 404.6h0M75.0 395.5h0M80.4 395.8h0M79.8 400.9h0M80.0 398.1h0M77.5 394.3h0M79.6 403.9h0M77.5 405.8h0M79.4 406.1h0M80.6 407.6h0M77.7 399.0h0M79.1 412.6h0M76.6 393.4h0M78.4 396.0h0M77.0 397.1h0M76.3 395.7h0M79.4 408.5h0M73.8 396.2h0M76.5 398.6h0M80.9 411.8h0M80.2 412.9h0M77.9 398.4h0M76.2 392.6h0M79.7 397.1h0M80.7 405.8h0M78.2 402.8h0M76.6 400.3h0M78.4 405.4h0M78.8 397.2h0M78.3 398.8h0M80.9 405.5h0M79.8 394.7h0M76.1 393.8h0M77.3 395.4h0M76.0 397.8h0M77.2 395.4h0M81.2 406.5h0M75.1 394.0h0M79.3 406.5h0M78.1 407.6h0M78.8 396.8h0M79.6 401.0h0M78.3 413.6h0M76.6 401.9h0M79.3 406.0h0M78.1 403.3h0M77.6 394.8h0M78.8 406.5h0M78.7 397.1h0M78.9 393.4h0M81.5 413.0h0M81.2 411.2h0M76.5 393.8h0M78.1 400.5h0M77.9 404.6h0M73.9 394.9h0M82.0 398.3h0M80.6 401.6h0M79.3 409.9h0M79.8 409.6h0M43.2 379.0h0M37.4 383.2h0M57.8 380.7h0M43.0 381.4h0M38.9 379.0h0M61.1 382.8h0M52.7 380.1h0M49.3 382.6h0M39.9 384.3h0M51.0 381.6h0M56.2 383.0h0M35.8 380.5h0M48.5 381.1h0M50.4 379.7h0M42.0 385.5h0M45.4 384.0h0M47.3 379.8h0M55.1 382.6h0M41.4 383.3h0M55.9 382.4h0M59.0 379.0h0M60.5 385.1h0M44.3 381.1h0M38.9 383.6h0M52.6 380.0h0M37.1 385.1h0M43.4 379.3h0M53.1 377.0h0M45.5 380.3h0M58.0 381.8h0M53.9 377.7h0M39.5 382.9h0M34.7 381.2h0M42.2 380.5h0M43.3 378.9h0M48.0 381.2h0M44.5 381.7h0M56.0 382.0h0M33.5 384.8h0M41.5 379.1h0M49.6 380.3h0M43.4 382.1h0M63.2 379.2h0M53.6 381.8h0M47.3 379.2h0M52.4 380.6h0M50.9 381.6h0M53.9 374.3h0M63.0 380.9h0M54.4 379.3h0M45.6 379.4h0M57.9 378.4h0M64.2 379.8h0M48.3 380.6h0M54.2 383.3h0M46.4 379.3h0M38.6 376.7h0M47.0 381.5h0M37.4 381.2h0M64.3 386.4h0M51.7 378.4h0M64.6 380.1h0M39.6 379.4h0M37.2 381.6h0M53.9 381.0h0M40.5 379.9h0M39.9 379.0h0M38.4 380.0h0M62.8 382.5h0M52.0 380.0h0M52.7 381.2h0M46.9 382.0h0M47.8 377.5h0M48.1 376.9h0M41.5 380.5h0M62.3 382.6h0M62.9 380.8h0M57.6 385.6h0M43.9 382.9h0M56.6 382.4h0M44.8 378.3h0M54.0 376.8h0M51.4 383.4h0M62.9 382.9h0M55.4 382.2h0M42.4 379.0h0M41.4 384.2h0M37.3 380.9h0M34.0 381.8h0M40.2 384.4h0M37.2 386.1h0M40.4 379.8h0M47.0 382.9h0M44.3 383.4h0M44.6 380.7h0M39.7 383.0h0M39.2 379.9h0M39.7 381.2h0M42.1 378.5h0M39.6 379.4h0M37.6 383.5h0M42.2 382.0h0M40.3 382.0h0M47.4 380.1h0M42.0 380.8h0M41.1 381.4h0M42.3 381.2h0M43.3 381.6h0M39.9 380.8h0M40.7 378.9h0M44.1 381.7h0M47.4 381.0h0M42.9 383.4h0M46.6 380.6h0M43.7 379.2h0M40.8 381.6h0M39.1 380.1h0M39.8 382.5h0M41.2 379.3h0M42.8 381.9h0M42.1 382.5h0M39.7 381.3h0M44.1 382.0h0M46.1 382.4h0M48.2 382.9h0M47.1 380.1h0M41.1 380.1h0M40.9 381.1h0M36.1 382.5h0M40.4 383.1h0M44.9 380.2h0M46.2 383.0h0M45.4 384.6h0M45.4 378.4h0M45.5 381.3h0M34.4 381.0h0M41.7 382.6h0M40.8 380.5h0M38.2 381.8h0M43.7 378.7h0M47.2 379.0h0M42.6 380.2h0M36.3 380.2h0M39.1 379.8h0M44.2 382.4h0M45.4 381.9h0M42.5 379.5h0M38.7 381.5h0M38.9 381.8h0M41.7 381.3h0M38.5 381.4h0M43.2 382.4h0M42.6 381.2h0M40.5 381.4h0M39.0 378.0h0M51.9 386.4h0M59.7 388.1h0M43.0 397.9h0M42.6 397.8h0M50.3 393.1h0M50.5 395.7h0M57.5 387.8h0M44.0 404.2h0M53.2 392.6h0M61.5 385.2h0M50.8 399.8h0M48.3 395.8h0M46.1 398.8h0M54.0 397.0h0M47.7 396.9h0M56.7 394.9h0M53.8 389.7h0M59.9 388.7h0M49.6 397.9h0M59.2 395.3h0M60.0 386.5h0M47.1 393.4h0M56.2 388.6h0M51.7 398.7h0M50.5 387.8h0M61.1 387.6h0M53.8 392.6h0M49.1 402.7h0M61.8 388.9h0M60.8 383.8h0M50.1 394.3h0M53.1 391.3h0M53.6 393.2h0M49.4 394.6h0M52.1 389.9h0M51.7 396.2h0M57.1 383.8h0M49.6 398.0h0M53.6 392.0h0M53.7 396.0h0M63.7 384.0h0M52.0 396.5h0M56.8 390.4h0M57.9 384.5h0M53.3 394.3h0M51.2 401.1h0M46.0 401.4h0M46.8 402.8h0M50.0 400.7h0M55.9 391.3h0M54.7 395.7h0M47.5 405.2h0M51.6 398.7h0M52.1 396.5h0M50.4 398.9h0M52.6 398.2h0M52.5 395.3h0M45.7 405.1h0M47.1 404.6h0M55.0 397.0h0M52.9 396.8h0M53.0 397.3h0M50.6 397.8h0M46.0 405.5h0M51.9 398.1h0M55.4 393.8h0M51.6 399.3h0M82.0 396.1h0M92.4 393.3h0M90.6 395.3h0M87.4 390.1h0M96.4 387.8h0M96.9 402.5h0M91.3 394.9h0M96.2 385.7h0M98.9 386.4h0M80.8 402.1h0M99.4 396.0h0M84.8 387.1h0M83.0 388.7h0M99.1 382.5h0M82.1 402.0h0M99.1 395.1h0M89.6 386.7h0M95.6 394.6h0M98.8 390.5h0M87.8 381.7h0M95.5 383.4h0M98.2 381.2h0M90.2 388.8h0M82.9 394.2h0M90.0 400.9h0M80.3 397.9h0M88.6 387.4h0M86.5 401.6h0M82.5 390.9h0M94.5 401.0h0M96.6 382.5h0M83.2 402.9h0M94.2 398.4h0M90.0 383.3h0M88.3 389.1h0M82.7 381.8h0M82.8 393.5h0M83.6 393.0h0M97.1 391.7h0M81.5 389.3h0M84.0 396.0h0M87.3 396.4h0M99.2 388.9h0M81.2 394.2h0M82.3 388.4h0M90.4 382.5h0M89.0 389.6h0M95.3 387.5h0M93.4 382.1h0M87.8 394.9h0M100.0 381.6h0M84.2 386.9h0M95.1 383.9h0M92.1 397.6h0M90.7 387.9h0M96.5 386.8h0M83.4 389.3h0M86.8 387.1h0M80.1 399.0h0M84.4 402.5h0M55.1 389.6h0M47.3 374.7h0M45.9 397.7h0M51.6 380.5h0M44.6 395.6h0M40.3 388.3h0M59.8 381.3h0M64.0 382.7h0M55.1 399.8h0M59.5 387.3h0M45.1 373.8h0M53.0 386.1h0M51.0 364.6h0M60.8 393.7h0M56.4 392.3h0M56.2 366.2h0M47.1 365.4h0M57.4 386.7h0M41.9 368.3h0M40.2 385.8h0M57.8 379.3h0M43.8 379.0h0M61.1 369.5h0M57.5 388.2h0M50.8 396.5h0M51.8 391.3h0M46.0 399.6h0M55.7 399.9h0M52.7 376.5h0M60.3 365.4h0M102.0 371.5h0M110.5 371.2h0M113.5 380.5h0M123.5 381.0h0M98.0 392.0h0M97.0 389.5h0M93.5 398.0h0M88.0 395.0h0M100.0 385.0h0M70.0 351.5h0" stroke="#c4c4c4" stroke-width="1.7" stroke-linecap="round" fill="none"/>
<path d="M18.9 358.5 L18.3 359.4 L17.9 360.4 L17.1 361.7 L16.8 362.7 L16.0 363.7 L15.5 364.8 L15.0 365.6 L14.7 366.2 L14.3 367.1 L13.8 368.0 L13.8 368.9 L13.8 369.5 L14.1 370.4 L14.4 371.5 L15.0 372.1 L15.8 372.8 L16.6 373.1 L17.3 373.9 L18.1 374.5 L19.0 374.6 L20.1 375.0 L21.1 375.3 L22.1 375.8 L23.6 376.5 L24.5 376.5 L25.8 377.0 L26.8 377.5 L27.9 377.9 L28.6 378.0 L29.5 378.5 L30.3 378.7 L31.0 378.8 L31.7 378.7 L32.5 379.1 L32.9 378.7 L32.8 378.3 L32.8 377.5 L32.9 377.5 L32.8 377.0 L32.4 376.5 L31.8 376.8 L31.0 376.4 L30.3 376.2 L29.2 376.0 L28.2 375.6 L27.1 375.6 L26.4 374.9 L25.2 375.0 L24.2 374.7 L22.8 374.3 L21.9 373.9 L20.8 373.4 L19.7 372.8 L18.8 372.9 L18.3 372.5 L17.7 371.9 L16.9 371.5 L16.3 371.0 L16.1 370.4 L15.5 369.8 L15.6 369.2 L15.6 368.8 L15.5 368.2 L15.5 367.8 L16.0 367.0 L16.2 366.1 L17.0 365.0 L17.1 364.2 L17.8 363.3 L18.6 362.2 L19.1 361.2 L19.5 360.2 L19.7 359.1 L19.9 358.2 L20.2 357.9 L20.1 357.7 L20.1 357.5 L19.8 357.5 L19.5 358.2Z" fill="#14f514" stroke="#14f514" stroke-width="0.8" stroke-linejoin="round"/>
<path d="M20.2 357.7h0M33.1 378.2h0M33.1 377.4h0M13.6 368.6h0M32.9 377.0h0M17.8 361.3h0M33.0 378.1h0M29.8 378.4h0M16.7 362.4h0M16.9 362.0h0M20.5 375.5h0M14.7 365.9h0M18.9 361.6h0M15.3 368.8h0M16.8 364.5h0M33.0 377.9h0M19.6 358.4h0M31.7 376.6h0M19.9 357.4h0M16.7 362.1h0M28.9 375.7h0M30.4 378.4h0M20.1 357.4h0M19.0 358.7h0M13.8 370.4h0M28.8 377.9h0M17.2 371.7h0M17.3 372.1h0M18.8 372.5h0M19.5 360.1h0M15.6 369.6h0M15.7 368.5h0M29.8 375.9h0M19.3 360.2h0M18.5 362.0h0" stroke="#14f514" stroke-width="1.1" stroke-linecap="round" fill="none"/>
<path d="M27.2 387.4 L27.9 387.7 L28.5 387.5 L29.4 387.2 L30.0 387.1 L30.9 386.6 L31.6 386.2 L32.5 386.2 L33.3 385.9 L34.1 385.5 L34.9 385.3 L35.3 384.6 L35.2 384.5 L35.3 384.2 L35.1 383.8 L34.5 383.7 L34.0 383.6 L33.1 383.8 L32.1 384.4 L31.4 384.6 L30.5 384.8 L29.8 385.1 L28.8 385.0 L28.2 385.8 L27.2 385.6 L26.6 385.9 L26.0 386.4 L25.9 386.6 L26.0 386.8 L26.0 387.4 L26.0 387.8 L26.5 387.4Z" fill="#5a14ff" stroke="#5a14ff" stroke-width="0.8" stroke-linejoin="round"/>
<path d="M29.6 386.9h0M30.2 387.1h0M27.1 387.6h0M34.9 384.1h0M33.5 385.8h0M29.8 387.2h0M26.0 386.8h0M33.9 385.4h0M33.6 385.5h0M35.3 384.8h0" stroke="#5a14ff" stroke-width="1.1" stroke-linecap="round" fill="none"/>
<path d="M17.2 415.1 L18.2 414.2 L19.7 413.6 L20.7 412.7 L22.1 412.1 L23.9 411.6 L25.2 410.4 L26.7 409.9 L27.7 408.9 L29.2 408.0 L30.0 407.4 L31.2 406.7 L31.9 406.2 L32.8 406.0 L33.4 406.2 L34.0 406.3 L34.0 406.6 L34.1 407.2 L34.1 407.3 L34.3 408.1 L33.7 408.6 L33.4 409.1 L32.7 410.3 L32.2 410.6 L31.1 411.8 L29.7 412.3 L28.6 413.1 L27.4 413.9 L25.8 414.5 L24.1 415.5 L22.7 415.8 L21.8 416.9 L20.4 417.2 L19.5 417.9 L18.5 418.4 L18.0 418.4 L17.1 418.8 L16.7 418.6 L16.3 418.6 L15.5 418.3 L15.3 417.8 L15.2 417.2 L15.7 416.7 L16.5 416.0Z" fill="#ff0a96" stroke="#ff0a96" stroke-width="0.8" stroke-linejoin="round"/>
<path d="M15.1 418.2h0M22.7 415.7h0M33.6 406.4h0M24.2 411.4h0M22.3 412.4h0M26.9 409.2h0M29.0 413.2h0M33.6 406.7h0M28.6 409.2h0M33.9 406.1h0M32.5 405.9h0M32.5 411.3h0M26.7 409.8h0M15.3 417.0h0M20.0 417.6h0M20.1 413.3h0M17.0 418.2h0M33.1 409.9h0M21.0 412.7h0M17.9 418.6h0M34.3 407.1h0M15.1 417.2h0M23.7 415.5h0M33.7 407.7h0M17.3 419.3h0M19.5 414.3h0M15.4 418.9h0M29.8 411.9h0M33.3 408.7h0M22.3 412.1h0M17.6 414.0h0M32.2 410.9h0M25.4 415.1h0M17.4 415.6h0M32.7 406.4h0M32.4 406.0h0M19.6 417.4h0" stroke="#ff0a96" stroke-width="1.5" stroke-linecap="round" fill="none"/>
<path d="M46.7 405.9 L45.9 406.5 L44.8 406.9 L44.2 408.2 L43.5 408.8 L42.5 409.9 L42.0 411.4 L41.3 412.3 L40.7 413.8 L40.4 414.9 L39.9 416.3 L39.5 417.8 L38.9 419.1 L38.5 420.5 L38.5 421.7 L38.2 423.2 L37.9 424.8 L37.6 426.3 L37.5 427.8 L37.3 429.0 L37.6 430.9 L37.8 432.1 L37.5 433.4 L37.7 434.7 L38.2 436.2 L38.3 437.6 L38.5 439.1 L38.9 440.1 L39.3 441.6 L40.0 442.4 L40.1 443.8 L40.6 444.6 L41.3 446.0 L42.2 446.7 L42.4 447.6 L43.3 448.4 L43.4 448.7 L43.9 449.1 L44.3 449.3 L45.0 449.2 L45.4 449.2 L45.3 448.9 L45.7 449.0 L46.2 448.3 L46.0 448.1 L45.7 447.6 L46.0 446.9 L45.9 446.3 L45.7 445.0 L45.2 444.2 L44.7 443.3 L44.6 442.1 L44.2 441.2 L44.1 439.9 L43.7 438.8 L43.8 438.0 L43.6 436.9 L43.6 435.5 L43.1 434.2 L43.0 433.0 L42.9 431.7 L42.9 430.4 L43.2 429.3 L42.9 428.0 L43.0 426.8 L43.2 425.5 L43.3 424.2 L43.7 422.8 L43.5 421.6 L43.8 420.1 L44.2 418.9 L44.5 417.8 L44.6 416.3 L45.2 415.5 L45.6 414.0 L46.1 413.0 L46.2 411.9 L46.7 410.5 L47.3 409.9 L47.4 408.8 L47.8 407.6 L48.2 406.9 L48.2 406.0 L48.7 405.6 L48.4 405.5 L48.3 404.9 L47.4 405.1 L47.2 405.2Z" fill="#ff7f00" stroke="#ff7f00" stroke-width="0.8" stroke-linejoin="round"/>
<path d="M38.8 421.8h0M45.1 448.9h0M44.8 416.4h0M45.1 406.8h0M45.2 416.6h0M43.4 420.5h0M38.2 437.2h0M39.2 420.9h0M37.8 428.6h0M45.5 406.8h0M37.5 433.7h0M46.6 409.4h0M46.5 447.1h0M37.9 435.8h0M44.5 448.8h0M46.8 404.7h0M48.6 405.9h0M38.7 441.1h0M48.7 404.5h0M43.8 418.5h0M44.4 419.4h0M43.4 437.7h0M43.9 434.6h0M47.0 410.6h0M47.7 408.8h0M38.0 424.3h0M45.8 407.5h0M46.3 413.1h0M43.2 421.4h0M44.9 415.3h0M46.2 413.7h0M44.6 449.3h0M48.8 406.9h0M42.9 432.6h0M46.4 410.8h0M40.6 415.7h0M45.3 449.2h0M45.2 448.8h0M43.1 430.2h0M44.2 440.2h0M38.8 440.1h0M38.3 435.2h0M44.0 439.8h0M47.9 409.2h0M44.7 442.8h0M37.5 425.2h0M45.7 445.7h0M45.6 412.6h0M43.5 438.3h0M39.5 416.1h0M37.1 429.4h0M42.8 448.3h0M41.1 444.9h0M47.6 404.7h0M39.4 416.9h0M45.0 449.5h0M47.6 404.9h0M44.8 417.7h0M43.1 437.5h0M43.0 426.4h0M42.8 433.2h0M44.6 441.7h0M42.4 410.2h0M37.8 430.8h0M39.9 414.8h0M44.1 421.0h0M44.8 419.1h0M43.7 425.0h0M37.9 430.5h0M39.3 420.4h0M43.1 424.7h0M47.0 406.0h0M45.0 416.8h0M46.2 448.5h0M41.3 412.9h0M45.4 413.8h0" stroke="#ff7f00" stroke-width="1.5" stroke-linecap="round" fill="none"/>
<path d="M87.7 348.7 L88.4 348.2 L88.7 348.4 L89.6 348.1 L90.2 348.3 L91.2 348.1 L91.4 348.6 L92.0 348.8 L92.2 349.4 L92.4 350.2 L92.9 350.8 L93.0 351.5 L92.5 352.0 L92.6 352.4 L92.2 353.0 L91.4 353.5 L91.1 353.8 L90.3 354.2 L90.1 354.3 L89.2 354.5 L88.5 354.2 L88.1 354.3 L87.7 354.0 L87.0 353.9 L86.6 353.4 L86.6 352.8 L86.5 352.0 L86.2 351.5 L86.2 350.8 L86.4 350.1 L86.7 349.6 L87.3 349.0Z" fill="#00bfff" stroke="#00bfff" stroke-width="0.8" stroke-linejoin="round"/>
<path d="M87.0 348.8h0M86.2 350.1h0M86.3 349.4h0M92.2 351.1h0M87.1 350.8h0M92.0 350.4h0M86.6 354.0h0M87.2 353.7h0M91.9 352.1h0M88.7 348.4h0M92.3 348.2h0M88.7 348.7h0M91.7 352.9h0M92.9 351.7h0M91.0 353.4h0M86.6 349.6h0" stroke="#00bfff" stroke-width="1.5" stroke-linecap="round" fill="none"/>
<path d="M96.3 356.7 L96.9 356.1 L97.7 355.4 L98.3 354.3 L98.9 353.7 L99.9 353.0 L100.2 352.3 L100.9 352.3 L101.3 352.2 L101.7 352.4 L101.6 352.5 L101.3 353.3 L100.8 353.7 L100.3 354.5 L99.4 355.3 L98.6 356.3 L97.9 357.0 L97.3 357.2 L96.7 358.1 L95.9 358.2 L95.8 358.2 L95.3 358.1 L95.4 357.6 L95.5 357.0Z" fill="#2dfab4" stroke="#2dfab4" stroke-width="0.8" stroke-linejoin="round"/>
<path d="M96.3 357.6h0M95.5 356.1h0M100.3 354.0h0M95.6 358.7h0M96.8 357.8h0M99.0 353.6h0M96.1 357.3h0M100.4 353.2h0M101.0 353.9h0M96.6 356.5h0M98.1 355.6h0M95.1 357.7h0M96.2 357.6h0" stroke="#2dfab4" stroke-width="1.5" stroke-linecap="round" fill="none"/>
<path d="M105.7 360.5 L106.5 360.3 L107.1 360.1 L107.5 360.1 L107.8 360.2 L107.9 360.4 L107.7 360.7 L107.4 361.0 L106.9 361.3 L106.1 361.7 L105.5 361.9 L105.1 361.9 L104.9 361.7 L104.8 361.5 L104.9 361.2 L105.2 360.8Z" fill="#00f500" stroke="#00f500" stroke-width="0.6" stroke-linejoin="round"/>
<path d="M110.3 356.0 L110.7 355.6 L111.1 355.2 L111.4 354.9 L111.7 354.6 L111.9 354.4 L112.1 354.2 L112.4 354.1 L112.7 354.2 L113.0 354.2 L113.2 354.5 L113.3 354.8 L113.3 355.2 L113.3 355.8 L113.2 356.3 L113.0 356.8 L112.8 357.2 L112.6 357.6 L112.3 357.9 L111.9 358.2 L111.5 358.3 L111.1 358.5 L110.7 358.5 L110.3 358.4 L110.0 358.3 L109.8 358.1 L109.6 357.9 L109.5 357.6 L109.5 357.4 L109.5 357.1 L109.7 356.7 L109.9 356.4Z" fill="#00f500" stroke="#00f500" stroke-width="0.6" stroke-linejoin="round"/>
<path d="M112.6 360.0 L112.8 360.0 L113.0 360.1 L113.1 360.2 L113.2 360.5 L113.2 360.7 L113.1 361.0 L113.0 361.1 L112.8 361.2 L112.6 361.2 L112.4 361.1 L112.3 361.0 L112.2 360.7 L112.2 360.5 L112.3 360.2 L112.4 360.1Z" fill="#00f500" stroke="#00f500" stroke-width="0.6" stroke-linejoin="round"/>
<path d="M144.8 371.7 L145.5 373.3 L145.8 375.2 L146.2 376.9 L146.0 379.6 L146.1 382.7 L145.9 385.8 L144.9 388.1 L144.2 389.9 L143.5 391.8 L142.5 394.0 L141.6 396.1 L140.6 398.2 L139.6 399.8 L138.0 401.6 L136.5 403.2 L135.3 404.2 L133.9 405.0 L131.9 404.9 L127.7 404.9 L123.6 404.9 L119.0 404.9 L115.3 404.6 L111.9 404.3 L109.1 404.2 L106.8 404.0 L104.8 403.4 L103.5 402.2 L103.0 400.6 L102.5 398.6 L102.7 397.5 L103.0 395.6 L103.6 394.5 L104.2 393.1 L105.1 391.9 L106.8 390.9 L108.4 390.2 L110.6 390.0 L113.6 389.5 L116.0 389.6 L118.9 389.1 L120.7 389.0 L123.0 388.7 L125.0 388.1 L126.4 387.1 L127.1 385.9 L127.9 385.1 L128.4 383.8 L129.1 382.4 L129.9 380.9 L131.0 379.5 L131.7 378.4 L132.9 377.3 L134.9 376.8 L136.5 376.3 L138.2 376.2 L139.9 375.5 L140.9 374.4 L142.0 373.2 L142.5 372.4 L143.1 371.4 L144.0 371.3Z" fill="#0a32ff" stroke="#0a32ff" stroke-width="0.8" stroke-linejoin="round"/>
<path d="M129.5 383.1h0M143.0 371.5h0M102.0 397.0h0M109.9 404.7h0M110.0 404.3h0M146.2 377.5h0M120.4 389.2h0M145.6 381.0h0M143.6 371.4h0M126.7 387.2h0M130.6 380.8h0M107.1 404.1h0M127.6 385.3h0M103.2 397.1h0M104.4 392.8h0M141.8 396.2h0M128.4 385.3h0M129.1 382.4h0M116.1 404.4h0M133.8 376.7h0M118.3 389.4h0M144.2 389.8h0M105.5 392.6h0M145.8 372.9h0M118.8 388.8h0M135.6 403.6h0M133.8 404.9h0M134.8 403.9h0M142.8 373.0h0M138.8 400.9h0M135.7 377.0h0M146.2 378.2h0M102.5 399.0h0M108.4 390.6h0M143.2 372.1h0M118.4 405.3h0M142.2 372.8h0M117.9 388.7h0M143.2 372.8h0M126.7 387.6h0M125.1 387.9h0M142.9 392.3h0M131.3 378.1h0M103.8 393.0h0M116.4 389.8h0M128.0 383.8h0M102.1 398.7h0M115.2 389.2h0M109.9 389.4h0M144.2 389.5h0M144.6 388.7h0M112.0 389.8h0M132.2 377.1h0M121.1 404.9h0M110.4 405.0h0M103.4 402.0h0M117.3 389.9h0M135.9 404.1h0M118.3 389.7h0M130.2 381.6h0M106.7 404.1h0M129.4 380.9h0M137.7 400.9h0M123.9 388.3h0M145.3 372.8h0M103.2 398.4h0M108.2 389.7h0M141.9 395.7h0M143.6 371.7h0M110.5 389.2h0M129.7 381.1h0M144.9 371.1h0M144.2 388.6h0M130.9 379.3h0M140.1 398.8h0M126.5 404.5h0M141.8 372.6h0M128.5 383.2h0M111.7 389.7h0M131.1 379.1h0M144.6 371.2h0M109.5 404.3h0M104.3 392.9h0M132.1 378.8h0M140.0 374.9h0M116.4 404.7h0M112.3 390.1h0M144.6 389.6h0M106.5 390.0h0M113.2 404.4h0M137.1 402.9h0M126.8 386.3h0M141.8 372.0h0M146.7 377.1h0M102.7 397.1h0M130.0 380.9h0M105.7 403.5h0M123.2 405.2h0M136.1 376.4h0M138.6 400.4h0M124.0 388.5h0" stroke="#0a32ff" stroke-width="1.5" stroke-linecap="round" fill="none"/>
<path d="M75.0 416.0 L75.8 419.0 L76.5 421.6 L77.2 424.7 L78.4 427.5 L80.6 431.3 L82.9 434.7 L85.3 438.3 L88.2 441.1 L90.9 443.9 L94.0 446.0 L97.1 448.1 L100.7 448.8 L105.1 449.3 L108.9 449.4 L113.3 449.3 L117.6 449.2 L120.9 448.7 L124.9 447.5 L128.1 446.5 L131.0 445.2 L133.4 443.9 L135.1 443.1 L136.9 441.3 L138.3 439.2 L139.6 437.2 L140.3 434.9 L140.4 432.2 L140.7 429.7 L140.5 427.2 L139.6 424.6 L138.9 422.0 L137.9 419.6 L137.1 418.0 L136.5 417.5 L136.1 417.9 L136.0 419.2 L136.0 421.3 L136.0 423.1 L135.7 425.2 L135.2 427.3 L134.5 429.9 L133.9 432.2 L132.6 434.0 L131.3 436.2 L130.0 437.8 L127.9 439.6 L126.4 440.7 L123.9 442.3 L121.3 443.3 L118.7 444.2 L116.6 444.8 L114.4 444.8 L111.9 444.0 L109.4 442.7 L106.8 441.8 L104.2 440.2 L101.9 439.1 L100.5 437.7 L98.7 435.8 L97.2 434.0 L94.8 430.8 L93.3 427.9 L91.3 424.9 L89.7 422.2 L89.0 419.9 L87.7 417.4 L87.0 415.2 L84.7 414.5 L81.6 414.5 L78.6 414.5 L76.2 414.8Z" fill="#eeff00" stroke="#eeff00" stroke-width="0.8" stroke-linejoin="round"/>
<path d="M136.6 417.9h0M105.8 449.6h0M119.7 448.6h0M136.7 418.1h0M103.9 440.1h0M75.6 419.9h0M129.5 445.9h0M84.1 415.0h0M76.1 420.1h0M132.7 435.4h0M86.3 439.9h0M105.4 440.2h0M77.3 422.5h0M133.8 444.1h0M125.2 447.9h0M99.5 436.5h0M123.7 448.3h0M77.5 415.2h0M140.7 433.6h0M104.5 441.4h0M121.1 448.5h0M116.0 445.1h0M115.9 449.5h0M136.5 421.0h0M140.3 428.3h0M132.4 434.0h0M83.4 436.9h0M75.1 414.9h0M139.8 433.3h0M100.7 437.0h0M118.4 445.1h0M133.1 432.5h0M100.6 437.0h0M135.7 419.0h0M98.1 434.8h0M117.2 449.9h0M90.0 424.1h0M135.8 422.5h0M90.8 443.2h0M136.0 418.3h0M88.6 441.7h0M81.0 431.6h0M116.2 444.5h0M90.5 423.8h0M76.8 414.2h0M127.8 446.6h0M122.0 449.1h0M130.0 437.9h0M75.4 418.4h0M116.2 445.1h0M117.2 449.7h0M81.8 434.1h0M106.5 449.1h0M77.9 425.1h0M139.1 421.7h0M119.6 448.5h0M122.6 448.0h0M102.5 449.8h0M75.6 418.0h0M134.1 444.7h0M140.4 434.4h0M135.9 423.5h0M111.7 449.1h0M103.2 439.3h0M137.1 418.3h0M108.4 442.5h0M131.6 444.9h0M126.7 440.5h0M86.3 414.5h0M77.9 424.8h0M92.8 445.9h0M99.7 448.3h0M140.6 432.3h0M130.8 444.7h0M135.7 420.2h0M129.8 438.4h0M134.4 429.3h0M136.5 417.1h0M98.9 437.1h0M137.7 439.5h0M136.1 417.6h0M136.5 442.3h0M136.1 422.7h0M124.4 441.6h0M134.0 443.4h0M82.8 414.8h0M103.1 439.5h0M86.2 415.4h0M134.1 433.1h0M140.5 428.5h0M131.4 444.6h0M94.4 446.0h0M111.3 443.7h0M88.3 418.0h0M128.5 438.1h0M112.4 449.9h0M133.2 432.9h0M103.8 449.0h0M81.8 413.7h0M78.6 426.5h0M93.5 428.6h0M136.5 418.4h0M126.5 441.0h0M119.4 444.7h0M89.9 442.6h0M138.9 437.4h0M135.4 426.4h0M133.0 432.5h0M137.8 420.5h0M86.9 440.4h0M136.7 418.0h0M133.4 443.5h0M107.9 449.8h0M104.4 449.8h0M86.9 416.2h0M137.9 439.5h0M96.9 448.6h0M136.5 422.2h0M118.8 444.3h0M91.2 425.0h0M114.3 449.2h0M81.2 414.5h0M75.8 417.7h0M115.0 445.0h0M78.3 414.4h0M111.9 449.4h0M88.1 442.4h0M96.5 446.9h0M89.5 419.8h0M132.9 433.9h0M122.3 443.2h0M133.6 444.4h0M80.1 414.6h0M82.2 414.0h0M137.9 419.0h0M135.8 418.3h0M132.7 434.4h0M135.7 423.8h0M126.7 440.2h0M75.1 416.7h0M119.8 448.8h0M136.6 421.4h0M135.5 442.5h0M122.1 443.4h0M85.1 414.8h0M75.1 417.1h0M140.4 431.0h0M90.1 442.4h0M91.6 425.7h0M136.7 441.9h0M76.4 419.1h0M129.4 446.1h0M113.1 449.6h0M81.9 413.8h0M106.1 441.3h0M96.2 432.3h0M117.0 449.1h0M115.1 444.4h0M136.8 418.2h0M83.0 414.9h0M135.4 422.6h0" stroke="#eeff00" stroke-width="1.5" stroke-linecap="round" fill="none"/>
<path d="M56.3 402.1h0" stroke="#ff7f00" stroke-width="1.8" stroke-linecap="round" fill="none"/>
<path d="M23.5 378.8h0" stroke="#14f514" stroke-width="1.6" stroke-linecap="round" fill="none"/>
<path d="M136.2 415.6h0M74.5 419.5h0M128.5 411.0h0" stroke="#eeff00" stroke-width="1.6" stroke-linecap="round" fill="none"/>
<path d="M133.5 407.0h0M117.0 388.3h0" stroke="#0a32ff" stroke-width="1.6" stroke-linecap="round" fill="none"/>
<path d="M52.3 430.1h0M53.2 435.8h0M49.4 420.3h0M52.6 431.4h0M51.9 428.8h0M52.6 430.1h0M52.2 424.2h0M51.1 422.2h0M52.4 430.9h0M53.1 436.0h0M53.7 437.4h0M52.5 437.1h0M52.0 423.0h0M53.7 437.1h0M51.8 426.4h0M50.5 421.3h0M50.4 419.2h0M51.7 424.7h0M50.6 425.4h0M50.9 420.5h0M52.8 433.3h0M52.3 434.6h0M51.0 419.8h0M53.6 438.0h0M53.7 436.5h0M50.7 425.9h0M50.9 420.6h0M54.3 435.7h0M50.4 421.8h0M52.5 437.4h0M51.9 430.0h0M51.4 422.9h0M52.9 432.2h0M51.4 420.3h0M48.0 427.8h0M46.0 425.6h0M47.2 427.6h0M53.7 428.3h0M51.7 427.6h0M49.9 426.5h0M48.7 423.6h0M46.8 425.3h0M51.1 428.2h0M51.7 429.5h0M48.7 428.8h0M53.4 427.2h0M51.6 427.0h0M45.9 427.4h0M47.6 427.4h0M48.3 427.7h0M44.8 430.3h0M52.2 426.7h0M47.4 427.2h0M50.7 427.8h0M50.1 424.2h0M46.9 429.2h0M46.5 421.8h0M47.8 421.6h0M49.2 421.9h0M44.8 427.6h0M54.6 427.0h0M55.2 426.6h0" stroke="#ff14f0" stroke-width="1.6" stroke-linecap="round" fill="none"/>
<path d="M159.5 346.2V450.3H297.9" stroke="#333" stroke-width="1.05" fill="none" stroke-linejoin="round"/>
<path d="M167.3 358.7 L166.8 359.7 L166.1 360.7 L165.5 361.5 L165.2 362.6 L164.3 363.8 L163.9 364.6 L163.1 365.5 L162.8 366.4 L162.5 367.3 L162.3 368.2 L162.1 368.9 L162.4 369.9 L162.5 370.7 L163.1 371.4 L163.6 372.3 L164.0 372.7 L164.6 373.4 L165.8 373.8 L166.6 374.4 L167.5 374.6 L168.6 375.2 L169.6 375.5 L170.6 376.1 L171.7 376.5 L172.6 376.6 L173.9 377.2 L174.8 377.5 L176.1 377.5 L177.0 377.9 L177.7 378.1 L178.6 378.4 L179.3 378.5 L180.1 378.8 L180.7 378.9 L180.9 378.8 L181.0 378.2 L181.3 377.7 L181.1 377.5 L181.0 376.7 L180.7 376.5 L180.0 376.4 L179.3 376.6 L178.7 376.1 L177.7 376.0 L176.5 375.5 L175.6 375.4 L174.7 375.3 L173.5 374.7 L172.5 374.2 L171.0 374.2 L170.2 373.6 L169.2 373.6 L168.1 373.0 L167.2 372.6 L166.7 372.2 L166.0 372.1 L165.2 371.3 L164.9 371.0 L164.2 370.4 L164.2 370.0 L163.7 369.4 L163.5 368.9 L163.7 368.1 L164.1 367.7 L164.0 366.8 L164.5 366.2 L165.2 365.0 L165.5 364.0 L166.4 363.0 L166.8 362.1 L167.3 361.1 L167.8 359.9 L168.2 359.0 L168.4 358.2 L168.3 357.8 L168.4 357.4 L168.3 357.4 L167.7 357.4 L167.6 358.2Z" fill="#c9c9c9" stroke="#c9c9c9" stroke-width="0.8" stroke-linejoin="round"/>
<path d="M166.2 363.1h0M168.4 357.5h0M163.9 368.9h0M173.8 377.2h0M181.2 377.0h0M181.3 377.8h0M169.0 375.4h0M178.8 376.3h0M163.7 364.8h0M162.3 367.0h0M162.6 366.9h0M163.6 372.4h0M165.7 373.7h0M171.2 376.0h0M167.5 358.2h0M162.5 367.2h0M169.1 373.4h0M180.2 376.5h0M173.3 374.7h0M167.9 359.7h0M167.3 360.3h0M178.3 378.4h0M165.6 373.6h0M172.2 374.5h0M161.9 368.7h0M164.0 367.3h0M163.5 368.8h0M166.3 362.2h0M166.6 372.2h0M163.5 368.4h0M175.6 375.7h0M176.7 375.9h0M176.1 375.5h0M175.1 375.3h0M170.8 375.8h0" stroke="#c9c9c9" stroke-width="1.1" stroke-linecap="round" fill="none"/>
<path d="M175.2 387.4 L176.2 387.5 L176.9 387.1 L177.6 387.4 L178.5 386.9 L179.3 386.4 L180.0 386.1 L180.9 386.0 L182.0 385.6 L182.4 385.4 L182.9 385.1 L183.3 384.8 L183.3 384.7 L183.4 384.3 L183.3 384.0 L182.7 384.0 L181.9 383.9 L181.1 384.1 L180.5 384.0 L179.4 384.2 L178.6 384.5 L177.8 385.2 L176.9 385.2 L176.2 385.4 L175.6 385.9 L174.7 385.9 L174.5 386.5 L174.2 386.6 L174.3 386.7 L173.9 387.4 L174.3 387.3 L174.8 387.9Z" fill="#c9c9c9" stroke="#c9c9c9" stroke-width="0.8" stroke-linejoin="round"/>
<path d="M176.4 385.4h0M174.8 387.8h0M178.2 386.8h0M174.4 386.6h0M183.5 384.4h0M183.0 383.6h0M183.5 384.8h0M176.3 387.4h0M175.0 385.6h0M179.2 384.9h0" stroke="#c9c9c9" stroke-width="1.1" stroke-linecap="round" fill="none"/>
<path d="M165.5 415.0 L166.6 414.5 L167.7 413.6 L169.0 412.9 L170.5 412.2 L172.2 411.6 L173.6 410.4 L174.9 409.6 L176.3 409.0 L177.6 408.1 L178.3 407.4 L179.5 406.8 L180.1 406.2 L181.3 405.9 L181.4 405.9 L182.1 406.3 L182.1 406.2 L182.4 406.7 L182.7 407.5 L182.3 407.9 L182.0 408.6 L181.7 409.1 L181.3 410.2 L180.2 410.6 L179.7 411.8 L178.1 412.3 L177.1 412.9 L175.5 413.7 L173.9 414.6 L172.4 415.4 L171.0 416.3 L169.8 416.7 L168.9 417.1 L167.9 417.9 L166.9 418.3 L166.1 418.5 L165.4 418.6 L164.6 418.9 L164.2 418.6 L164.0 418.1 L163.6 418.1 L163.9 417.2 L163.8 416.9 L164.4 416.1Z" fill="#c9c9c9" stroke="#c9c9c9" stroke-width="0.8" stroke-linejoin="round"/>
<path d="M180.5 410.1h0M180.6 406.6h0M182.6 406.7h0M165.0 416.2h0M177.2 412.3h0M178.9 411.1h0M182.0 408.4h0M182.0 409.0h0M173.0 410.0h0M168.4 418.1h0M166.3 413.9h0M178.9 412.3h0M173.0 415.9h0M165.7 419.2h0M178.8 411.9h0M180.6 405.5h0M181.3 411.2h0M177.0 413.1h0M182.4 406.4h0M182.5 409.1h0M163.7 418.5h0M175.8 409.6h0M177.1 413.0h0M163.5 417.2h0M181.5 409.2h0M166.3 418.4h0M173.5 410.0h0M164.6 417.7h0M175.4 413.1h0M165.2 418.9h0M176.2 413.5h0M181.8 406.4h0M181.1 408.9h0M165.2 418.7h0M182.2 409.3h0M170.6 412.5h0M171.5 412.0h0" stroke="#c9c9c9" stroke-width="1.5" stroke-linecap="round" fill="none"/>
<path d="M195.0 405.6 L194.1 406.5 L193.2 406.9 L192.3 407.8 L191.5 408.8 L191.0 409.8 L190.4 411.3 L189.8 412.5 L189.1 413.8 L188.7 415.0 L188.2 416.1 L187.4 417.4 L187.1 419.0 L186.9 420.6 L186.7 421.7 L186.3 423.4 L186.1 424.6 L186.1 426.2 L186.0 427.7 L186.1 429.4 L185.7 430.7 L186.0 432.0 L185.8 433.5 L186.1 435.0 L186.6 436.2 L186.5 437.6 L187.0 439.0 L187.3 440.1 L187.6 441.6 L188.1 442.4 L188.5 443.6 L189.2 444.6 L189.6 445.6 L190.3 447.0 L190.9 447.5 L191.7 448.0 L191.8 448.8 L192.1 449.2 L192.7 449.0 L193.0 449.3 L193.5 449.3 L193.7 449.0 L194.4 448.8 L194.2 448.3 L194.2 448.2 L194.3 447.5 L193.9 446.8 L194.1 446.1 L193.8 445.4 L193.5 444.3 L193.0 443.0 L193.1 442.2 L192.9 441.3 L192.6 440.0 L192.4 439.1 L192.2 437.6 L191.9 436.6 L191.9 435.7 L191.4 434.3 L191.3 433.1 L191.2 431.9 L191.1 430.3 L191.2 429.0 L191.2 428.1 L191.5 426.5 L191.2 425.5 L191.8 424.1 L191.5 422.6 L192.1 421.7 L191.9 420.0 L192.4 418.8 L192.9 417.6 L193.2 416.3 L193.4 415.6 L193.9 413.9 L194.0 413.1 L194.6 411.8 L195.1 410.8 L195.7 409.6 L195.9 408.6 L196.3 407.9 L196.4 406.9 L196.8 406.0 L196.9 405.6 L196.6 405.4 L196.5 404.9 L196.0 404.9 L195.4 405.2Z" fill="#c9c9c9" stroke="#c9c9c9" stroke-width="0.8" stroke-linejoin="round"/>
<path d="M192.7 407.0h0M186.0 424.7h0M194.8 413.8h0M193.2 449.6h0M197.1 406.0h0M193.4 444.6h0M193.3 445.2h0M191.4 428.0h0M190.3 409.9h0M185.7 428.7h0M191.6 429.2h0M191.8 408.8h0M189.6 446.0h0M186.2 434.9h0M193.5 446.5h0M196.2 408.6h0M194.3 412.6h0M191.3 436.6h0M186.8 423.1h0M190.8 410.3h0M191.7 419.5h0M191.3 447.3h0M193.4 449.0h0M196.3 404.6h0M187.4 441.5h0M191.3 433.6h0M192.1 438.3h0M186.6 438.0h0M191.3 433.7h0M191.9 437.6h0M187.7 440.7h0M189.9 446.0h0M191.1 447.1h0M191.5 429.0h0M185.9 422.3h0M196.7 407.1h0M192.5 420.0h0M190.9 447.3h0M193.5 449.2h0M192.4 440.6h0M187.5 420.2h0M186.2 421.0h0M193.5 416.1h0M194.7 448.8h0M186.5 420.9h0M187.9 419.2h0M191.7 437.6h0M192.7 439.6h0M186.2 427.4h0M194.4 448.3h0M193.8 449.3h0M192.1 436.2h0M190.2 445.7h0M191.6 430.7h0M195.0 412.0h0M186.4 420.8h0M196.7 406.3h0M196.1 404.6h0M194.4 413.4h0M191.8 419.7h0M194.3 448.7h0M191.4 422.6h0M191.9 448.6h0M185.7 425.9h0M192.3 408.7h0M192.2 439.8h0M196.3 405.2h0M194.2 449.3h0M186.1 431.5h0M191.7 428.9h0M192.6 421.8h0M186.5 433.1h0M192.6 441.7h0M189.0 442.9h0M189.2 444.4h0M191.5 436.6h0" stroke="#c9c9c9" stroke-width="1.5" stroke-linecap="round" fill="none"/>
<path d="M235.9 348.6 L236.7 348.5 L237.3 348.3 L237.9 347.9 L238.5 348.1 L239.1 348.2 L239.7 348.8 L240.5 349.0 L240.6 349.4 L241.1 350.3 L241.1 350.8 L241.1 351.5 L241.1 352.2 L240.5 352.7 L240.3 353.1 L240.1 353.5 L239.3 353.8 L239.0 353.9 L238.1 354.0 L237.3 354.2 L237.1 354.3 L236.4 354.2 L235.7 354.1 L235.1 354.2 L234.8 353.7 L234.7 352.9 L234.5 352.4 L234.8 351.5 L234.4 350.7 L234.7 350.3 L235.1 349.7 L235.4 349.1Z" fill="#c9c9c9" stroke="#c9c9c9" stroke-width="0.8" stroke-linejoin="round"/>
<path d="M234.3 350.4h0M237.4 348.6h0M235.4 353.6h0M240.6 350.7h0M235.0 351.2h0M235.4 349.3h0M239.4 349.2h0M235.0 354.0h0M234.5 350.9h0M234.6 352.1h0M236.4 348.7h0M239.1 347.7h0M237.2 354.3h0M237.1 353.8h0M241.2 349.9h0M239.3 348.3h0" stroke="#c9c9c9" stroke-width="1.5" stroke-linecap="round" fill="none"/>
<path d="M244.4 356.4 L245.0 355.8 L245.6 355.2 L246.4 354.3 L247.1 353.6 L248.3 352.8 L248.5 352.3 L249.5 351.9 L249.5 352.0 L249.9 352.3 L249.6 352.8 L249.4 353.2 L249.0 354.0 L248.1 354.5 L247.5 355.2 L247.1 356.1 L246.1 356.8 L245.6 357.5 L244.8 357.9 L244.4 358.0 L244.0 357.9 L243.8 358.1 L243.7 357.5 L244.1 357.2Z" fill="#c9c9c9" stroke="#c9c9c9" stroke-width="0.8" stroke-linejoin="round"/>
<path d="M247.6 352.6h0M245.1 358.5h0M246.2 354.2h0M247.2 355.0h0M248.6 353.3h0M244.9 358.2h0M245.2 355.5h0M244.2 357.8h0M250.2 353.0h0M246.4 356.4h0M244.1 356.4h0M248.6 354.3h0M249.0 352.4h0" stroke="#c9c9c9" stroke-width="1.5" stroke-linecap="round" fill="none"/>
<path d="M254.0 360.5 L254.8 360.3 L255.4 360.1 L255.8 360.1 L256.1 360.2 L256.2 360.4 L256.0 360.7 L255.7 361.0 L255.2 361.3 L254.4 361.7 L253.8 361.9 L253.4 361.9 L253.2 361.7 L253.1 361.5 L253.2 361.2 L253.5 360.8Z" fill="#c9c9c9" stroke="#c9c9c9" stroke-width="0.6" stroke-linejoin="round"/>
<path d="M258.6 356.0 L259.0 355.6 L259.4 355.2 L259.7 354.9 L260.0 354.6 L260.2 354.4 L260.4 354.2 L260.7 354.1 L261.0 354.2 L261.2 354.2 L261.5 354.5 L261.6 354.8 L261.6 355.2 L261.6 355.8 L261.5 356.3 L261.3 356.8 L261.1 357.2 L260.9 357.6 L260.6 357.9 L260.2 358.2 L259.8 358.3 L259.4 358.5 L259.0 358.5 L258.6 358.4 L258.3 358.3 L258.1 358.1 L257.9 357.9 L257.8 357.6 L257.8 357.4 L257.8 357.1 L258.0 356.7 L258.2 356.4Z" fill="#c9c9c9" stroke="#c9c9c9" stroke-width="0.6" stroke-linejoin="round"/>
<path d="M260.9 360.0 L261.1 360.0 L261.3 360.1 L261.4 360.2 L261.5 360.5 L261.5 360.7 L261.4 361.0 L261.3 361.1 L261.1 361.2 L260.9 361.2 L260.7 361.1 L260.6 361.0 L260.5 360.7 L260.5 360.5 L260.6 360.2 L260.7 360.1Z" fill="#c9c9c9" stroke="#c9c9c9" stroke-width="0.6" stroke-linejoin="round"/>
<path d="M292.8 371.7 L294.0 373.0 L294.2 375.1 L294.5 376.8 L294.3 379.5 L294.6 382.8 L293.9 385.6 L293.3 387.7 L292.6 390.1 L291.6 392.0 L290.9 394.2 L289.8 395.8 L288.8 398.1 L287.6 400.1 L286.3 401.8 L285.1 403.3 L283.9 404.4 L282.5 404.9 L279.8 405.0 L276.2 404.7 L272.2 404.7 L267.5 404.8 L263.7 404.8 L260.0 404.7 L257.1 404.3 L255.2 403.9 L253.3 403.5 L251.7 402.2 L251.3 400.6 L251.1 399.1 L250.7 397.2 L251.2 395.8 L251.9 394.5 L252.6 392.8 L253.5 392.0 L255.1 390.9 L256.7 390.3 L259.1 389.9 L261.8 389.7 L264.6 389.6 L267.0 389.2 L269.3 389.0 L271.0 388.8 L273.1 388.1 L274.3 387.1 L275.6 386.0 L276.0 385.0 L276.7 383.7 L277.6 382.4 L278.4 380.7 L279.1 379.4 L279.8 378.2 L281.1 377.4 L283.1 377.1 L284.7 376.3 L286.5 376.1 L288.1 375.1 L289.2 374.2 L290.0 373.4 L290.7 372.3 L291.8 371.6 L292.5 371.1Z" fill="#c9c9c9" stroke="#c9c9c9" stroke-width="0.8" stroke-linejoin="round"/>
<path d="M291.6 371.7h0M256.8 404.9h0M275.1 385.1h0M270.6 405.4h0M290.5 373.3h0M286.4 375.7h0M252.5 393.3h0M250.9 396.5h0M252.0 402.1h0M252.2 393.7h0M273.8 387.3h0M274.9 385.9h0M293.7 373.3h0M289.5 373.6h0M285.3 375.9h0M266.8 388.9h0M276.0 385.5h0M293.8 378.6h0M284.0 376.3h0M273.3 387.6h0M251.6 399.2h0M258.1 390.5h0M286.6 375.7h0M294.2 383.4h0M284.7 376.2h0M252.1 394.5h0M274.2 387.5h0M279.0 379.3h0M258.2 404.8h0M285.9 403.3h0M293.3 374.2h0M291.1 372.7h0M250.5 396.9h0M258.9 403.8h0M291.4 371.0h0M266.8 404.7h0M291.1 395.0h0M277.6 381.8h0M259.6 404.0h0M265.5 404.9h0M250.8 397.6h0M280.3 405.1h0M280.0 378.0h0M277.1 382.3h0M265.1 405.1h0M287.4 375.4h0M273.8 387.4h0M272.7 388.2h0M270.1 388.4h0M253.2 403.9h0M276.0 404.9h0M275.3 386.4h0M272.2 388.8h0M284.1 403.0h0M259.3 390.0h0M294.1 387.5h0M253.3 402.9h0M271.8 389.0h0M253.5 391.6h0M291.5 370.9h0M275.9 385.0h0M264.2 389.3h0M291.5 391.5h0M250.7 398.7h0M260.1 389.8h0M272.0 388.4h0M259.9 389.1h0M252.0 395.0h0M250.6 396.2h0M267.8 388.9h0M295.0 376.0h0M250.9 398.3h0M268.3 405.4h0M293.1 370.8h0M254.8 390.4h0M272.8 388.8h0M266.8 404.6h0M294.1 383.3h0M273.5 388.1h0M295.1 380.2h0M278.1 381.1h0M287.2 400.5h0M288.9 373.7h0M252.2 401.8h0M264.8 389.5h0M293.3 371.4h0M293.9 372.8h0M251.2 395.9h0M271.7 404.2h0M288.9 374.8h0M283.4 376.9h0M289.3 374.0h0M262.3 389.1h0M263.5 404.9h0M250.6 397.4h0M257.5 390.6h0M290.6 372.5h0M255.1 404.6h0M290.9 371.5h0M255.2 390.6h0M254.8 403.8h0" stroke="#c9c9c9" stroke-width="1.5" stroke-linecap="round" fill="none"/>
<path d="M223.3 416.2 L224.1 418.7 L224.7 421.7 L225.5 424.3 L226.8 427.6 L228.7 431.2 L230.9 434.8 L233.7 438.0 L236.3 441.0 L239.2 443.8 L242.1 446.1 L245.3 448.0 L248.9 449.2 L253.4 449.6 L257.3 449.8 L261.7 449.7 L265.7 449.2 L269.3 448.7 L273.0 447.9 L276.6 446.4 L279.1 445.1 L281.6 444.1 L283.7 442.6 L285.3 441.5 L286.9 439.5 L287.8 437.3 L288.7 435.0 L288.7 432.3 L289.0 429.7 L288.6 427.0 L288.1 424.5 L287.3 422.1 L286.5 419.9 L285.3 417.7 L284.9 417.5 L284.6 418.0 L284.1 419.3 L284.0 420.9 L284.2 422.8 L283.8 425.1 L283.4 427.4 L283.0 429.9 L282.2 432.1 L281.0 434.0 L279.7 435.9 L278.3 438.0 L276.5 439.7 L274.4 440.7 L272.4 442.3 L269.5 443.2 L267.1 444.3 L264.9 445.1 L262.6 444.7 L260.0 443.9 L257.3 442.8 L254.7 441.7 L252.7 440.5 L250.4 438.9 L248.6 437.6 L246.9 436.1 L245.3 433.7 L243.3 431.1 L241.5 427.9 L239.5 425.1 L238.3 422.2 L237.1 419.7 L236.1 417.6 L235.1 415.4 L233.1 414.4 L229.8 414.2 L227.3 414.4 L224.6 414.7Z" fill="#c9c9c9" stroke="#c9c9c9" stroke-width="0.8" stroke-linejoin="round"/>
<path d="M240.6 426.8h0M259.5 443.5h0M272.6 441.3h0M289.4 432.9h0M223.9 419.4h0M279.4 445.3h0M280.8 433.6h0M289.1 430.2h0M276.7 438.3h0M285.0 418.5h0M253.2 449.9h0M289.1 429.5h0M244.4 432.5h0M246.2 434.7h0M270.0 448.3h0M240.8 444.5h0M244.5 447.3h0M241.4 427.1h0M285.5 441.1h0M288.3 436.8h0M282.3 431.7h0M275.5 447.3h0M286.0 417.8h0M287.2 438.4h0M268.7 444.4h0M223.6 420.2h0M280.2 435.4h0M286.6 421.3h0M267.9 449.1h0M275.5 446.7h0M227.9 430.5h0M281.3 433.9h0M225.5 423.4h0M277.8 446.3h0M281.9 443.7h0M225.1 424.4h0M280.2 435.2h0M284.2 418.6h0M230.4 434.6h0M282.4 443.9h0M224.7 424.2h0M288.3 437.0h0M224.1 415.6h0M284.7 420.8h0M284.7 423.6h0M286.9 420.9h0M287.2 422.5h0M240.0 426.0h0M289.3 429.2h0M276.8 446.6h0M283.4 426.0h0M255.5 442.4h0M284.0 424.2h0M285.3 418.3h0M224.7 420.3h0M240.4 424.9h0M288.3 426.1h0M246.6 436.2h0M276.8 439.0h0M286.8 420.2h0M223.3 417.7h0M239.9 444.4h0M289.3 430.7h0M256.9 443.0h0M247.2 435.9h0M280.8 434.3h0M283.9 425.6h0M224.9 415.1h0M258.7 450.2h0M283.6 421.1h0M237.8 421.4h0M224.9 421.5h0M284.8 417.6h0M238.0 421.7h0M226.2 426.0h0M284.9 441.6h0M277.6 438.7h0M279.4 435.9h0M287.8 436.0h0M260.4 444.0h0M283.6 424.3h0M285.0 417.7h0M228.0 428.9h0M244.5 433.1h0M237.5 420.1h0M230.8 414.6h0M278.8 438.1h0M238.5 423.7h0M263.3 445.4h0M288.2 436.9h0M287.3 438.7h0M264.1 445.0h0M227.3 429.9h0M231.9 414.8h0M258.6 443.5h0M226.3 424.5h0M272.8 442.1h0M288.8 429.0h0M288.3 436.2h0M233.3 437.7h0M246.0 435.4h0M256.9 449.5h0M243.0 446.9h0M287.9 437.7h0M269.7 444.0h0M286.3 440.0h0M238.8 443.4h0M235.5 439.9h0M284.2 421.7h0M241.2 428.1h0M226.9 414.1h0M260.2 449.0h0M225.9 427.0h0M227.3 427.6h0M285.9 417.1h0M271.1 448.5h0M247.1 436.0h0M244.9 433.9h0M285.9 418.5h0M262.3 444.2h0M282.9 443.4h0M245.9 448.4h0M231.8 436.3h0M233.8 414.6h0M288.3 425.4h0M262.5 445.2h0M226.4 428.5h0M273.7 441.7h0M283.0 443.6h0M231.1 435.2h0M241.6 445.6h0M229.5 433.4h0M237.9 443.5h0M283.8 421.2h0M285.9 439.9h0M228.8 414.5h0M287.2 437.4h0M287.3 437.6h0M285.6 439.7h0M227.1 428.7h0M242.1 445.6h0M238.7 421.9h0M225.9 414.5h0M224.1 416.2h0M284.5 442.2h0M246.1 435.2h0M283.8 429.1h0M258.2 442.8h0M265.4 448.9h0M233.7 437.5h0M244.5 433.5h0M284.9 418.1h0M284.6 422.7h0M260.3 443.5h0M261.3 444.1h0M272.0 447.4h0M286.8 422.2h0M238.2 420.5h0M256.4 449.0h0M273.6 446.9h0M226.6 426.0h0" stroke="#c9c9c9" stroke-width="1.5" stroke-linecap="round" fill="none"/>
<path d="M200.6 430.1h0M201.5 435.8h0M197.7 420.3h0M200.9 431.4h0M200.2 428.8h0M200.9 430.1h0M200.5 424.2h0M199.4 422.2h0M200.7 430.9h0M201.4 436.0h0M202.0 437.4h0M200.8 437.1h0M200.3 423.0h0M202.0 437.1h0M200.1 426.4h0M198.8 421.3h0M198.7 419.2h0M200.0 424.7h0M198.9 425.4h0M199.2 420.5h0M201.1 433.3h0M200.6 434.6h0M199.3 419.8h0M201.9 438.0h0M202.0 436.5h0M199.0 425.9h0M199.2 420.6h0M202.6 435.7h0M198.7 421.8h0M200.8 437.4h0M200.2 430.0h0M199.7 422.9h0M201.2 432.2h0M199.7 420.3h0M196.3 427.8h0M194.3 425.6h0M195.5 427.6h0M202.0 428.3h0M200.0 427.6h0M198.2 426.5h0M197.0 423.6h0M195.1 425.3h0M199.4 428.2h0M200.0 429.5h0M197.0 428.8h0M201.7 427.2h0M199.9 427.0h0M194.2 427.4h0M195.9 427.4h0M196.6 427.7h0M193.1 430.3h0M200.5 426.7h0M195.7 427.2h0M199.0 427.8h0M198.4 424.2h0M195.2 429.2h0M194.8 421.8h0M196.1 421.6h0M197.5 421.9h0M193.1 427.6h0M202.9 427.0h0M203.5 426.6h0" stroke="#c9c9c9" stroke-width="1.6" stroke-linecap="round" fill="none"/>
<path d="M210.9 365.6h0M231.0 415.5h0M230.1 414.5h0M220.0 394.6h0M226.0 403.8h0M230.7 411.4h0M216.5 383.9h0M229.4 411.6h0M225.3 400.4h0M227.9 414.5h0M225.5 403.8h0M231.5 415.5h0M216.6 362.4h0M218.6 390.3h0M235.1 425.9h0M219.1 386.2h0M230.7 426.3h0M231.7 417.1h0M227.3 407.4h0M229.4 409.4h0M218.6 374.2h0M229.8 417.5h0M232.3 430.5h0M219.6 392.4h0M256.3 400.0h0M219.3 383.7h0M223.4 386.6h0M219.0 382.4h0M226.8 408.8h0M218.8 382.1h0M215.7 377.2h0M225.3 403.0h0M223.8 399.6h0M231.2 416.5h0M221.7 399.6h0M221.1 391.4h0M221.7 368.3h0M230.0 410.2h0M222.7 397.4h0M226.3 407.1h0M213.8 381.4h0M222.4 395.2h0M286.0 380.0h0M217.7 379.3h0M231.8 417.4h0M224.2 398.4h0M214.3 371.2h0M217.0 379.2h0M220.1 391.5h0M227.8 410.4h0M229.7 410.2h0M220.0 393.7h0M221.3 393.3h0M229.3 412.1h0M222.6 395.4h0M218.5 389.6h0M217.5 371.3h0M233.6 423.9h0M218.9 383.0h0M221.5 397.4h0M222.9 400.2h0M215.0 356.8h0M218.2 382.0h0M233.1 426.1h0M219.4 384.2h0" stroke="#eeff00" stroke-width="1.9" stroke-linecap="round" fill="none"/>
<path d="M232.5 353.4h0M230.3 356.8h0M234.4 346.9h0M229.3 355.9h0M228.4 355.2h0M225.0 360.0h0M224.0 363.2h0M227.1 354.9h0M231.2 352.4h0M232.8 351.1h0" stroke="#00bfff" stroke-width="1.9" stroke-linecap="round" fill="none"/>
<path d="M205.1 380.6h0M192.1 381.1h0M201.8 382.7h0M246.3 392.6h0M190.4 381.5h0M196.6 379.6h0M204.2 376.5h0M215.2 375.2h0M205.5 376.8h0M194.0 383.1h0M209.0 376.7h0M186.2 379.6h0M193.1 381.6h0M207.6 378.4h0M191.3 380.2h0M190.9 383.5h0M193.5 378.0h0M249.8 372.0h0M193.5 381.5h0M194.9 382.3h0" stroke="#14f514" stroke-width="1.9" stroke-linecap="round" fill="none"/>
<path d="M200.7 390.9h0M195.9 404.3h0M199.4 399.0h0M270.5 380.7h0M210.0 376.2h0M201.0 394.7h0M205.7 386.2h0M199.7 400.6h0M203.1 392.6h0M206.5 393.3h0M199.9 393.2h0M193.1 410.7h0M206.7 397.0h0M206.4 370.4h0M202.8 390.2h0M189.1 414.0h0M196.6 406.6h0M201.7 392.1h0M196.3 400.3h0M221.0 378.0h0M213.7 365.7h0M210.7 381.0h0M200.2 392.2h0M207.2 392.5h0M199.8 389.9h0M208.3 374.7h0M188.3 395.3h0M198.3 396.2h0M200.1 388.2h0M195.3 395.7h0M194.3 391.8h0M194.6 380.0h0M206.1 389.2h0M193.7 410.5h0M198.6 391.7h0M205.2 389.4h0M193.4 403.9h0M198.0 396.2h0M208.5 375.6h0M199.4 393.3h0M203.8 390.5h0M199.6 398.0h0M193.5 401.8h0M205.2 392.4h0M205.7 388.0h0M203.9 390.4h0M193.9 403.1h0M209.6 376.9h0M221.2 362.8h0M196.7 404.5h0M210.0 385.5h0" stroke="#ff7f00" stroke-width="1.9" stroke-linecap="round" fill="none"/>
<path d="M211.6 372.2h0M202.8 388.1h0M210.1 379.4h0M208.2 376.7h0M192.2 412.4h0M213.7 374.7h0M212.2 392.3h0M192.7 386.6h0M216.6 371.3h0M211.0 371.2h0M198.8 394.6h0M199.3 403.3h0M200.5 386.1h0M214.8 360.6h0M201.0 393.5h0M203.0 388.4h0M198.2 393.3h0M190.5 408.8h0M195.0 397.0h0M192.9 404.8h0M193.9 407.7h0M215.1 386.0h0M196.5 392.5h0M190.5 416.9h0M200.0 386.7h0M200.1 396.6h0M199.2 390.9h0M195.1 406.1h0M196.3 388.7h0M209.9 371.2h0M193.9 407.4h0M203.2 390.1h0M204.2 390.9h0M210.4 369.7h0M221.5 366.5h0M190.2 409.9h0M188.5 415.1h0M190.6 412.7h0M207.4 390.6h0M197.9 394.6h0M201.3 405.0h0M194.7 401.3h0M195.2 385.1h0M245.3 398.5h0M204.0 397.0h0M210.4 386.4h0M209.0 378.9h0M195.7 399.2h0M209.2 384.9h0M207.9 386.8h0" stroke="#ff7f00" stroke-width="1.9" stroke-linecap="round" fill="none"/>
<path d="M185.6 397.2h0M182.6 405.3h0M179.9 411.4h0M184.8 400.4h0M189.3 392.4h0M176.9 408.1h0M171.7 411.7h0M169.0 412.9h0M180.9 401.2h0" stroke="#ff0a96" stroke-width="1.9" stroke-linecap="round" fill="none"/>
<path d="M187.5 381.6h0M261.3 399.5h0M179.6 381.3h0M189.4 380.7h0M279.8 385.0h0M214.9 373.2h0M187.4 382.5h0M203.2 381.7h0M205.0 379.2h0M187.2 379.8h0M208.6 374.2h0M187.1 379.1h0M194.7 381.1h0M193.2 378.0h0M188.4 381.7h0M193.5 380.3h0M189.3 380.6h0M201.4 382.1h0M182.8 380.9h0M194.4 382.0h0M189.2 381.4h0" stroke="#14f514" stroke-width="1.9" stroke-linecap="round" fill="none"/>
<path d="M192.0 382.3h0M259.0 372.0h0M187.0 380.2h0M195.5 381.5h0M210.8 372.3h0M192.2 381.2h0M187.2 382.3h0M225.3 373.0h0M196.4 378.5h0M195.1 383.5h0M186.9 380.4h0M191.6 382.6h0M188.2 378.1h0M186.2 379.3h0M201.9 379.4h0M193.3 383.6h0M190.2 383.4h0M192.9 380.4h0M205.0 382.7h0M193.8 382.3h0M201.1 380.4h0" stroke="#14f514" stroke-width="1.9" stroke-linecap="round" fill="none"/>
<path d="M191.6 406.3h0M205.6 373.7h0M201.1 388.0h0M210.4 369.8h0M190.6 413.8h0M213.9 375.8h0M202.6 388.8h0M197.9 403.3h0M216.7 372.0h0M192.8 407.1h0M212.0 364.4h0M193.8 406.0h0M198.7 383.8h0M198.4 386.0h0M196.8 392.9h0M207.6 378.9h0M204.6 392.5h0M206.1 397.2h0M191.4 409.8h0M203.9 397.8h0M198.1 398.8h0M194.8 401.6h0M203.7 387.8h0M209.9 377.2h0M209.6 390.7h0M193.0 403.8h0M190.2 408.5h0M211.4 374.3h0M189.1 413.4h0M207.7 388.2h0M186.7 414.8h0M206.4 375.6h0M210.8 380.9h0M202.3 393.1h0M208.1 388.1h0M202.7 387.6h0M193.2 406.2h0M211.0 372.9h0M190.8 412.9h0M213.5 372.8h0M208.9 387.5h0M191.6 405.1h0M199.6 389.2h0M189.4 415.8h0M200.6 397.5h0M215.1 394.5h0M200.1 385.9h0M215.8 380.8h0M220.4 375.1h0M214.6 374.7h0" stroke="#ff7f00" stroke-width="1.9" stroke-linecap="round" fill="none"/>
<path d="M226.6 386.2h0M227.8 365.4h0M277.0 391.7h0M230.3 396.1h0M223.9 367.0h0M228.5 387.7h0M230.9 377.4h0M274.7 394.3h0M227.1 391.0h0M241.0 394.6h0M232.2 393.9h0M234.4 388.6h0M231.6 391.4h0M235.5 402.0h0M234.6 389.2h0M244.7 390.7h0M228.6 392.3h0M245.4 388.8h0M231.1 383.9h0M233.6 389.9h0M229.9 386.3h0M230.2 386.3h0M227.3 374.5h0M270.5 393.2h0M222.0 366.9h0M227.2 385.9h0M230.8 385.7h0M230.6 382.8h0M225.9 382.7h0M238.3 401.0h0M226.7 381.3h0M231.6 391.5h0M228.8 404.3h0M229.2 394.5h0M227.0 390.3h0M226.6 382.9h0M219.7 360.2h0M234.3 386.7h0M228.8 383.6h0M228.8 388.2h0M229.0 391.4h0M228.7 379.4h0M227.4 372.3h0M269.4 391.6h0M217.7 381.9h0M226.2 374.7h0M233.6 402.6h0M218.6 367.4h0M225.6 386.0h0M282.3 387.0h0M239.0 388.3h0M230.0 398.3h0M277.1 393.7h0M230.4 394.3h0M226.3 391.0h0M231.8 384.0h0M228.7 383.1h0M232.4 389.3h0M240.3 392.0h0M228.5 379.0h0M229.7 369.3h0M224.6 385.2h0M228.2 380.2h0M225.7 388.1h0M233.8 386.1h0M234.2 390.6h0M239.9 390.6h0M232.9 388.8h0M224.8 387.7h0M233.3 403.3h0M233.0 384.2h0M221.7 367.6h0M225.0 359.5h0M231.5 395.5h0M227.5 382.0h0M228.8 389.2h0M235.0 385.6h0M243.2 389.2h0" stroke="#0a32ff" stroke-width="1.9" stroke-linecap="round" fill="none"/>
<path d="M226.2 358.5h0M230.8 354.6h0M234.2 352.5h0M227.7 358.9h0M230.8 353.1h0M228.3 357.2h0M234.2 350.9h0M233.7 347.2h0M236.9 348.8h0M227.7 360.3h0" stroke="#00bfff" stroke-width="1.9" stroke-linecap="round" fill="none"/>
<path d="M176.8 405.7h0M190.5 393.2h0M183.6 397.9h0M192.4 389.0h0M187.2 397.0h0M169.1 418.4h0M191.9 393.5h0M168.4 413.2h0" stroke="#ff0a96" stroke-width="1.9" stroke-linecap="round" fill="none"/>
<path d="M232.8 421.1h0M224.1 393.5h0M225.4 402.1h0M222.2 391.7h0M215.0 369.3h0M226.0 411.4h0M232.8 413.7h0M213.8 378.9h0M232.3 421.6h0M221.2 392.6h0M217.9 357.4h0M219.9 391.1h0M222.9 391.1h0M233.6 430.6h0M211.5 367.2h0M224.3 403.5h0M205.3 405.0h0M230.0 410.6h0M219.4 386.9h0M217.8 383.7h0M215.7 363.3h0M227.9 415.9h0M231.8 421.4h0M210.3 401.0h0M216.6 379.4h0M222.4 396.4h0M226.4 407.6h0M227.7 412.8h0M218.4 389.2h0M227.2 405.6h0M230.2 415.8h0M219.6 362.1h0M261.8 399.0h0M233.4 425.1h0M219.6 386.3h0M223.3 401.5h0M218.6 394.3h0M220.4 384.1h0M214.3 371.3h0M225.9 398.4h0M228.7 407.4h0M231.5 429.1h0M233.6 427.8h0M223.4 394.1h0M223.2 393.6h0M212.4 365.2h0M231.1 416.1h0M209.8 366.4h0M232.0 429.4h0M232.7 428.8h0M200.3 407.0h0M221.4 389.2h0M225.0 408.0h0M232.4 431.4h0M226.7 400.8h0M214.3 373.9h0M214.6 363.1h0M220.1 385.5h0M213.6 368.8h0M233.9 417.8h0M222.6 400.9h0M215.9 372.3h0M216.2 369.6h0M217.1 380.4h0M223.3 401.5h0" stroke="#eeff00" stroke-width="1.9" stroke-linecap="round" fill="none"/>
<path d="M225.2 359.2h0M233.9 348.9h0M236.0 350.9h0M222.6 362.8h0M222.1 363.2h0M233.5 348.5h0M226.0 359.9h0M229.5 352.2h0M228.6 358.8h0M226.9 360.2h0" stroke="#00bfff" stroke-width="1.9" stroke-linecap="round" fill="none"/>
<path d="M231.4 385.1h0M227.5 381.9h0M240.3 407.0h0M237.3 355.0h0M231.6 378.9h0M232.3 391.9h0M229.2 382.1h0M223.6 379.1h0M228.2 381.3h0M222.9 373.4h0M229.0 387.4h0M228.4 385.4h0M230.5 384.0h0M228.4 384.3h0M236.9 390.2h0M229.0 393.4h0M252.2 386.0h0M234.2 399.5h0M224.2 357.5h0M223.9 380.3h0M220.1 360.1h0M231.1 388.1h0M225.1 383.5h0M238.2 401.4h0M234.3 405.0h0M234.2 382.8h0M228.3 384.1h0M219.2 359.3h0M225.7 394.9h0M230.3 389.4h0M228.2 370.6h0M233.1 391.6h0M222.6 383.6h0M232.4 398.7h0M229.5 372.1h0M225.6 383.3h0M233.0 382.9h0M231.2 385.2h0M223.5 370.0h0M223.3 371.3h0M230.8 383.1h0M266.3 396.1h0M224.8 386.2h0M228.5 385.9h0M216.6 364.3h0M221.8 373.0h0M239.1 390.0h0M224.6 383.6h0M226.0 386.6h0M226.5 360.0h0M225.1 389.2h0M238.9 386.4h0M230.2 385.0h0M268.8 393.0h0M237.3 400.4h0M236.1 392.2h0M230.2 370.5h0M227.0 379.4h0M260.3 389.0h0M261.0 393.5h0M245.6 393.3h0M257.4 389.5h0M233.1 386.5h0M230.4 384.7h0M227.5 377.0h0M280.0 396.3h0M254.5 389.4h0M273.2 390.7h0M226.9 382.2h0M246.4 393.4h0M227.1 383.8h0M262.8 394.0h0M231.5 388.5h0M226.6 367.2h0M228.0 387.9h0M229.4 382.4h0M234.0 382.4h0M237.4 393.1h0" stroke="#0a32ff" stroke-width="1.9" stroke-linecap="round" fill="none"/>
<path d="M229.9 423.5h0M214.3 372.3h0M214.6 368.8h0M220.1 369.1h0M228.7 412.8h0M219.8 389.1h0M231.4 419.7h0M226.3 405.4h0M228.0 411.2h0M234.5 427.8h0M218.5 381.4h0M214.8 378.6h0M232.4 425.8h0M216.2 372.9h0M223.5 398.0h0M231.7 421.4h0M214.5 369.9h0M218.4 378.2h0M231.9 420.6h0M226.3 405.9h0M219.5 363.6h0M233.3 424.9h0M224.9 403.2h0M212.8 366.9h0M232.8 427.0h0M224.4 398.5h0M232.4 430.1h0M231.1 430.9h0M224.9 398.5h0M228.9 411.8h0M226.5 401.4h0M224.3 396.3h0M223.4 405.7h0M217.5 384.3h0M229.8 412.9h0M229.2 419.5h0M226.2 402.5h0M222.9 391.9h0M221.9 392.7h0M227.1 399.5h0M219.4 388.6h0M225.8 397.9h0M219.4 390.2h0M230.1 420.1h0M207.3 392.0h0M221.4 393.5h0M217.7 385.3h0M227.3 405.9h0M226.6 401.4h0M215.4 378.8h0M220.0 388.0h0M227.2 412.0h0M203.3 406.5h0M223.6 402.4h0M224.3 403.1h0M231.6 424.8h0M230.3 411.4h0M218.2 382.4h0M231.1 419.2h0M223.6 398.2h0M220.0 368.6h0M214.7 359.1h0M231.8 420.7h0M217.9 379.9h0" stroke="#eeff00" stroke-width="1.9" stroke-linecap="round" fill="none"/>
<path d="M186.7 400.0h0M190.1 394.7h0M173.1 409.7h0M185.5 395.2h0M168.6 412.4h0M174.2 411.1h0M184.6 398.4h0M171.6 410.7h0M179.6 403.8h0" stroke="#ff0a96" stroke-width="1.9" stroke-linecap="round" fill="none"/>
<path d="M253.0 393.9h0M218.9 367.4h0M227.9 389.5h0M228.1 391.3h0M228.9 383.9h0M246.0 390.2h0M270.5 389.7h0M228.9 382.4h0M231.0 381.5h0M226.1 389.5h0M222.6 358.2h0M227.5 385.5h0M220.0 363.3h0M261.0 381.2h0M226.8 387.1h0M258.0 391.4h0M281.2 395.3h0M229.9 386.5h0M256.4 389.4h0M224.2 365.2h0M249.4 391.6h0M226.5 382.2h0M231.1 385.4h0M273.1 395.2h0M231.2 386.3h0M231.3 403.3h0M227.6 389.4h0M221.4 356.6h0M238.2 389.3h0M230.0 385.3h0M232.5 382.5h0M222.9 373.6h0M223.2 382.7h0M238.7 396.1h0M221.5 358.9h0M231.4 388.1h0M229.3 384.9h0M278.3 391.3h0M248.1 391.8h0M251.1 395.1h0M267.1 396.0h0M246.5 388.4h0M232.8 387.5h0M228.3 380.7h0M243.6 358.0h0M279.9 393.4h0M260.8 388.6h0M225.4 390.1h0M281.8 394.5h0M233.9 400.0h0M237.7 393.7h0M228.1 387.9h0M224.2 374.9h0M231.3 395.1h0M221.5 355.6h0M224.6 384.9h0M231.1 383.6h0M226.8 375.9h0M260.9 393.1h0M229.3 397.3h0M226.1 379.4h0M231.6 386.5h0M232.4 376.1h0M229.1 384.7h0M230.4 387.1h0M234.0 382.4h0M227.9 389.1h0M224.5 384.0h0M228.0 389.3h0M225.7 379.9h0M245.3 391.3h0M222.8 387.5h0M234.3 391.6h0M224.2 364.3h0M230.4 380.7h0M224.2 363.5h0M232.0 379.9h0M225.6 383.7h0M227.1 383.8h0" stroke="#0a32ff" stroke-width="1.9" stroke-linecap="round" fill="none"/>
<path d="M307.6 346.2V450.3H447" stroke="#333" stroke-width="1.05" fill="none" stroke-linejoin="round"/>
<path d="M315.3 358.5 L314.9 359.7 L314.4 360.5 L313.7 361.8 L313.1 362.7 L312.6 363.5 L311.9 364.8 L311.5 365.7 L310.8 366.5 L310.6 367.0 L310.5 368.0 L310.0 368.8 L310.1 369.5 L310.6 370.7 L311.0 371.2 L311.2 372.0 L312.0 372.9 L313.0 373.5 L313.7 373.8 L314.7 374.3 L315.4 374.5 L316.3 375.3 L317.6 375.5 L318.5 376.2 L319.9 376.2 L320.6 376.9 L321.7 377.1 L322.9 377.6 L323.9 377.5 L324.8 377.9 L325.9 378.3 L326.6 378.6 L327.6 378.5 L327.9 378.7 L328.7 378.7 L328.8 378.4 L329.2 378.2 L329.5 377.8 L329.3 377.1 L328.8 376.8 L328.7 376.8 L328.2 376.5 L327.5 376.4 L326.4 375.9 L325.4 376.1 L324.4 375.4 L323.7 375.6 L322.4 375.0 L321.3 374.7 L320.2 374.5 L319.2 374.0 L318.3 373.9 L317.1 373.5 L316.3 372.9 L315.1 372.9 L314.5 372.1 L313.6 371.7 L313.3 371.5 L312.8 370.9 L312.4 370.4 L312.0 369.8 L312.0 369.3 L311.9 368.7 L311.7 368.2 L312.0 367.3 L312.4 366.8 L312.6 365.8 L313.1 365.0 L313.7 364.3 L314.1 363.3 L314.6 362.4 L315.2 361.1 L315.6 359.9 L316.0 359.3 L316.6 358.2 L316.3 357.6 L316.2 357.5 L316.3 357.3 L316.1 357.6 L315.5 357.9Z" fill="#c9c9c9" stroke="#c9c9c9" stroke-width="0.8" stroke-linejoin="round"/>
<path d="M316.4 357.6h0M326.4 378.5h0M322.6 377.5h0M310.0 368.9h0M314.7 359.3h0M310.8 371.6h0M314.4 372.4h0M324.9 376.1h0M327.9 379.1h0M311.8 369.5h0M310.3 369.1h0M329.2 377.3h0M312.3 366.4h0M316.4 373.1h0M315.0 362.0h0M329.0 376.9h0M313.6 363.8h0M310.2 368.5h0M312.5 363.3h0M324.6 375.3h0M319.2 376.0h0M315.7 357.6h0M323.2 374.9h0M313.8 372.0h0M312.5 366.5h0M329.5 376.9h0M321.6 377.2h0M329.0 377.1h0M311.8 368.4h0M310.7 371.2h0M321.6 375.1h0M315.9 357.5h0M314.3 363.0h0M328.5 378.7h0M314.9 374.6h0" stroke="#c9c9c9" stroke-width="1.1" stroke-linecap="round" fill="none"/>
<path d="M323.2 387.9 L324.1 387.4 L324.9 387.6 L325.5 387.3 L326.6 386.9 L327.2 386.6 L328.2 386.6 L328.7 386.0 L329.8 385.6 L330.8 385.3 L331.3 385.0 L331.2 384.8 L331.4 384.5 L331.5 384.1 L331.4 383.9 L330.5 383.9 L330.1 383.7 L329.1 384.1 L328.5 384.0 L327.4 384.6 L326.6 384.6 L326.0 385.0 L324.9 385.2 L324.4 385.5 L323.7 385.7 L322.7 386.1 L322.6 386.4 L322.3 386.4 L321.9 386.9 L322.0 387.4 L322.5 387.6 L322.6 387.5Z" fill="#c9c9c9" stroke="#c9c9c9" stroke-width="0.8" stroke-linejoin="round"/>
<path d="M327.2 384.5h0M322.4 386.2h0M328.7 384.1h0M323.0 387.6h0M331.2 383.8h0M327.4 386.5h0M322.1 387.3h0M331.0 383.7h0M322.3 386.6h0M322.2 387.3h0" stroke="#c9c9c9" stroke-width="1.1" stroke-linecap="round" fill="none"/>
<path d="M313.4 415.4 L314.5 414.4 L315.6 413.5 L317.0 412.8 L318.4 412.0 L320.0 411.3 L321.5 410.6 L322.9 409.7 L324.1 408.9 L325.5 407.9 L326.8 407.4 L327.7 406.5 L328.2 406.4 L329.2 406.1 L329.8 406.1 L329.8 406.4 L330.5 406.4 L330.6 406.8 L330.6 407.5 L330.3 408.2 L330.0 408.5 L329.9 409.5 L329.0 410.2 L328.3 410.8 L327.4 411.7 L326.1 412.5 L324.8 413.4 L323.4 413.8 L322.0 414.9 L320.6 415.3 L319.0 416.1 L318.0 416.5 L316.7 417.5 L315.9 418.1 L315.0 418.2 L314.1 418.8 L313.6 418.7 L312.6 419.0 L312.4 418.5 L312.0 418.6 L311.8 417.9 L311.6 417.5 L312.0 416.7 L312.5 416.2Z" fill="#c9c9c9" stroke="#c9c9c9" stroke-width="0.8" stroke-linejoin="round"/>
<path d="M323.6 413.4h0M315.6 418.4h0M314.6 418.6h0M312.6 415.0h0M326.9 406.7h0M311.8 416.8h0M328.9 406.7h0M316.8 413.5h0M312.3 416.7h0M318.4 412.1h0M320.9 414.8h0M319.4 411.3h0M312.6 418.9h0M329.7 409.7h0M330.3 407.2h0M325.1 407.9h0M312.4 419.4h0M320.7 410.8h0M330.4 406.0h0M330.3 407.0h0M312.2 418.4h0M323.2 409.4h0M327.2 406.6h0M330.0 409.5h0M326.1 412.2h0M311.1 417.4h0M326.9 407.3h0M313.6 415.6h0M318.0 416.6h0M328.7 406.5h0M316.6 418.3h0M330.7 407.4h0M330.2 409.9h0M311.7 417.4h0M323.7 409.4h0M325.1 407.9h0M325.6 407.6h0" stroke="#c9c9c9" stroke-width="1.5" stroke-linecap="round" fill="none"/>
<path d="M342.7 405.6 L342.1 406.2 L341.0 407.1 L340.3 407.9 L339.7 408.7 L339.1 409.9 L338.3 411.0 L337.7 412.3 L337.0 413.6 L336.5 414.8 L336.1 416.3 L335.6 417.5 L335.1 419.0 L334.9 420.5 L334.4 422.1 L334.2 423.6 L334.2 424.6 L333.8 426.4 L333.8 427.8 L333.8 429.4 L333.7 430.8 L334.2 431.9 L333.8 433.6 L334.1 435.1 L334.1 436.4 L334.6 437.4 L334.9 438.7 L335.4 440.2 L335.8 441.4 L336.1 442.9 L336.4 443.8 L336.9 444.9 L337.8 445.6 L338.5 446.8 L339.1 447.7 L339.3 448.3 L339.8 448.5 L340.4 449.1 L341.0 449.4 L341.4 449.5 L341.3 449.5 L341.8 449.2 L341.9 448.9 L342.3 448.6 L342.1 447.9 L342.4 447.4 L342.0 446.8 L342.0 445.9 L341.7 445.2 L341.6 444.4 L341.1 443.0 L340.8 442.3 L340.8 441.3 L340.4 440.3 L340.2 438.9 L340.1 437.6 L339.9 436.6 L339.6 435.6 L339.4 434.1 L339.3 433.2 L339.2 431.7 L339.1 430.5 L339.2 429.1 L339.5 427.8 L339.4 426.5 L339.6 425.4 L339.5 424.1 L339.9 422.7 L339.8 421.3 L340.4 420.3 L340.6 419.0 L340.6 417.5 L341.3 416.5 L341.5 415.2 L342.1 414.1 L342.3 413.1 L342.6 412.0 L343.2 410.7 L343.5 409.6 L343.7 408.9 L344.2 407.7 L344.5 406.9 L344.7 406.2 L344.8 405.6 L344.8 405.2 L344.5 405.3 L343.7 405.0 L343.6 405.4Z" fill="#c9c9c9" stroke="#c9c9c9" stroke-width="0.8" stroke-linejoin="round"/>
<path d="M344.4 408.2h0M340.1 436.1h0M340.0 420.5h0M335.3 441.7h0M339.2 434.2h0M335.4 441.1h0M340.0 441.5h0M341.9 447.5h0M342.1 407.3h0M340.0 421.9h0M337.3 412.5h0M336.0 416.8h0M334.6 431.2h0M335.7 415.3h0M334.7 419.2h0M341.5 446.4h0M341.2 415.2h0M344.5 406.4h0M336.6 443.8h0M340.5 440.8h0M338.8 410.0h0M340.6 415.5h0M337.8 411.2h0M339.4 436.3h0M335.1 439.2h0M342.2 414.0h0M336.0 443.8h0M341.6 448.9h0M341.4 414.2h0M341.4 407.0h0M340.5 420.7h0M340.1 423.4h0M333.6 429.1h0M341.6 448.7h0M338.8 431.6h0M334.7 438.0h0M334.9 421.5h0M343.7 405.6h0M340.1 419.6h0M334.3 436.5h0M341.0 416.2h0M341.8 447.4h0M334.0 423.7h0M343.1 409.3h0M339.3 411.1h0M341.8 416.8h0M342.6 406.9h0M340.6 440.3h0M333.7 427.9h0M333.2 430.0h0M342.9 405.7h0M341.2 419.1h0M344.7 405.3h0M341.3 415.7h0M344.1 404.7h0M342.3 446.0h0M334.2 436.7h0M344.1 407.0h0M339.0 447.0h0M339.9 429.1h0M334.2 428.5h0M344.1 408.3h0M344.2 407.2h0M342.4 446.9h0M338.8 431.2h0M340.4 439.6h0M340.1 438.5h0M340.8 449.6h0M341.2 449.4h0M343.2 409.4h0M335.3 420.1h0M341.9 443.8h0M341.3 449.7h0M341.8 446.0h0M343.8 405.7h0M341.6 445.8h0" stroke="#c9c9c9" stroke-width="1.5" stroke-linecap="round" fill="none"/>
<path d="M384.0 348.6 L384.6 348.3 L385.3 348.3 L386.0 348.2 L386.7 348.3 L387.5 348.3 L387.7 348.8 L388.3 348.8 L388.5 349.8 L388.7 350.4 L389.0 351.1 L389.0 351.4 L388.9 351.9 L388.7 352.5 L388.3 352.9 L388.0 353.2 L387.5 353.6 L386.6 354.0 L386.4 354.2 L385.3 354.3 L385.0 354.6 L384.1 354.4 L383.5 354.2 L383.5 354.0 L383.1 353.4 L382.9 353.0 L382.7 352.5 L382.6 351.5 L382.5 350.8 L383.0 350.1 L382.8 349.7 L383.5 349.2Z" fill="#c9c9c9" stroke="#c9c9c9" stroke-width="0.8" stroke-linejoin="round"/>
<path d="M389.4 349.7h0M388.2 353.5h0M389.1 351.9h0M388.3 353.4h0M389.1 351.3h0M386.7 353.5h0M387.9 353.1h0M384.3 348.7h0M383.1 349.5h0M388.3 353.8h0M387.8 352.3h0M389.2 350.7h0M388.2 352.1h0M383.2 350.7h0M384.1 354.0h0M383.0 349.2h0" stroke="#c9c9c9" stroke-width="1.5" stroke-linecap="round" fill="none"/>
<path d="M392.5 356.4 L392.9 355.6 L393.8 355.2 L394.6 354.2 L395.3 353.5 L396.1 353.2 L396.7 352.4 L397.3 352.0 L397.6 352.1 L397.7 352.3 L397.8 352.6 L397.6 353.4 L397.1 353.9 L396.6 354.8 L395.7 355.6 L394.9 355.9 L394.0 357.0 L393.3 357.3 L392.6 357.7 L392.1 358.1 L392.0 358.2 L392.0 357.8 L391.7 357.5 L392.1 357.1Z" fill="#c9c9c9" stroke="#c9c9c9" stroke-width="0.8" stroke-linejoin="round"/>
<path d="M395.5 353.8h0M392.5 357.7h0M397.5 352.7h0M393.4 356.8h0M397.4 352.9h0M396.9 352.9h0M392.6 356.3h0M396.7 354.9h0M396.5 354.4h0M396.2 352.1h0M396.3 352.8h0M396.8 352.9h0M394.8 355.7h0" stroke="#c9c9c9" stroke-width="1.5" stroke-linecap="round" fill="none"/>
<path d="M402.0 360.5 L402.8 360.3 L403.4 360.1 L403.8 360.1 L404.1 360.2 L404.2 360.4 L404.0 360.7 L403.7 361.0 L403.2 361.3 L402.4 361.7 L401.8 361.9 L401.4 361.9 L401.2 361.7 L401.1 361.5 L401.2 361.2 L401.5 360.8Z" fill="#c9c9c9" stroke="#c9c9c9" stroke-width="0.6" stroke-linejoin="round"/>
<path d="M406.6 356.0 L407.0 355.6 L407.4 355.2 L407.7 354.9 L408.0 354.6 L408.2 354.4 L408.4 354.2 L408.7 354.1 L409.0 354.2 L409.2 354.2 L409.5 354.5 L409.6 354.8 L409.6 355.2 L409.6 355.8 L409.5 356.3 L409.3 356.8 L409.1 357.2 L408.9 357.6 L408.6 357.9 L408.2 358.2 L407.8 358.3 L407.4 358.5 L407.0 358.5 L406.6 358.4 L406.3 358.3 L406.1 358.1 L405.9 357.9 L405.8 357.6 L405.8 357.4 L405.8 357.1 L406.0 356.7 L406.2 356.4Z" fill="#c9c9c9" stroke="#c9c9c9" stroke-width="0.6" stroke-linejoin="round"/>
<path d="M408.9 360.0 L409.1 360.0 L409.3 360.1 L409.4 360.2 L409.5 360.5 L409.5 360.7 L409.4 361.0 L409.3 361.1 L409.1 361.2 L408.9 361.2 L408.7 361.1 L408.6 361.0 L408.5 360.7 L408.5 360.5 L408.6 360.2 L408.7 360.1Z" fill="#c9c9c9" stroke="#c9c9c9" stroke-width="0.6" stroke-linejoin="round"/>
<path d="M440.8 371.6 L441.6 373.3 L442.2 375.0 L442.3 376.8 L442.7 379.4 L442.3 382.9 L442.2 385.4 L441.3 388.0 L440.6 390.1 L439.7 392.2 L438.8 393.9 L437.9 395.8 L436.7 397.8 L435.4 400.1 L434.6 401.6 L432.8 403.3 L431.7 404.3 L430.5 404.5 L427.9 405.2 L424.1 405.1 L419.9 404.7 L415.4 404.7 L411.7 404.8 L408.2 404.5 L405.4 404.4 L402.8 403.8 L400.9 403.1 L399.8 402.1 L399.0 400.7 L398.7 398.7 L398.8 397.4 L399.2 396.0 L399.7 394.5 L400.5 392.8 L401.4 392.0 L403.0 390.8 L404.9 390.3 L406.9 389.6 L409.5 389.5 L412.3 389.5 L415.0 389.3 L417.3 388.8 L419.5 388.6 L420.9 388.1 L422.3 387.2 L423.5 385.9 L424.3 385.1 L424.8 383.7 L425.7 382.2 L426.2 380.9 L427.3 379.4 L428.3 378.5 L429.1 377.3 L431.2 377.0 L432.6 376.3 L434.5 375.9 L436.1 375.1 L437.0 374.1 L438.3 373.3 L438.7 372.2 L439.5 371.5 L440.4 371.1Z" fill="#c9c9c9" stroke="#c9c9c9" stroke-width="0.8" stroke-linejoin="round"/>
<path d="M427.8 379.4h0M428.3 378.5h0M422.0 388.1h0M432.5 403.9h0M428.1 379.7h0M437.7 373.5h0M418.8 404.2h0M399.5 395.1h0M405.6 389.7h0M400.7 393.2h0M419.3 387.9h0M424.9 382.9h0M422.1 388.6h0M442.4 385.7h0M409.3 389.9h0M424.4 383.4h0M424.1 384.6h0M398.8 399.1h0M439.0 372.9h0M414.7 389.6h0M433.5 376.9h0M435.7 375.5h0M399.2 401.2h0M440.1 388.6h0M400.9 392.2h0M419.4 404.5h0M422.5 386.1h0M399.3 399.7h0M407.9 404.0h0M412.4 389.4h0M427.3 380.3h0M399.5 401.1h0M424.0 385.7h0M427.6 377.6h0M402.2 404.0h0M433.7 401.9h0M439.5 371.7h0M442.7 374.7h0M442.3 375.8h0M427.0 404.4h0M414.2 404.4h0M438.5 393.8h0M427.6 405.4h0M439.7 390.8h0M407.3 404.7h0M399.3 402.3h0M402.7 403.6h0M437.8 395.8h0M439.2 393.1h0M442.5 382.6h0M423.5 386.9h0M412.5 404.4h0M425.5 384.2h0M440.3 371.0h0M409.8 390.0h0M428.3 404.9h0M406.0 404.8h0M398.9 394.6h0M438.8 393.2h0M434.5 376.3h0M440.5 372.0h0M417.0 388.6h0M402.4 390.8h0M407.2 404.2h0M416.0 404.3h0M440.3 371.3h0M434.4 402.9h0M440.6 390.8h0M432.8 376.3h0M431.1 377.1h0M399.1 395.4h0M434.4 401.9h0M405.7 390.2h0M405.6 390.4h0M433.9 402.7h0M438.6 394.3h0M399.5 396.0h0M441.7 375.7h0M432.0 404.4h0M431.4 377.3h0M431.0 377.0h0M431.1 405.1h0M442.6 383.8h0M438.9 393.9h0M407.2 403.8h0M420.6 404.3h0M439.2 394.0h0M428.8 378.4h0M411.4 404.3h0M401.8 392.3h0M409.4 389.0h0M438.5 394.4h0M437.0 396.6h0M407.6 389.1h0M429.2 404.4h0M441.2 373.5h0M402.9 391.4h0M401.0 402.6h0M404.1 390.8h0M442.4 379.8h0M406.9 390.0h0" stroke="#c9c9c9" stroke-width="1.5" stroke-linecap="round" fill="none"/>
<path d="M371.4 416.0 L372.0 418.7 L372.5 421.6 L373.3 424.4 L375.0 427.9 L376.6 431.1 L378.9 434.9 L381.7 438.1 L384.5 441.2 L387.5 444.0 L390.5 446.0 L393.2 447.8 L397.1 449.0 L401.4 449.2 L405.6 449.5 L409.7 449.8 L413.8 449.0 L417.6 448.7 L421.3 447.7 L424.4 446.2 L427.3 445.4 L429.9 444.3 L431.8 442.7 L433.3 441.3 L434.6 439.5 L435.5 437.2 L436.4 434.7 L436.7 432.4 L436.7 429.7 L436.4 427.0 L436.2 424.7 L435.3 421.8 L434.3 419.8 L433.4 418.1 L433.1 417.2 L432.5 418.0 L432.0 419.2 L432.4 421.1 L431.9 423.2 L431.7 425.1 L431.3 427.1 L430.8 429.8 L430.1 431.8 L429.2 434.1 L427.7 435.9 L425.9 438.1 L424.5 439.7 L422.7 441.1 L420.4 442.2 L417.7 443.4 L415.4 444.3 L412.8 444.7 L410.4 445.0 L408.2 443.9 L405.5 442.7 L403.1 441.8 L400.7 440.5 L398.3 438.8 L396.4 437.3 L395.2 435.8 L393.1 434.0 L391.5 430.8 L389.2 428.1 L387.7 425.1 L386.1 422.2 L385.0 419.8 L384.2 417.5 L382.9 415.4 L381.3 414.4 L377.8 414.2 L374.9 414.3 L372.4 414.7Z" fill="#c9c9c9" stroke="#c9c9c9" stroke-width="0.8" stroke-linejoin="round"/>
<path d="M431.8 418.5h0M400.6 449.3h0M405.8 443.2h0M372.9 423.6h0M373.2 422.1h0M386.9 423.1h0M384.3 417.9h0M432.7 417.4h0M415.9 448.6h0M425.8 438.5h0M396.2 448.2h0M430.8 444.1h0M384.9 420.6h0M421.4 441.1h0M429.1 433.6h0M411.7 444.9h0M435.0 437.8h0M430.1 443.4h0M434.0 418.3h0M393.6 448.3h0M382.5 415.4h0M387.8 425.2h0M389.8 428.5h0M386.4 423.3h0M375.4 415.0h0M434.3 419.5h0M380.2 435.0h0M393.6 435.5h0M423.5 440.2h0M426.5 445.3h0M433.3 441.2h0M437.4 432.5h0M432.4 424.4h0M398.4 438.7h0M423.5 447.2h0M412.6 445.3h0M374.1 426.9h0M389.0 427.2h0M434.0 418.0h0M434.1 440.1h0M432.9 417.8h0M406.3 449.6h0M431.7 426.1h0M430.9 429.0h0M393.9 433.5h0M420.2 447.8h0M371.5 418.1h0M372.6 416.0h0M377.3 414.3h0M413.3 449.3h0M436.8 427.9h0M377.8 414.9h0M414.2 444.4h0M436.3 424.7h0M408.5 444.1h0M407.9 443.1h0M383.3 414.6h0M417.3 448.6h0M431.1 442.5h0M432.0 419.7h0M426.8 445.5h0M425.2 438.5h0M406.4 450.1h0M431.1 429.8h0M432.7 420.3h0M434.3 418.2h0M432.9 418.6h0M435.0 422.1h0M381.8 439.1h0M390.3 446.2h0M436.5 433.8h0M372.5 419.2h0M437.3 427.0h0M383.8 439.9h0M428.1 436.3h0M426.4 445.0h0M433.5 418.5h0M388.1 427.0h0M416.0 448.9h0M375.8 429.2h0M402.7 441.8h0M373.9 414.4h0M402.1 441.4h0M435.2 439.9h0M371.4 416.4h0M394.6 435.2h0M390.0 446.5h0M431.8 425.1h0M422.2 441.7h0M403.3 450.1h0M388.5 444.8h0M396.9 437.9h0M392.9 432.9h0M428.8 444.3h0M416.4 444.0h0M431.8 424.1h0M432.3 419.0h0M372.2 421.5h0M434.1 421.2h0M379.1 415.0h0M419.8 448.5h0M409.1 444.5h0M423.9 446.3h0M375.4 414.4h0M425.6 445.7h0M388.8 444.3h0M420.4 442.4h0M403.1 441.3h0M395.9 448.5h0M431.5 425.9h0M436.4 432.9h0M371.4 417.2h0M379.5 434.9h0M387.2 443.6h0M384.0 440.7h0M413.3 449.4h0M394.4 435.2h0M436.3 430.0h0M436.9 430.6h0M384.1 418.6h0M424.2 446.8h0M391.0 446.7h0M383.4 415.6h0M383.8 417.5h0M419.5 442.5h0M419.3 442.4h0M432.9 419.4h0M413.4 444.6h0M422.5 440.6h0M429.8 444.5h0M413.2 448.8h0M434.9 420.7h0M405.6 449.3h0M435.8 424.2h0M422.9 447.4h0M431.4 442.6h0M436.5 432.4h0M377.7 414.9h0M407.4 443.5h0M389.7 429.5h0M431.8 418.8h0M436.3 434.4h0M384.1 441.3h0M395.4 436.2h0M421.0 441.7h0M434.0 417.7h0M436.5 424.7h0M387.7 425.8h0M424.6 438.9h0M419.9 443.0h0M429.3 444.3h0M380.5 436.3h0M400.2 440.1h0M418.2 449.0h0M431.3 429.0h0M398.6 448.8h0M432.6 420.7h0M393.6 435.7h0M396.7 438.2h0M422.6 440.8h0M422.2 446.3h0" stroke="#c9c9c9" stroke-width="1.5" stroke-linecap="round" fill="none"/>
<path d="M348.6 430.1h0M349.5 435.8h0M345.7 420.3h0M348.9 431.4h0M348.2 428.8h0M348.9 430.1h0M348.5 424.2h0M347.4 422.2h0M348.7 430.9h0M349.4 436.0h0M350.0 437.4h0M348.8 437.1h0M348.3 423.0h0M350.0 437.1h0M348.1 426.4h0M346.8 421.3h0M346.7 419.2h0M348.0 424.7h0M346.9 425.4h0M347.2 420.5h0M349.1 433.3h0M348.6 434.6h0M347.3 419.8h0M349.9 438.0h0M350.0 436.5h0M347.0 425.9h0M347.2 420.6h0M350.6 435.7h0M346.7 421.8h0M348.8 437.4h0M348.2 430.0h0M347.7 422.9h0M349.2 432.2h0M347.7 420.3h0M344.3 427.8h0M342.3 425.6h0M343.5 427.6h0M350.0 428.3h0M348.0 427.6h0M346.2 426.5h0M345.0 423.6h0M343.1 425.3h0M347.4 428.2h0M348.0 429.5h0M345.0 428.8h0M349.7 427.2h0M347.9 427.0h0M342.2 427.4h0M343.9 427.4h0M344.6 427.7h0M341.1 430.3h0M348.5 426.7h0M343.7 427.2h0M347.0 427.8h0M346.4 424.2h0M343.2 429.2h0M342.8 421.8h0M344.1 421.6h0M345.5 421.9h0M341.1 427.6h0M350.9 427.0h0M351.5 426.6h0" stroke="#c9c9c9" stroke-width="1.6" stroke-linecap="round" fill="none"/>
<path d="M376.0 394.2h0M375.6 384.0h0M365.2 362.9h0M376.2 390.8h0M378.8 395.8h0M375.0 398.7h0M379.8 383.0h0M385.3 355.0h0M370.8 361.6h0M369.5 373.8h0M378.0 387.0h0M413.2 394.3h0M374.7 379.3h0M413.1 390.8h0M373.4 371.1h0M376.2 382.2h0M373.4 358.5h0M390.7 388.1h0M378.5 385.3h0M383.4 387.0h0M376.3 401.3h0" stroke="#2a50ff" stroke-width="1.7" stroke-linecap="round" fill="none"/>
<path d="M377.8 383.4h0M375.0 390.1h0M371.0 377.6h0M375.6 386.5h0M376.3 400.8h0M380.5 392.2h0M386.3 401.0h0M372.6 383.9h0M376.2 385.5h0M413.2 389.1h0M379.1 379.4h0M377.7 390.5h0M370.3 368.9h0M413.0 391.7h0M376.4 398.0h0M380.8 383.6h0M417.0 391.2h0M395.7 391.1h0M375.5 384.8h0M397.8 372.0h0M380.5 388.5h0" stroke="#1e46ff" stroke-width="1.7" stroke-linecap="round" fill="none"/>
<path d="M380.1 382.9h0M366.0 361.8h0M413.7 391.4h0M420.7 394.2h0M381.6 400.9h0M385.0 390.6h0M379.4 390.8h0M379.7 393.6h0M387.6 390.5h0M370.9 363.0h0M391.6 358.0h0M382.3 405.0h0M411.9 393.7h0M366.4 364.9h0M376.3 366.7h0M368.4 363.8h0M380.2 380.9h0M409.0 381.2h0M375.4 378.4h0M370.6 365.2h0" stroke="#4f70f5" stroke-width="1.7" stroke-linecap="round" fill="none"/>
<path d="M379.0 372.1h0M421.1 393.2h0M380.9 384.8h0M380.4 385.8h0M393.3 398.5h0M385.8 394.6h0M384.2 388.2h0M372.0 375.9h0M378.1 387.9h0M373.8 391.3h0M379.0 402.0h0M380.3 394.9h0M375.6 390.4h0M373.1 380.2h0M375.3 383.5h0M378.0 386.9h0M380.5 388.0h0M377.2 382.0h0M377.6 365.0h0M377.5 383.5h0" stroke="#86a4ff" stroke-width="1.7" stroke-linecap="round" fill="none"/>
<path d="M373.9 379.1h0M380.4 380.4h0M383.1 385.9h0M381.7 383.0h0M376.6 360.8h0M381.9 382.4h0M419.9 396.4h0M375.5 383.7h0M378.4 389.4h0M376.4 386.9h0M378.0 385.5h0M375.4 388.7h0M378.7 388.9h0M375.4 391.8h0M375.7 391.6h0M378.1 389.4h0M381.3 386.8h0M370.6 359.1h0M375.4 369.0h0M373.4 389.0h0M378.9 386.4h0" stroke="#2a50ff" stroke-width="1.7" stroke-linecap="round" fill="none"/>
<path d="M371.8 366.3h0M374.8 387.3h0M379.6 389.0h0M380.7 392.9h0M379.0 388.4h0M434.0 380.0h0M407.0 372.0h0M368.9 375.8h0M402.3 393.5h0M428.9 398.6h0M372.2 388.6h0M380.1 398.1h0M370.8 369.6h0M374.6 375.7h0M384.0 400.6h0M370.1 375.5h0M386.5 388.1h0M374.9 359.9h0M374.0 376.9h0M374.3 384.0h0M419.5 390.9h0" stroke="#1e46ff" stroke-width="1.7" stroke-linecap="round" fill="none"/>
<path d="M373.3 373.0h0M373.2 397.3h0M374.9 382.5h0M373.2 386.8h0M374.0 378.3h0M377.0 379.4h0M370.3 361.1h0M428.1 394.1h0M375.0 372.0h0M376.5 382.6h0M374.3 378.6h0M375.9 384.5h0M397.0 393.0h0M375.7 388.2h0M394.3 389.5h0M410.6 393.5h0M376.0 379.3h0M381.4 388.9h0M394.3 392.6h0M381.1 387.0h0" stroke="#4f70f5" stroke-width="1.7" stroke-linecap="round" fill="none"/>
<path d="M419.8 392.0h0M378.5 384.1h0M377.1 378.6h0M430.3 387.0h0M376.9 386.4h0M398.3 390.1h0M370.8 381.5h0M379.4 384.0h0M378.0 388.1h0M403.2 393.8h0M425.1 394.8h0M376.6 386.6h0M411.8 394.3h0M372.6 373.1h0M379.3 387.2h0M379.6 386.5h0M375.7 384.7h0M377.2 387.4h0M368.4 385.6h0M375.4 387.0h0" stroke="#86a4ff" stroke-width="1.7" stroke-linecap="round" fill="none"/>
<path d="M314.9 415.8h0M330.4 405.7h0M325.6 403.3h0" stroke="#f0356e" stroke-width="1.7" stroke-linecap="round" fill="none"/>
<path d="M330.1 402.0h0M337.7 393.0h0M324.0 406.7h0" stroke="#ff4a5a" stroke-width="1.7" stroke-linecap="round" fill="none"/>
<path d="M321.4 408.9h0M322.8 407.2h0" stroke="#f56090" stroke-width="1.7" stroke-linecap="round" fill="none"/>
<path d="M367.0 392.7h0M369.3 394.8h0M379.6 412.7h0M379.3 420.9h0M377.2 413.2h0M379.4 419.7h0M370.4 392.9h0M366.7 369.5h0M371.4 400.9h0M375.3 405.2h0M375.6 406.7h0M372.3 405.8h0M363.9 382.2h0M377.6 416.4h0M370.8 400.8h0M373.5 409.9h0M382.1 427.8h0M371.4 402.0h0M372.2 404.7h0M376.9 404.8h0M368.4 390.2h0M372.8 409.6h0" stroke="#e8fa14" stroke-width="1.7" stroke-linecap="round" fill="none"/>
<path d="M369.9 389.2h0M365.0 381.0h0M375.9 409.5h0M368.3 394.2h0M375.8 409.9h0M382.7 416.1h0M363.0 369.4h0M365.2 379.5h0M372.9 397.7h0M374.0 399.8h0M370.1 398.2h0M373.0 407.9h0M380.3 426.7h0M361.0 367.4h0M381.3 421.0h0M367.0 389.1h0M365.7 384.4h0M365.7 385.4h0M368.3 392.0h0M365.6 385.9h0M379.0 419.8h0" stroke="#e2f510" stroke-width="1.7" stroke-linecap="round" fill="none"/>
<path d="M377.2 417.1h0M377.9 411.0h0M362.2 366.9h0M361.7 379.4h0M355.3 392.0h0M365.2 371.9h0M379.9 430.8h0M381.0 420.2h0M365.1 380.0h0M379.7 417.7h0M368.5 393.4h0M379.6 414.4h0M372.3 399.4h0M372.9 400.9h0M375.8 410.1h0M376.3 407.0h0M373.9 402.6h0M377.9 408.4h0M364.6 385.2h0M364.8 382.5h0M366.6 364.4h0" stroke="#f0f870" stroke-width="1.7" stroke-linecap="round" fill="none"/>
<path d="M343.2 384.3h0M340.5 379.9h0M355.9 378.7h0" stroke="#7df06e" stroke-width="1.7" stroke-linecap="round" fill="none"/>
<path d="M342.7 382.5h0M343.4 379.7h0" stroke="#5fee50" stroke-width="1.7" stroke-linecap="round" fill="none"/>
<path d="M352.3 378.0h0M343.5 383.4h0" stroke="#b4f58c" stroke-width="1.7" stroke-linecap="round" fill="none"/>
<path d="M350.5 395.9h0M337.0 411.5h0M350.8 392.8h0M364.9 373.9h0M352.8 388.6h0M347.0 389.2h0M354.2 390.5h0M354.9 395.0h0M345.6 392.1h0M334.8 394.3h0M355.3 370.5h0M344.0 406.8h0M340.6 404.4h0" stroke="#ff9a3c" stroke-width="1.7" stroke-linecap="round" fill="none"/>
<path d="M360.0 367.5h0M348.4 390.9h0M342.2 407.1h0M339.8 412.9h0M348.7 389.2h0M349.4 387.0h0M358.3 389.8h0M337.7 409.2h0M353.7 394.6h0M361.2 375.4h0M350.5 387.1h0M348.0 392.2h0" stroke="#ff8a28" stroke-width="1.7" stroke-linecap="round" fill="none"/>
<path d="M339.1 407.8h0M354.7 379.3h0M342.6 403.8h0M363.1 368.3h0M354.1 391.4h0M359.8 375.1h0M352.5 386.6h0M359.9 376.9h0M354.3 392.4h0M340.2 410.1h0M356.0 378.4h0M338.2 417.4h0" stroke="#ffb070" stroke-width="1.7" stroke-linecap="round" fill="none"/>
<path d="M347.6 395.7h0M342.5 400.1h0M344.4 395.5h0M360.2 374.8h0M363.3 375.3h0M341.1 400.0h0M349.9 391.2h0M341.2 403.9h0M349.3 396.7h0M339.1 407.2h0M367.0 368.9h0M346.5 392.5h0" stroke="#ffc8a0" stroke-width="1.7" stroke-linecap="round" fill="none"/>
<path d="M355.4 379.2h0M339.3 382.6h0M353.9 380.9h0" stroke="#7df06e" stroke-width="1.7" stroke-linecap="round" fill="none"/>
<path d="M339.8 383.1h0M341.7 381.6h0M347.8 386.1h0" stroke="#5fee50" stroke-width="1.7" stroke-linecap="round" fill="none"/>
<path d="M355.8 376.9h0M346.2 381.3h0" stroke="#b4f58c" stroke-width="1.7" stroke-linecap="round" fill="none"/>
<path d="M383.3 352.2h0M385.2 349.9h0M379.5 351.9h0M378.0 357.7h0" stroke="#7fd0ff" stroke-width="1.7" stroke-linecap="round" fill="none"/>
<path d="M379.9 349.8h0M381.9 349.4h0M373.6 362.1h0" stroke="#a8e4ff" stroke-width="1.7" stroke-linecap="round" fill="none"/>
<path d="M377.2 355.5h0M374.7 363.2h0M375.9 360.0h0" stroke="#9ff0d8" stroke-width="1.7" stroke-linecap="round" fill="none"/>
<path d="M363.9 353.4h0M361.2 368.2h0M377.7 409.7h0M366.6 388.7h0M375.7 415.0h0M377.6 423.6h0M379.7 420.9h0M361.8 379.7h0M379.3 416.3h0M377.1 410.9h0M379.7 423.0h0M369.0 391.5h0M381.3 425.8h0M373.0 402.6h0M382.2 418.9h0M363.4 370.8h0M365.7 384.4h0M377.7 414.8h0M365.6 388.7h0M368.5 388.8h0M367.8 393.6h0" stroke="#e8fa14" stroke-width="1.7" stroke-linecap="round" fill="none"/>
<path d="M379.4 421.5h0M366.6 377.9h0M365.2 381.5h0M363.3 366.6h0M374.0 402.3h0M379.5 419.6h0M373.5 399.7h0M353.3 405.0h0M376.4 415.8h0M361.1 369.4h0M348.3 407.0h0M363.6 368.8h0M379.8 414.1h0M376.4 409.7h0M370.9 391.2h0M370.5 408.4h0M376.5 406.1h0M362.4 361.6h0M372.9 399.8h0M370.8 391.2h0M369.9 388.1h0" stroke="#e2f510" stroke-width="1.7" stroke-linecap="round" fill="none"/>
<path d="M376.9 416.6h0M361.8 377.7h0M358.3 401.0h0M373.9 403.6h0M360.2 365.2h0M367.3 393.0h0M366.4 385.9h0M369.9 391.6h0M377.1 407.0h0M361.7 374.4h0M374.5 399.7h0M368.8 386.9h0M367.7 392.4h0M363.9 364.5h0M364.1 365.2h0M382.1 417.3h0M364.6 379.3h0M380.8 423.2h0M368.6 392.3h0M366.7 392.3h0M373.3 408.7h0" stroke="#f0f870" stroke-width="1.7" stroke-linecap="round" fill="none"/>
<path d="M324.8 406.8h0M320.2 409.9h0M340.3 388.9h0" stroke="#f0356e" stroke-width="1.7" stroke-linecap="round" fill="none"/>
<path d="M324.4 401.7h0M328.0 406.3h0M334.5 392.2h0" stroke="#ff4a5a" stroke-width="1.7" stroke-linecap="round" fill="none"/>
<path d="M318.2 413.7h0M321.1 412.1h0M320.2 409.6h0" stroke="#f56090" stroke-width="1.7" stroke-linecap="round" fill="none"/>
<path d="M364.7 373.5h0M351.0 390.5h0M354.7 378.1h0M362.6 376.3h0M350.1 394.7h0M345.4 386.0h0M343.4 401.9h0M350.4 393.5h0M348.0 381.0h0M340.1 401.4h0M362.6 386.5h0M348.1 397.3h0M337.9 407.2h0" stroke="#ff9a3c" stroke-width="1.7" stroke-linecap="round" fill="none"/>
<path d="M349.4 394.2h0M337.1 414.3h0M354.1 388.4h0M344.7 401.6h0M358.2 369.9h0M353.1 387.5h0M362.7 363.9h0M347.2 392.6h0M340.6 406.1h0M349.7 395.3h0M359.3 374.2h0M337.8 408.5h0" stroke="#ff8a28" stroke-width="1.7" stroke-linecap="round" fill="none"/>
<path d="M361.6 375.7h0M352.6 393.6h0M348.4 388.0h0M347.7 397.0h0M358.0 382.2h0M345.5 397.8h0M348.2 391.2h0M350.9 393.3h0M356.4 377.8h0M344.7 405.2h0M360.7 374.1h0M343.6 405.0h0" stroke="#ffb070" stroke-width="1.7" stroke-linecap="round" fill="none"/>
<path d="M347.3 393.5h0M363.2 365.4h0M360.3 379.4h0M340.5 409.9h0M361.3 357.6h0M354.5 391.4h0M366.9 381.0h0M352.9 390.3h0M359.8 372.9h0M344.9 391.0h0M347.1 397.0h0M356.9 373.6h0" stroke="#ffc8a0" stroke-width="1.7" stroke-linecap="round" fill="none"/>
<path d="M376.0 356.4h0M376.1 359.4h0M376.4 354.7h0M383.6 347.1h0" stroke="#7fd0ff" stroke-width="1.7" stroke-linecap="round" fill="none"/>
<path d="M383.2 349.5h0M371.6 363.2h0M377.0 353.8h0" stroke="#a8e4ff" stroke-width="1.7" stroke-linecap="round" fill="none"/>
<path d="M372.5 362.5h0M381.3 353.7h0M387.0 348.2h0" stroke="#9ff0d8" stroke-width="1.7" stroke-linecap="round" fill="none"/>
<path d="M344.1 378.3h0M359.6 378.2h0M342.3 384.3h0" stroke="#7df06e" stroke-width="1.7" stroke-linecap="round" fill="none"/>
<path d="M341.1 384.2h0M343.3 376.6h0" stroke="#5fee50" stroke-width="1.7" stroke-linecap="round" fill="none"/>
<path d="M338.5 382.4h0M348.2 383.2h0" stroke="#b4f58c" stroke-width="1.7" stroke-linecap="round" fill="none"/>
<path d="M377.6 414.7h0M373.5 402.8h0M365.3 372.3h0M364.1 359.3h0M377.8 418.0h0M371.1 399.1h0M368.7 394.6h0M363.7 378.5h0M373.7 405.0h0M379.3 431.4h0M370.4 389.6h0M378.4 408.6h0M380.1 424.0h0M368.4 390.3h0M361.2 359.2h0M365.7 383.6h0M378.5 414.7h0M366.2 377.2h0M368.1 391.5h0M381.3 415.3h0M367.2 369.5h0M376.7 420.7h0" stroke="#e8fa14" stroke-width="1.7" stroke-linecap="round" fill="none"/>
<path d="M364.7 383.0h0M368.1 392.0h0M360.1 368.1h0M379.2 429.4h0M379.8 428.7h0M371.5 384.5h0M381.3 433.0h0M363.5 366.3h0M368.2 390.6h0M371.0 395.0h0M368.9 395.3h0M376.1 412.7h0M351.3 406.5h0M367.5 397.6h0M373.0 411.6h0M375.8 410.8h0M378.8 423.5h0M381.5 419.5h0M370.1 388.5h0M377.6 414.1h0M380.2 417.7h0" stroke="#e2f510" stroke-width="1.7" stroke-linecap="round" fill="none"/>
<path d="M379.9 418.5h0M358.2 365.6h0M363.5 376.8h0M360.9 370.5h0M364.9 381.9h0M367.3 397.7h0M373.5 401.8h0M363.2 370.9h0M374.4 402.2h0M364.6 365.7h0M376.6 407.3h0M370.2 398.3h0M376.4 408.5h0M367.5 387.2h0M363.7 382.7h0M378.6 419.2h0M375.0 405.6h0M366.7 387.7h0M363.6 366.1h0M377.2 425.8h0M381.8 424.5h0" stroke="#f0f870" stroke-width="1.7" stroke-linecap="round" fill="none"/>
<path d="M380.6 351.8h0M380.6 349.4h0M375.5 358.7h0M375.4 357.4h0" stroke="#7fd0ff" stroke-width="1.7" stroke-linecap="round" fill="none"/>
<path d="M382.0 350.4h0M380.9 351.8h0M382.7 348.3h0" stroke="#a8e4ff" stroke-width="1.7" stroke-linecap="round" fill="none"/>
<path d="M380.5 359.0h0M376.0 352.6h0M377.3 353.5h0" stroke="#9ff0d8" stroke-width="1.7" stroke-linecap="round" fill="none"/>
<path d="M333.6 394.3h0M330.9 401.2h0M330.9 400.6h0" stroke="#f0356e" stroke-width="1.7" stroke-linecap="round" fill="none"/>
<path d="M341.0 392.5h0M322.8 410.3h0M334.3 398.2h0" stroke="#ff4a5a" stroke-width="1.7" stroke-linecap="round" fill="none"/>
<path d="M319.6 408.9h0M320.3 409.5h0M337.5 396.5h0" stroke="#f56090" stroke-width="1.7" stroke-linecap="round" fill="none"/>
<path d="M347.3 395.4h0M350.6 385.0h0M346.9 400.2h0M347.8 392.4h0M339.7 412.0h0M345.7 390.1h0M343.6 399.4h0M362.0 378.8h0M356.8 386.9h0M346.0 400.2h0M337.2 416.4h0M347.0 384.2h0M356.7 392.8h0" stroke="#ff9a3c" stroke-width="1.7" stroke-linecap="round" fill="none"/>
<path d="M344.8 397.9h0M348.2 394.2h0M345.4 400.6h0M367.3 377.6h0M354.1 370.2h0M345.1 398.8h0M351.2 394.0h0M345.5 382.4h0M341.0 385.3h0M348.6 385.8h0M356.5 398.1h0M364.2 372.8h0M363.4 379.0h0" stroke="#ff8a28" stroke-width="1.7" stroke-linecap="round" fill="none"/>
<path d="M345.5 403.1h0M348.8 394.9h0M360.4 368.3h0M344.2 392.4h0M347.6 396.0h0M343.9 393.5h0M345.4 398.0h0M344.7 394.6h0M337.0 413.3h0M345.6 390.7h0M350.9 390.2h0M346.4 382.1h0" stroke="#ffb070" stroke-width="1.7" stroke-linecap="round" fill="none"/>
<path d="M361.9 369.2h0M339.5 411.0h0M349.2 393.9h0M342.5 401.9h0M359.5 387.6h0M362.7 372.9h0M338.2 414.2h0M342.0 406.7h0M337.6 414.5h0M354.0 390.7h0M342.2 395.5h0M347.4 395.6h0" stroke="#ffc8a0" stroke-width="1.7" stroke-linecap="round" fill="none"/>
<path d="M349.3 405.0h0M372.1 371.1h0M379.1 385.1h0M365.3 365.8h0M378.1 386.6h0M379.3 400.6h0M377.8 400.0h0M422.7 395.5h0M380.9 388.4h0M392.3 391.6h0M374.8 370.9h0M377.2 381.2h0M371.2 381.9h0M404.3 400.0h0M372.9 381.5h0M411.7 392.7h0M372.3 382.5h0M372.7 388.4h0M376.6 382.2h0M388.3 407.0h0M405.6 389.6h0" stroke="#2a50ff" stroke-width="1.7" stroke-linecap="round" fill="none"/>
<path d="M427.8 385.0h0M379.1 385.9h0M371.6 366.2h0M370.8 363.1h0M394.2 392.3h0M416.9 393.3h0M380.2 383.3h0M391.8 394.0h0M366.8 384.2h0M375.9 378.6h0M373.6 374.7h0M372.7 383.3h0M414.7 391.9h0M377.4 369.4h0M388.7 392.4h0M401.1 392.1h0M423.7 396.6h0M375.8 391.5h0M376.5 393.7h0M428.0 393.6h0M379.0 398.3h0" stroke="#1e46ff" stroke-width="1.7" stroke-linecap="round" fill="none"/>
<path d="M403.3 388.9h0M384.7 393.3h0M399.5 392.1h0M380.5 385.3h0M377.1 383.1h0M416.3 396.6h0M409.8 399.0h0M378.0 388.6h0M384.5 401.7h0M430.6 397.6h0M371.1 378.2h0M370.3 370.4h0M379.6 379.5h0M373.0 381.2h0M377.5 386.7h0M365.8 364.0h0M381.2 389.8h0M391.3 389.9h0M381.4 385.6h0M369.1 365.4h0M373.1 376.7h0" stroke="#4f70f5" stroke-width="1.7" stroke-linecap="round" fill="none"/>
<path d="M377.7 378.0h0M377.2 388.1h0M372.0 359.5h0M399.4 392.7h0M418.5 380.7h0M369.1 367.3h0M364.7 389.6h0M383.9 383.9h0M415.5 393.5h0M377.9 396.7h0M423.4 394.7h0M382.0 395.5h0M377.3 393.5h0M377.8 391.2h0M367.0 381.8h0M388.5 393.7h0M409.3 399.5h0M377.3 392.2h0M377.5 388.3h0M374.7 381.4h0" stroke="#86a4ff" stroke-width="1.7" stroke-linecap="round" fill="none"/>
<circle cx="452.5" cy="357.5" r="2.45" fill="#eeff00"/>
<text x="458.2" y="359.9" font-size="7.0" textLength="35.6" lengthAdjust="spacingAndGlyphs">Neutrophil</text>
<circle cx="452.5" cy="364.1" r="2.45" fill="#5a14ff"/>
<text x="458.2" y="366.6" font-size="7.0" textLength="30.6" lengthAdjust="spacingAndGlyphs">Erythroid</text>
<circle cx="452.5" cy="370.7" r="2.45" fill="#0a32ff"/>
<text x="458.2" y="373.1" font-size="7.0" textLength="33.1" lengthAdjust="spacingAndGlyphs">Monocyte</text>
<circle cx="452.5" cy="377.3" r="2.45" fill="#14f514"/>
<text x="458.2" y="379.8" font-size="7.0" textLength="51.0" lengthAdjust="spacingAndGlyphs">Megakaryocyte</text>
<circle cx="452.5" cy="383.9" r="2.45" fill="#ff0a96"/>
<text x="458.2" y="386.3" font-size="7.0" textLength="15.7" lengthAdjust="spacingAndGlyphs">Mast</text>
<circle cx="452.5" cy="390.5" r="2.45" fill="#ff7f00"/>
<text x="458.2" y="392.9" font-size="7.0" textLength="27.3" lengthAdjust="spacingAndGlyphs">Basophil</text>
<circle cx="452.5" cy="397.1" r="2.45" fill="#00bfff"/>
<text x="458.2" y="399.6" font-size="7.0" textLength="33.1" lengthAdjust="spacingAndGlyphs">Lymphoid</text>
<circle cx="452.5" cy="403.7" r="2.45" fill="#ff14f0"/>
<text x="458.2" y="406.1" font-size="7.0" textLength="34.4" lengthAdjust="spacingAndGlyphs">Eosinophil</text>
<circle cx="452.5" cy="410.3" r="2.45" fill="#00f500"/>
<text x="458.2" y="412.8" font-size="7.0" textLength="27.3" lengthAdjust="spacingAndGlyphs">Ccr7 DC</text>
<circle cx="452.5" cy="416.9" r="2.45" fill="#2dfab4"/>
<text x="458.2" y="419.3" font-size="7.0" textLength="14.1" lengthAdjust="spacingAndGlyphs">pDC</text>
<text x="526.0" y="333.0" font-size="8.8" textLength="123.6" lengthAdjust="spacingAndGlyphs">4 Correlation of prediction and</text>
<text x="526.0" y="342.8" font-size="8.8" textLength="112" lengthAdjust="spacingAndGlyphs">differentiated fate of clones</text>
<rect x="553.5" y="350.0" width="11.0" height="100.3" fill="#0a3cff"/>
<rect x="567.0" y="364.6" width="11.0" height="85.7" fill="#a3a3a3"/>
<rect x="580.5" y="374.6" width="11.0" height="75.7" fill="#ff7c00"/>
<rect x="594.0" y="375.8" width="11.0" height="74.5" fill="#8b2be2"/>
<rect x="607.8" y="422.8" width="11.0" height="27.5" fill="#1ac938"/>
<rect x="621.3" y="423.9" width="11.0" height="26.4" fill="#e8000b"/>
<path d="M549.6 346.2V450.3H636.2" stroke="#999" stroke-width="1" fill="none"/>
<path d="M546.4 450.3h3.2M546.4 422.9h3.2M546.4 395.6h3.2M546.4 368.1h3.2" stroke="#999" stroke-width="0.7"/>
<text x="543.3" y="453.0" font-size="8.2" text-anchor="end">0</text>
<text x="543.3" y="425.6" font-size="8.2" text-anchor="end">0.2</text>
<text x="543.3" y="398.3" font-size="8.2" text-anchor="end">0.4</text>
<text x="543.3" y="370.8" font-size="8.2" text-anchor="end">0.6</text>
<text x="525.4" y="397.8" font-size="8.8" text-anchor="middle" textLength="78" lengthAdjust="spacingAndGlyphs" transform="rotate(-90 525.4 397.8)">Pearson correlation</text>
<rect x="644.5" y="353.1" width="4.2" height="4.2" fill="#0a3cff"/>
<text x="652.3" y="357.7" font-size="7.3">TACCO</text>
<rect x="644.5" y="361.1" width="4.2" height="4.2" fill="#a3a3a3"/>
<text x="652.3" y="365.7" font-size="7.3">WOT</text>
<rect x="644.5" y="369.1" width="4.2" height="4.2" fill="#ff7c00"/>
<text x="652.3" y="373.7" font-size="7.3">SVM</text>
<rect x="644.5" y="377.1" width="4.2" height="4.2" fill="#8b2be2"/>
<text x="652.3" y="381.7" font-size="7.3">NMFreg</text>
<rect x="644.5" y="385.1" width="4.2" height="4.2" fill="#1ac938"/>
<text x="652.3" y="389.7" font-size="7.3">SingleR</text>
<rect x="644.5" y="393.1" width="4.2" height="4.2" fill="#e8000b"/>
<text x="652.3" y="397.7" font-size="7.3">RCTD</text>
</svg></body></html>
